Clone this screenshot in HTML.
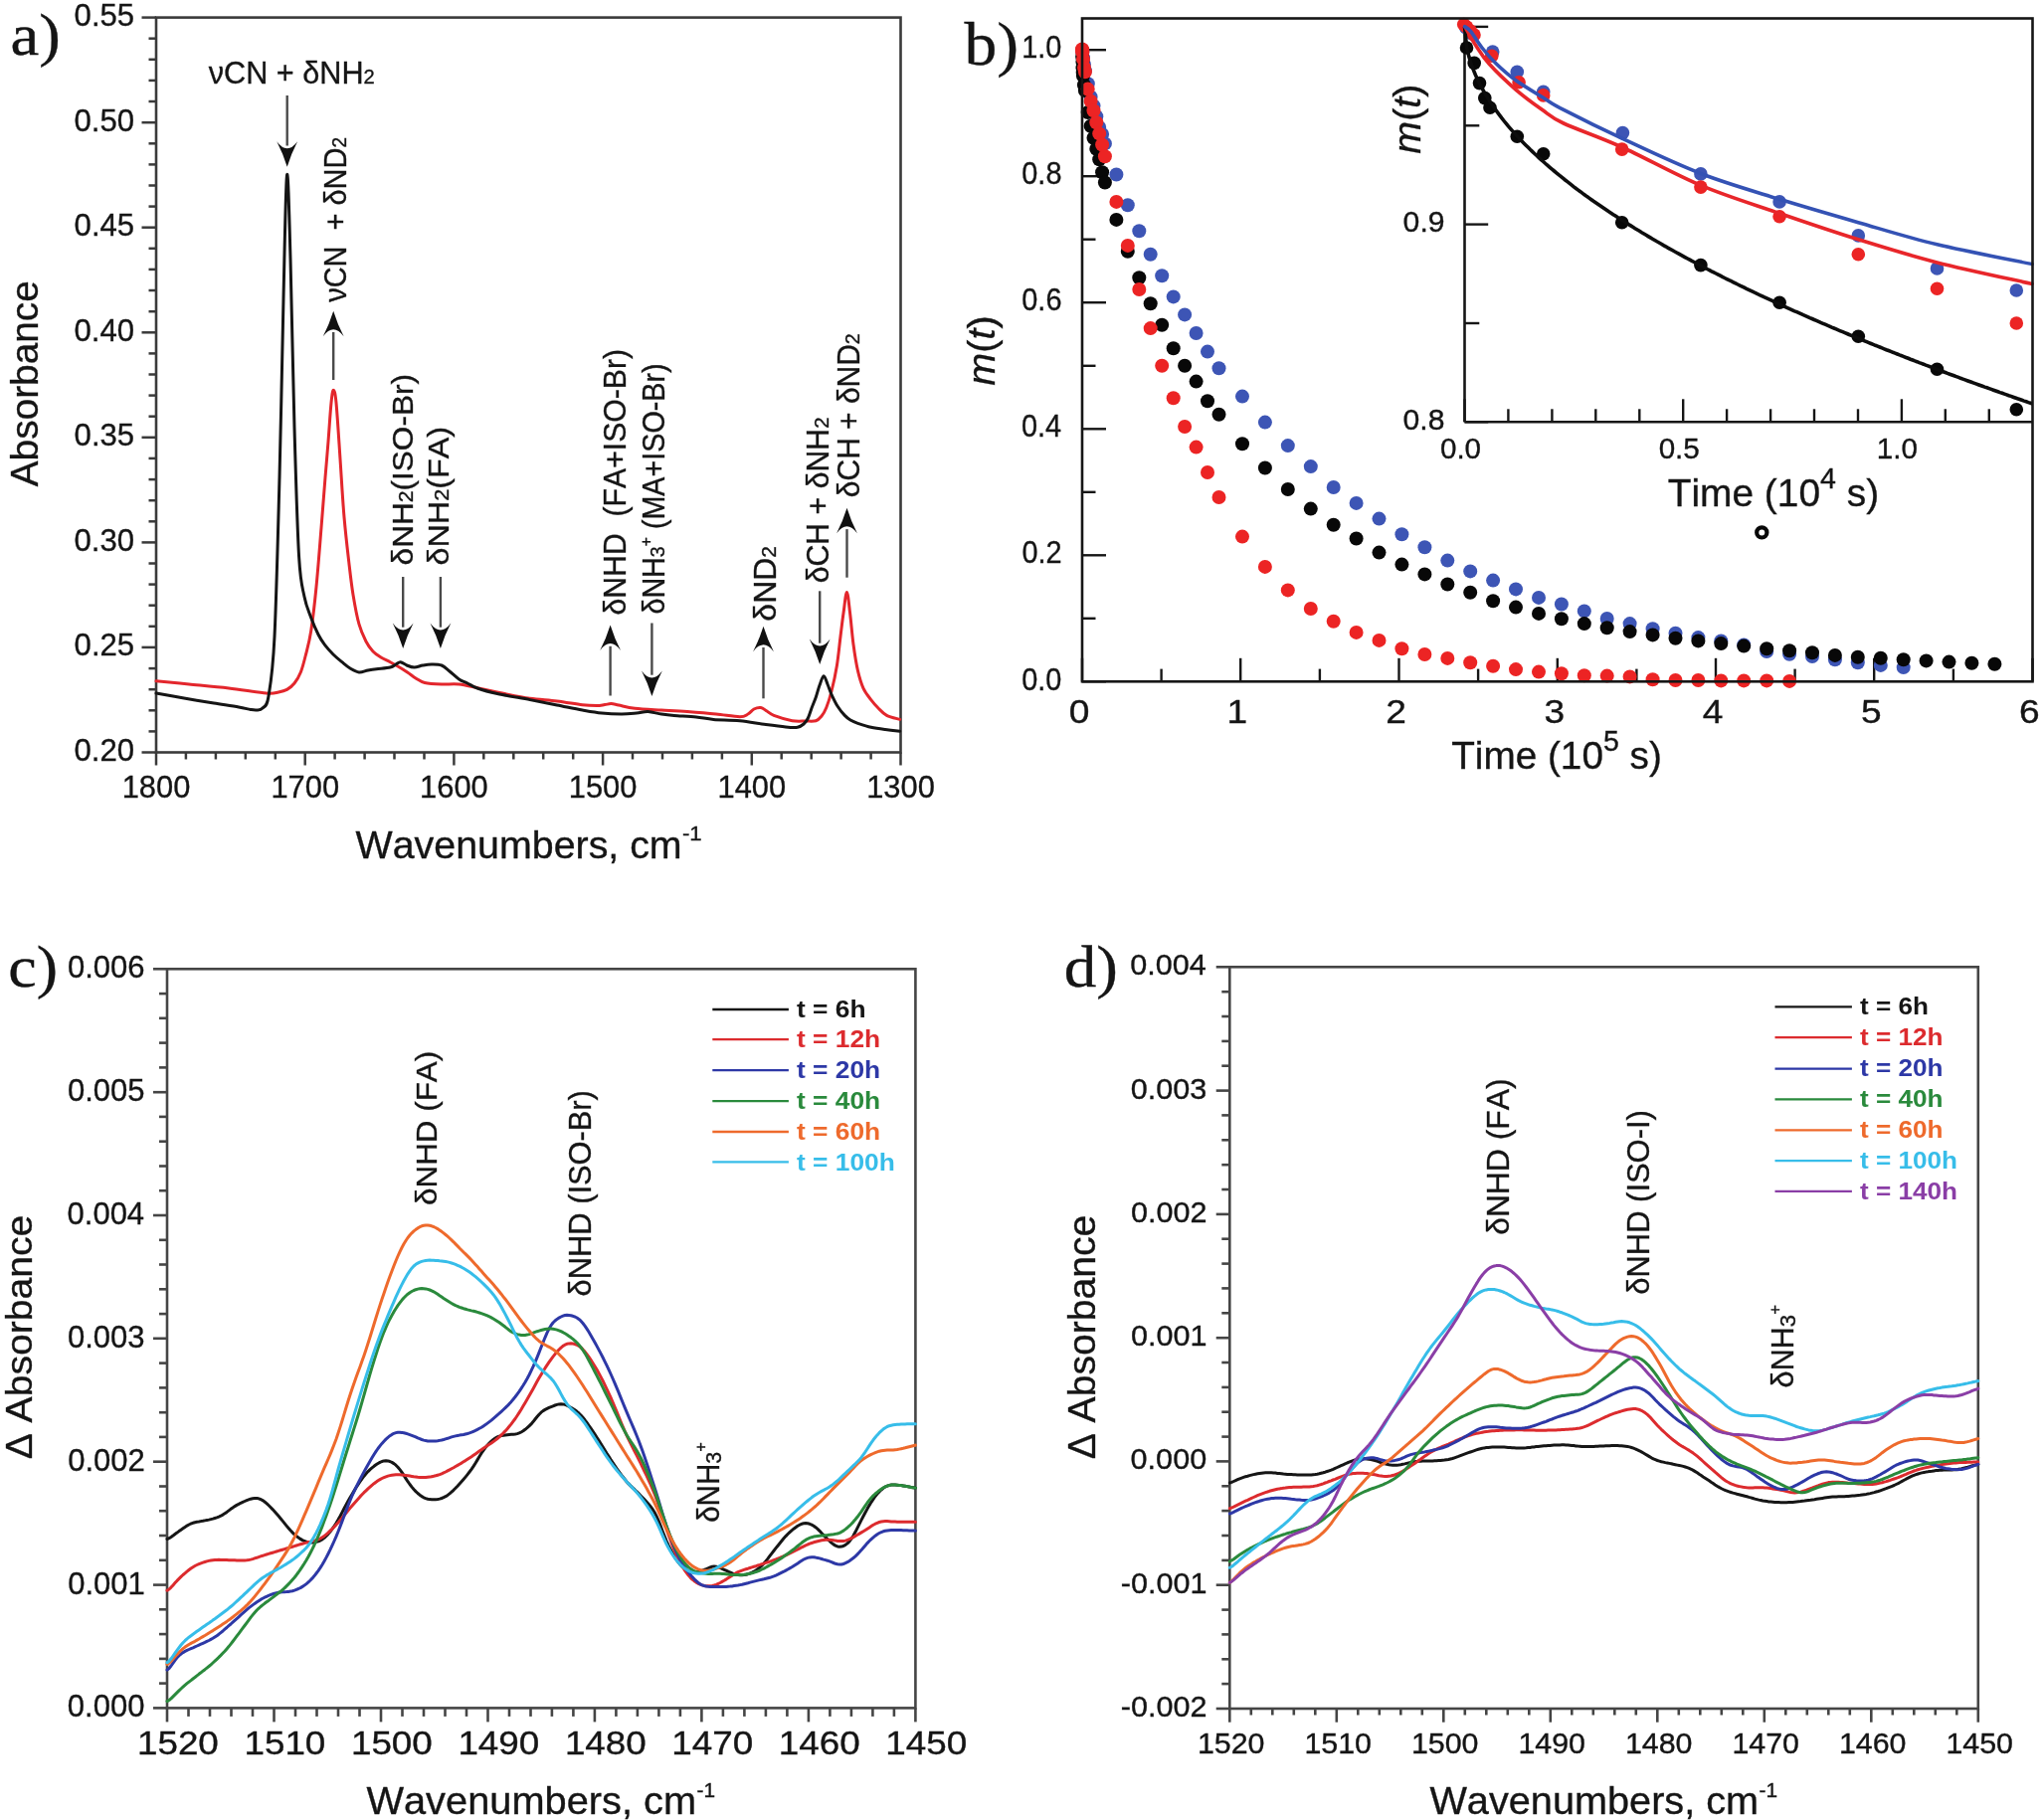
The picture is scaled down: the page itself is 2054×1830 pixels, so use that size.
<!DOCTYPE html>
<html><head><meta charset="utf-8"><title>Figure</title>
<style>
html,body{margin:0;padding:0;background:#fff;}
body{width:2054px;height:1830px;overflow:hidden;}
svg{display:block;filter:blur(0.45px);}
text{font-kerning:none;font-variant-ligatures:none;}
</style></head>
<body>
<svg xmlns="http://www.w3.org/2000/svg" width="2054" height="1830" viewBox="0 0 2054 1830">
<rect width="2054" height="1830" fill="#fff"/>
<g id="pa">
<line x1="142.5" y1="756.5" x2="157" y2="756.5" stroke="#3a3a3a" stroke-width="2.5"/>
<line x1="149.5" y1="735.4" x2="157" y2="735.4" stroke="#3a3a3a" stroke-width="2.5"/>
<line x1="149.5" y1="714.3" x2="157" y2="714.3" stroke="#3a3a3a" stroke-width="2.5"/>
<line x1="149.5" y1="693.2" x2="157" y2="693.2" stroke="#3a3a3a" stroke-width="2.5"/>
<line x1="149.5" y1="672.1" x2="157" y2="672.1" stroke="#3a3a3a" stroke-width="2.5"/>
<line x1="142.5" y1="650.9" x2="157" y2="650.9" stroke="#3a3a3a" stroke-width="2.5"/>
<line x1="149.5" y1="629.8" x2="157" y2="629.8" stroke="#3a3a3a" stroke-width="2.5"/>
<line x1="149.5" y1="608.7" x2="157" y2="608.7" stroke="#3a3a3a" stroke-width="2.5"/>
<line x1="149.5" y1="587.6" x2="157" y2="587.6" stroke="#3a3a3a" stroke-width="2.5"/>
<line x1="149.5" y1="566.5" x2="157" y2="566.5" stroke="#3a3a3a" stroke-width="2.5"/>
<line x1="142.5" y1="545.4" x2="157" y2="545.4" stroke="#3a3a3a" stroke-width="2.5"/>
<line x1="149.5" y1="524.3" x2="157" y2="524.3" stroke="#3a3a3a" stroke-width="2.5"/>
<line x1="149.5" y1="503.2" x2="157" y2="503.2" stroke="#3a3a3a" stroke-width="2.5"/>
<line x1="149.5" y1="482.1" x2="157" y2="482.1" stroke="#3a3a3a" stroke-width="2.5"/>
<line x1="149.5" y1="460.9" x2="157" y2="460.9" stroke="#3a3a3a" stroke-width="2.5"/>
<line x1="142.5" y1="439.8" x2="157" y2="439.8" stroke="#3a3a3a" stroke-width="2.5"/>
<line x1="149.5" y1="418.7" x2="157" y2="418.7" stroke="#3a3a3a" stroke-width="2.5"/>
<line x1="149.5" y1="397.6" x2="157" y2="397.6" stroke="#3a3a3a" stroke-width="2.5"/>
<line x1="149.5" y1="376.5" x2="157" y2="376.5" stroke="#3a3a3a" stroke-width="2.5"/>
<line x1="149.5" y1="355.4" x2="157" y2="355.4" stroke="#3a3a3a" stroke-width="2.5"/>
<line x1="142.5" y1="334.3" x2="157" y2="334.3" stroke="#3a3a3a" stroke-width="2.5"/>
<line x1="149.5" y1="313.2" x2="157" y2="313.2" stroke="#3a3a3a" stroke-width="2.5"/>
<line x1="149.5" y1="292" x2="157" y2="292" stroke="#3a3a3a" stroke-width="2.5"/>
<line x1="149.5" y1="270.9" x2="157" y2="270.9" stroke="#3a3a3a" stroke-width="2.5"/>
<line x1="149.5" y1="249.8" x2="157" y2="249.8" stroke="#3a3a3a" stroke-width="2.5"/>
<line x1="142.5" y1="228.7" x2="157" y2="228.7" stroke="#3a3a3a" stroke-width="2.5"/>
<line x1="149.5" y1="207.6" x2="157" y2="207.6" stroke="#3a3a3a" stroke-width="2.5"/>
<line x1="149.5" y1="186.5" x2="157" y2="186.5" stroke="#3a3a3a" stroke-width="2.5"/>
<line x1="149.5" y1="165.4" x2="157" y2="165.4" stroke="#3a3a3a" stroke-width="2.5"/>
<line x1="149.5" y1="144.3" x2="157" y2="144.3" stroke="#3a3a3a" stroke-width="2.5"/>
<line x1="142.5" y1="123.2" x2="157" y2="123.2" stroke="#3a3a3a" stroke-width="2.5"/>
<line x1="149.5" y1="102" x2="157" y2="102" stroke="#3a3a3a" stroke-width="2.5"/>
<line x1="149.5" y1="80.9" x2="157" y2="80.9" stroke="#3a3a3a" stroke-width="2.5"/>
<line x1="149.5" y1="59.8" x2="157" y2="59.8" stroke="#3a3a3a" stroke-width="2.5"/>
<line x1="149.5" y1="38.7" x2="157" y2="38.7" stroke="#3a3a3a" stroke-width="2.5"/>
<line x1="142.5" y1="17.6" x2="157" y2="17.6" stroke="#3a3a3a" stroke-width="2.5"/>
<line x1="157" y1="756.5" x2="157" y2="769.5" stroke="#3a3a3a" stroke-width="2.5"/>
<line x1="186.9" y1="756.5" x2="186.9" y2="763.5" stroke="#3a3a3a" stroke-width="2.5"/>
<line x1="216.9" y1="756.5" x2="216.9" y2="763.5" stroke="#3a3a3a" stroke-width="2.5"/>
<line x1="246.8" y1="756.5" x2="246.8" y2="763.5" stroke="#3a3a3a" stroke-width="2.5"/>
<line x1="276.8" y1="756.5" x2="276.8" y2="763.5" stroke="#3a3a3a" stroke-width="2.5"/>
<line x1="306.7" y1="756.5" x2="306.7" y2="769.5" stroke="#3a3a3a" stroke-width="2.5"/>
<line x1="336.6" y1="756.5" x2="336.6" y2="763.5" stroke="#3a3a3a" stroke-width="2.5"/>
<line x1="366.6" y1="756.5" x2="366.6" y2="763.5" stroke="#3a3a3a" stroke-width="2.5"/>
<line x1="396.5" y1="756.5" x2="396.5" y2="763.5" stroke="#3a3a3a" stroke-width="2.5"/>
<line x1="426.5" y1="756.5" x2="426.5" y2="763.5" stroke="#3a3a3a" stroke-width="2.5"/>
<line x1="456.4" y1="756.5" x2="456.4" y2="769.5" stroke="#3a3a3a" stroke-width="2.5"/>
<line x1="486.3" y1="756.5" x2="486.3" y2="763.5" stroke="#3a3a3a" stroke-width="2.5"/>
<line x1="516.3" y1="756.5" x2="516.3" y2="763.5" stroke="#3a3a3a" stroke-width="2.5"/>
<line x1="546.2" y1="756.5" x2="546.2" y2="763.5" stroke="#3a3a3a" stroke-width="2.5"/>
<line x1="576.2" y1="756.5" x2="576.2" y2="763.5" stroke="#3a3a3a" stroke-width="2.5"/>
<line x1="606.1" y1="756.5" x2="606.1" y2="769.5" stroke="#3a3a3a" stroke-width="2.5"/>
<line x1="636" y1="756.5" x2="636" y2="763.5" stroke="#3a3a3a" stroke-width="2.5"/>
<line x1="666" y1="756.5" x2="666" y2="763.5" stroke="#3a3a3a" stroke-width="2.5"/>
<line x1="695.9" y1="756.5" x2="695.9" y2="763.5" stroke="#3a3a3a" stroke-width="2.5"/>
<line x1="725.9" y1="756.5" x2="725.9" y2="763.5" stroke="#3a3a3a" stroke-width="2.5"/>
<line x1="755.8" y1="756.5" x2="755.8" y2="769.5" stroke="#3a3a3a" stroke-width="2.5"/>
<line x1="785.7" y1="756.5" x2="785.7" y2="763.5" stroke="#3a3a3a" stroke-width="2.5"/>
<line x1="815.7" y1="756.5" x2="815.7" y2="763.5" stroke="#3a3a3a" stroke-width="2.5"/>
<line x1="845.6" y1="756.5" x2="845.6" y2="763.5" stroke="#3a3a3a" stroke-width="2.5"/>
<line x1="875.6" y1="756.5" x2="875.6" y2="763.5" stroke="#3a3a3a" stroke-width="2.5"/>
<line x1="905.5" y1="756.5" x2="905.5" y2="769.5" stroke="#3a3a3a" stroke-width="2.5"/>
<rect x="157" y="17.6" width="748.5" height="738.9" fill="none" stroke="#3a3a3a" stroke-width="2.6"/>
<text transform="translate(74.48,764.90) scale(1.0050,1)" font-family="'Liberation Sans', Arial, Helvetica, sans-serif" fill="#151515" stroke="#151515" stroke-width="0.35"><tspan x="0.00" y="0.00" font-size="31">0.20</tspan></text>
<text transform="translate(74.57,659.34) scale(1.0050,1)" font-family="'Liberation Sans', Arial, Helvetica, sans-serif" fill="#151515" stroke="#151515" stroke-width="0.35"><tspan x="0.00" y="0.00" font-size="31">0.25</tspan></text>
<text transform="translate(74.48,553.79) scale(1.0050,1)" font-family="'Liberation Sans', Arial, Helvetica, sans-serif" fill="#151515" stroke="#151515" stroke-width="0.35"><tspan x="0.00" y="0.00" font-size="31">0.30</tspan></text>
<text transform="translate(74.57,448.23) scale(1.0050,1)" font-family="'Liberation Sans', Arial, Helvetica, sans-serif" fill="#151515" stroke="#151515" stroke-width="0.35"><tspan x="0.00" y="0.00" font-size="31">0.35</tspan></text>
<text transform="translate(74.48,342.67) scale(1.0050,1)" font-family="'Liberation Sans', Arial, Helvetica, sans-serif" fill="#151515" stroke="#151515" stroke-width="0.35"><tspan x="0.00" y="0.00" font-size="31">0.40</tspan></text>
<text transform="translate(74.57,237.11) scale(1.0050,1)" font-family="'Liberation Sans', Arial, Helvetica, sans-serif" fill="#151515" stroke="#151515" stroke-width="0.35"><tspan x="0.00" y="0.00" font-size="31">0.45</tspan></text>
<text transform="translate(74.48,131.56) scale(1.0050,1)" font-family="'Liberation Sans', Arial, Helvetica, sans-serif" fill="#151515" stroke="#151515" stroke-width="0.35"><tspan x="0.00" y="0.00" font-size="31">0.50</tspan></text>
<text transform="translate(74.57,26.00) scale(1.0050,1)" font-family="'Liberation Sans', Arial, Helvetica, sans-serif" fill="#151515" stroke="#151515" stroke-width="0.35"><tspan x="0.00" y="0.00" font-size="31">0.55</tspan></text>
<text transform="translate(122.70,802.00) scale(0.9798,1)" font-family="'Liberation Sans', Arial, Helvetica, sans-serif" fill="#151515" stroke="#151515" stroke-width="0.35"><tspan x="0.00" y="0.00" font-size="31.5">1800</tspan></text>
<text transform="translate(272.40,802.00) scale(0.9798,1)" font-family="'Liberation Sans', Arial, Helvetica, sans-serif" fill="#151515" stroke="#151515" stroke-width="0.35"><tspan x="0.00" y="0.00" font-size="31.5">1700</tspan></text>
<text transform="translate(422.10,802.00) scale(0.9798,1)" font-family="'Liberation Sans', Arial, Helvetica, sans-serif" fill="#151515" stroke="#151515" stroke-width="0.35"><tspan x="0.00" y="0.00" font-size="31.5">1600</tspan></text>
<text transform="translate(571.80,802.00) scale(0.9798,1)" font-family="'Liberation Sans', Arial, Helvetica, sans-serif" fill="#151515" stroke="#151515" stroke-width="0.35"><tspan x="0.00" y="0.00" font-size="31.5">1500</tspan></text>
<text transform="translate(721.50,802.00) scale(0.9798,1)" font-family="'Liberation Sans', Arial, Helvetica, sans-serif" fill="#151515" stroke="#151515" stroke-width="0.35"><tspan x="0.00" y="0.00" font-size="31.5">1400</tspan></text>
<text transform="translate(871.20,802.00) scale(0.9798,1)" font-family="'Liberation Sans', Arial, Helvetica, sans-serif" fill="#151515" stroke="#151515" stroke-width="0.35"><tspan x="0.00" y="0.00" font-size="31.5">1300</tspan></text>
<text transform="translate(357.53,863.20) scale(1.0283,1)" font-family="'Liberation Sans', Arial, Helvetica, sans-serif" fill="#151515" stroke="#151515" stroke-width="0.35"><tspan x="0.00" y="0.00" font-size="38.3">Wavenumbers, cm</tspan></text>
<text transform="translate(685.91,845.10) scale(1.0590,1)" font-family="'Liberation Sans', Arial, Helvetica, sans-serif" fill="#151515" stroke="#151515" stroke-width="0.35"><tspan x="0.00" y="0.00" font-size="21">-1</tspan></text>
<text transform="translate(37.90,489.28) rotate(-90) scale(1.0212,1)" font-family="'Liberation Sans', Arial, Helvetica, sans-serif" fill="#151515" stroke="#151515" stroke-width="0.35"><tspan x="0.00" y="0.00" font-size="38">Absorbance</tspan></text>
<text transform="translate(10.42,55.30) scale(1.0797,1)" font-family="'Liberation Serif', 'Times New Roman', serif" fill="#151515" stroke="#151515" stroke-width="0.35"><tspan x="0.00" y="0.00" font-size="60">a)</tspan></text>
<path d="M157,684.8C162.5,685.3 177.8,686.8 190,688C202.2,689.2 217.1,690.5 230,692C242.9,693.5 259.4,696.3 267.7,697C276,697.7 276.5,696.6 280,696C283.5,695.4 285.8,694.9 288.5,693.4C291.2,691.9 293.7,689.9 296,687C298.3,684.1 300.5,680.5 302.3,676C304.1,671.5 305.3,666.9 307,660C308.7,653.1 310.9,646.3 312.7,634.6C314.5,622.9 316.3,607.3 318,590C319.7,572.7 321.5,549 323,530.7C324.5,512.4 325.8,494.4 327,480C328.2,465.6 329,456.5 330,444C331,431.5 332.1,413.6 333,405C333.9,396.4 334.4,392.3 335.2,392.3C336,392.3 336.9,393.5 338,405C339.1,416.5 340.7,442.3 342,461.5C343.3,480.7 344.5,502.7 346,520C347.5,537.3 349.3,552.4 350.8,565.4C352.3,578.4 353.3,587.6 355,598C356.7,608.4 358.8,619.9 361,627.7C363.2,635.5 365.7,640.5 368,645C370.3,649.5 372.5,652.3 375,655C377.5,657.7 380.1,659.2 383,661C385.9,662.8 389.5,664.2 392.3,665.7C395.1,667.2 397.1,668.3 400,670C402.9,671.7 406.6,674 409.6,676C412.6,678 415.1,680.2 418,682C420.9,683.8 422.7,685.5 427,686.5C431.3,687.5 438.2,687.8 444,688C449.8,688.2 455.5,687.4 461.5,688C467.5,688.6 472.8,690.2 480,691.7C487.2,693.2 496.2,695.2 505,697C513.8,698.8 523.6,701 532.8,702.3C542,703.6 551.2,703.9 560,705C568.8,706.1 578.8,708 585.5,708.8C592.2,709.6 596.2,709.6 600,709.6C603.8,709.6 605.6,708.9 608,708.6C610.4,708.3 612.2,707.5 614.5,707.6C616.8,707.7 618,708.2 622,709C626,709.8 631.1,711.5 638.3,712.3C645.5,713.1 656.2,713.5 665,714C673.8,714.5 681.8,714.8 691,715.5C700.2,716.2 711.2,717.1 720,718C728.8,718.9 738.5,720.7 743.8,720.7C749.1,720.7 749.6,719.3 752,718C754.4,716.7 755.9,714.1 758,713C760.1,711.9 762.7,711.2 764.9,711.5C767.1,711.8 768.8,713.7 771,715C773.2,716.3 773.8,717.8 778,719.4C782.2,721 791.2,723.8 796.5,724.7C801.8,725.6 806,725 810,725C814,725 817.6,725.5 820.3,724.7C823,723.9 824.2,722.2 826,720C827.8,717.8 829.1,715.7 830.8,711.5C832.5,707.3 834.2,702 836,695C837.8,688 839.9,678.5 841.4,669.3C842.9,660.1 843.9,648.8 845,640C846.1,631.2 846.9,623.9 848,616.5C849.1,609.1 850.3,595.4 851.4,595.4C852.5,595.4 853.5,607.7 854.6,616.5C855.7,625.3 856.7,638.3 858,648C859.3,657.7 860.8,667.3 862.5,674.6C864.2,681.9 865.8,687.2 868,692C870.2,696.8 873.2,700.3 875.7,703.6C878.2,706.9 880.4,709.4 883,712C885.6,714.6 887.9,717.5 891.5,719.4C895.1,721.3 902.5,722.7 904.7,723.4" fill="none" stroke="#e3262c" stroke-width="3.0" stroke-linejoin="round" stroke-linecap="round"/>
<path d="M157,697C161.7,697.8 175.3,700.3 185,702C194.7,703.7 205.8,705.5 215,707C224.2,708.5 233.8,709.9 240,711C246.2,712.1 249,713 252,713.5C255,714 256,714.2 258,714C260,713.8 262,714.3 264,712C266,709.7 268,712 270,700C272,688 274.2,676.7 276,640C277.8,603.3 279.5,536.7 281,480C282.5,423.3 283.8,350.7 285,300C286.2,249.3 287.3,182.7 288.5,176C289.7,169.3 290.8,217.7 292,260C293.2,302.3 294.6,380 296,430C297.4,480 298.9,531.7 300.6,560C302.3,588.3 304,589.8 306,600C308,610.2 310.4,614.7 312.7,621C315,627.3 317.7,633.4 320,638C322.3,642.6 324,645.1 326.5,648.4C329,651.7 332.1,655.1 335,658C337.9,660.9 341,663.4 343.8,665.7C346.6,668 349.1,670.3 352,672C354.9,673.7 358,675.7 361,676C364,676.3 367.1,674.5 370,674C372.9,673.5 374.7,673.2 378.4,672.7C382.1,672.2 389,671.8 392.3,671C395.6,670.2 396.3,668.9 398,668C399.7,667.1 400.9,665.5 402.7,665.7C404.5,665.9 406.7,668.1 409,669C411.3,669.9 413.8,671 416.5,671C419.2,671 422.1,669.5 425,669C427.9,668.5 430.6,668 433.8,668C437,668 441,667.8 444,669C447,670.2 449.1,672.7 452,675C454.9,677.3 458.5,681 461.5,683C464.5,685 466.9,685.5 470,687C473.1,688.5 475,690.2 480,692C485,693.8 491.2,695.6 500,697.5C508.8,699.4 522.8,701.7 532.8,703.6C542.8,705.5 551.2,707.3 560,709C568.8,710.7 578,712.7 585.5,714C593,715.3 598.4,716.3 605,717C611.6,717.7 619.2,718 625,718C630.8,718 635.6,717.4 640,717C644.4,716.6 647.3,715.3 651.5,715.5C655.7,715.7 660.6,717.4 665,718C669.4,718.6 672,718.9 677.8,719.4C683.6,719.9 693.4,720.3 700,721C706.6,721.7 710.1,722.8 717.4,723.4C724.7,724 735,723.8 743.8,724.7C752.6,725.6 762.3,727.6 770,728.6C777.7,729.6 784.7,730.5 790,731C795.3,731.5 798.8,731.8 801.8,731.3C804.8,730.8 806.2,729.5 808,728C809.8,726.5 811.1,724.7 812.4,722C813.7,719.3 814.7,715.5 816,712C817.3,708.5 819,704.8 820.3,701C821.6,697.2 822.7,692.5 824,689C825.3,685.5 826.9,680 828.2,679.8C829.5,679.6 830.7,684.9 832,688C833.3,691.1 834.3,694.6 836,698.3C837.7,702 839.8,706.5 842,710C844.2,713.5 847.1,717.1 849.3,719.4C851.5,721.7 852.8,722.7 855,724C857.2,725.3 859,726.1 862.5,727.3C866,728.5 871.1,730.3 875.7,731.3C880.3,732.3 885.2,732.9 890,733.5C894.8,734.1 902.2,734.9 904.7,735.2" fill="none" stroke="#151515" stroke-width="3.0" stroke-linejoin="round" stroke-linecap="round"/>
<text transform="translate(209.80,83.50) scale(0.9576,1)" font-family="'Liberation Sans', Arial, Helvetica, sans-serif" fill="#151515" stroke="#151515" stroke-width="0.35"><tspan x="0.00" y="0.00" font-size="32">νCN + δNH</tspan><tspan x="162.72" y="0.00" font-size="21">2</tspan></text>
<text transform="translate(348.00,303.80) rotate(-90) scale(0.9049,1)" font-family="'Liberation Sans', Arial, Helvetica, sans-serif" fill="#151515" stroke="#151515" stroke-width="0.35"><tspan x="0.00" y="0.00" font-size="32">νCN  + δND</tspan><tspan x="171.61" y="0.00" font-size="21">2</tspan></text>
<text transform="translate(414.60,568.43) rotate(-90) scale(1.0887,1)" font-family="'Liberation Sans', Arial, Helvetica, sans-serif" fill="#151515" stroke="#151515" stroke-width="0.35"><tspan x="0.00" y="0.00" font-size="29">δNH</tspan><tspan x="58.03" y="0.00" font-size="19.5">2</tspan><tspan x="68.87" y="0.00" font-size="29">(ISO-Br)</tspan></text>
<text transform="translate(451.00,568.46) rotate(-90) scale(1.1143,1)" font-family="'Liberation Sans', Arial, Helvetica, sans-serif" fill="#151515" stroke="#151515" stroke-width="0.35"><tspan x="0.00" y="0.00" font-size="29">δNH</tspan><tspan x="58.03" y="0.00" font-size="19.5">2</tspan><tspan x="68.87" y="0.00" font-size="29">(FA)</tspan></text>
<text transform="translate(629.20,618.47) rotate(-90) scale(0.9742,1)" font-family="'Liberation Sans', Arial, Helvetica, sans-serif" fill="#151515" stroke="#151515" stroke-width="0.35"><tspan x="0.00" y="0.00" font-size="31">δNHD  (FA+ISO-Br)</tspan></text>
<text transform="translate(667.50,617.61) rotate(-90) scale(0.9268,1)" font-family="'Liberation Sans', Arial, Helvetica, sans-serif" fill="#151515" stroke="#151515" stroke-width="0.35"><tspan x="0.00" y="0.00" font-size="31">δNH</tspan><tspan x="62.03" y="0.00" font-size="21">3</tspan><tspan x="73.71" y="-13.00" font-size="17">+</tspan><tspan x="83.64" y="0.00" font-size="31"> (MA+ISO-Br)</tspan></text>
<text transform="translate(779.90,624.64) rotate(-90) scale(0.9999,1)" font-family="'Liberation Sans', Arial, Helvetica, sans-serif" fill="#151515" stroke="#151515" stroke-width="0.35"><tspan x="0.00" y="0.00" font-size="32">δND</tspan><tspan x="64.03" y="0.00" font-size="21">2</tspan></text>
<text transform="translate(832.70,586.27) rotate(-90) scale(0.9750,1)" font-family="'Liberation Sans', Arial, Helvetica, sans-serif" fill="#151515" stroke="#151515" stroke-width="0.35"><tspan x="0.00" y="0.00" font-size="31">δCH + δNH</tspan><tspan x="159.39" y="0.00" font-size="21">2</tspan></text>
<text transform="translate(864.30,500.16) rotate(-90) scale(0.9361,1)" font-family="'Liberation Sans', Arial, Helvetica, sans-serif" fill="#151515" stroke="#151515" stroke-width="0.35"><tspan x="0.00" y="0.00" font-size="32">δCH + δND</tspan><tspan x="164.53" y="0.00" font-size="21">2</tspan></text>
<line x1="288.7" y1="96" x2="288.7" y2="146.5" stroke="#4a4a4a" stroke-width="2.4"/>
<path d="M288.7,167.8 Q284.5,154.3 278.3,142.3 Q288.7,156.3 299.1,142.3 Q292.9,154.3 288.7,167.8 Z" fill="#111"/>
<line x1="335.2" y1="382" x2="335.2" y2="334" stroke="#4a4a4a" stroke-width="2.4"/>
<path d="M335.2,312.7 Q331,326.2 324.8,338.2 Q335.2,324.2 345.6,338.2 Q339.4,326.2 335.2,312.7 Z" fill="#111"/>
<line x1="405.2" y1="580" x2="405.2" y2="630.7" stroke="#4a4a4a" stroke-width="2.4"/>
<path d="M405.2,652 Q401,638.5 394.8,626.5 Q405.2,640.5 415.6,626.5 Q409.4,638.5 405.2,652 Z" fill="#111"/>
<line x1="442.9" y1="580" x2="442.9" y2="630.7" stroke="#4a4a4a" stroke-width="2.4"/>
<path d="M442.9,652 Q438.7,638.5 432.5,626.5 Q442.9,640.5 453.3,626.5 Q447.1,638.5 442.9,652 Z" fill="#111"/>
<line x1="613.6" y1="699.5" x2="613.6" y2="649.8" stroke="#4a4a4a" stroke-width="2.4"/>
<path d="M613.6,628.5 Q609.4,642 603.2,654 Q613.6,640 624,654 Q617.8,642 613.6,628.5 Z" fill="#111"/>
<line x1="655.4" y1="626.5" x2="655.4" y2="678.7" stroke="#4a4a4a" stroke-width="2.4"/>
<path d="M655.4,700 Q651.2,686.5 645,674.5 Q655.4,688.5 665.8,674.5 Q659.6,686.5 655.4,700 Z" fill="#111"/>
<line x1="767.5" y1="702.3" x2="767.5" y2="651" stroke="#4a4a4a" stroke-width="2.4"/>
<path d="M767.5,629.7 Q763.3,643.2 757.1,655.2 Q767.5,641.2 777.9,655.2 Q771.7,643.2 767.5,629.7 Z" fill="#111"/>
<line x1="824.2" y1="594.3" x2="824.2" y2="646.7" stroke="#4a4a4a" stroke-width="2.4"/>
<path d="M824.2,668 Q820,654.5 813.8,642.5 Q824.2,656.5 834.6,642.5 Q828.4,654.5 824.2,668 Z" fill="#111"/>
<line x1="851.5" y1="580.7" x2="851.5" y2="532.1" stroke="#4a4a4a" stroke-width="2.4"/>
<path d="M851.5,510.8 Q847.3,524.3 841.1,536.3 Q851.5,522.3 861.9,536.3 Q855.7,524.3 851.5,510.8 Z" fill="#111"/>
</g>
<g id="pb">
<line x1="1088" y1="685.3" x2="1112" y2="685.3" stroke="#161616" stroke-width="2.4"/>
<line x1="1088" y1="621.8" x2="1101.5" y2="621.8" stroke="#161616" stroke-width="2.4"/>
<line x1="1088" y1="558.3" x2="1112" y2="558.3" stroke="#161616" stroke-width="2.4"/>
<line x1="1088" y1="494.8" x2="1101.5" y2="494.8" stroke="#161616" stroke-width="2.4"/>
<line x1="1088" y1="431.3" x2="1112" y2="431.3" stroke="#161616" stroke-width="2.4"/>
<line x1="1088" y1="367.8" x2="1101.5" y2="367.8" stroke="#161616" stroke-width="2.4"/>
<line x1="1088" y1="304.2" x2="1112" y2="304.2" stroke="#161616" stroke-width="2.4"/>
<line x1="1088" y1="240.7" x2="1101.5" y2="240.7" stroke="#161616" stroke-width="2.4"/>
<line x1="1088" y1="177.2" x2="1112" y2="177.2" stroke="#161616" stroke-width="2.4"/>
<line x1="1088" y1="113.7" x2="1101.5" y2="113.7" stroke="#161616" stroke-width="2.4"/>
<line x1="1088" y1="50.2" x2="1112" y2="50.2" stroke="#161616" stroke-width="2.4"/>
<line x1="1088" y1="685.3" x2="1088" y2="661.8" stroke="#161616" stroke-width="2.4"/>
<line x1="1167.6" y1="685.3" x2="1167.6" y2="672.6" stroke="#161616" stroke-width="2.4"/>
<line x1="1247.2" y1="685.3" x2="1247.2" y2="661.8" stroke="#161616" stroke-width="2.4"/>
<line x1="1326.9" y1="685.3" x2="1326.9" y2="672.6" stroke="#161616" stroke-width="2.4"/>
<line x1="1406.5" y1="685.3" x2="1406.5" y2="661.8" stroke="#161616" stroke-width="2.4"/>
<line x1="1486.1" y1="685.3" x2="1486.1" y2="672.6" stroke="#161616" stroke-width="2.4"/>
<line x1="1565.8" y1="685.3" x2="1565.8" y2="661.8" stroke="#161616" stroke-width="2.4"/>
<line x1="1645.4" y1="685.3" x2="1645.4" y2="672.6" stroke="#161616" stroke-width="2.4"/>
<line x1="1725" y1="685.3" x2="1725" y2="661.8" stroke="#161616" stroke-width="2.4"/>
<line x1="1804.6" y1="685.3" x2="1804.6" y2="672.6" stroke="#161616" stroke-width="2.4"/>
<line x1="1884.2" y1="685.3" x2="1884.2" y2="661.8" stroke="#161616" stroke-width="2.4"/>
<line x1="1963.9" y1="685.3" x2="1963.9" y2="672.6" stroke="#161616" stroke-width="2.4"/>
<line x1="2043.5" y1="685.3" x2="2043.5" y2="661.8" stroke="#161616" stroke-width="2.4"/>
<text transform="translate(1027.17,693.50) scale(0.9471,1)" font-family="'Liberation Sans', Arial, Helvetica, sans-serif" fill="#151515" stroke="#151515" stroke-width="0.35"><tspan x="0.00" y="0.00" font-size="30.5">0.0</tspan></text>
<text transform="translate(1027.50,566.48) scale(0.9471,1)" font-family="'Liberation Sans', Arial, Helvetica, sans-serif" fill="#151515" stroke="#151515" stroke-width="0.35"><tspan x="0.00" y="0.00" font-size="30.5">0.2</tspan></text>
<text transform="translate(1026.89,439.46) scale(0.9471,1)" font-family="'Liberation Sans', Arial, Helvetica, sans-serif" fill="#151515" stroke="#151515" stroke-width="0.35"><tspan x="0.00" y="0.00" font-size="30.5">0.4</tspan></text>
<text transform="translate(1027.31,312.44) scale(0.9471,1)" font-family="'Liberation Sans', Arial, Helvetica, sans-serif" fill="#151515" stroke="#151515" stroke-width="0.35"><tspan x="0.00" y="0.00" font-size="30.5">0.6</tspan></text>
<text transform="translate(1027.30,185.42) scale(0.9471,1)" font-family="'Liberation Sans', Arial, Helvetica, sans-serif" fill="#151515" stroke="#151515" stroke-width="0.35"><tspan x="0.00" y="0.00" font-size="30.5">0.8</tspan></text>
<text transform="translate(1027.17,58.40) scale(0.9471,1)" font-family="'Liberation Sans', Arial, Helvetica, sans-serif" fill="#151515" stroke="#151515" stroke-width="0.35"><tspan x="0.00" y="0.00" font-size="30.5">1.0</tspan></text>
<text transform="translate(1074.68,727.30) scale(1.0918,1)" font-family="'Liberation Sans', Arial, Helvetica, sans-serif" fill="#151515" stroke="#151515" stroke-width="0.35"><tspan x="0.00" y="0.00" font-size="34">0</tspan></text>
<text transform="translate(1233.42,727.30) scale(1.0918,1)" font-family="'Liberation Sans', Arial, Helvetica, sans-serif" fill="#151515" stroke="#151515" stroke-width="0.35"><tspan x="0.00" y="0.00" font-size="34">1</tspan></text>
<text transform="translate(1393.18,727.30) scale(1.0918,1)" font-family="'Liberation Sans', Arial, Helvetica, sans-serif" fill="#151515" stroke="#151515" stroke-width="0.35"><tspan x="0.00" y="0.00" font-size="34">2</tspan></text>
<text transform="translate(1552.54,727.30) scale(1.0918,1)" font-family="'Liberation Sans', Arial, Helvetica, sans-serif" fill="#151515" stroke="#151515" stroke-width="0.35"><tspan x="0.00" y="0.00" font-size="34">3</tspan></text>
<text transform="translate(1711.80,727.30) scale(1.0918,1)" font-family="'Liberation Sans', Arial, Helvetica, sans-serif" fill="#151515" stroke="#151515" stroke-width="0.35"><tspan x="0.00" y="0.00" font-size="34">4</tspan></text>
<text transform="translate(1870.96,727.30) scale(1.0918,1)" font-family="'Liberation Sans', Arial, Helvetica, sans-serif" fill="#151515" stroke="#151515" stroke-width="0.35"><tspan x="0.00" y="0.00" font-size="34">5</tspan></text>
<text transform="translate(2030.05,727.30) scale(1.0918,1)" font-family="'Liberation Sans', Arial, Helvetica, sans-serif" fill="#151515" stroke="#151515" stroke-width="0.35"><tspan x="0.00" y="0.00" font-size="34">6</tspan></text>
<text transform="translate(1459.13,773.40) scale(0.9834,1)" font-family="'Liberation Sans', Arial, Helvetica, sans-serif" fill="#151515" stroke="#151515" stroke-width="0.35"><tspan x="0.00" y="0.00" font-size="39.4">Time (10</tspan><tspan x="155.45" y="-18.20" font-size="29">5</tspan><tspan x="171.57" y="0.00" font-size="39.4"> s)</tspan></text>
<text transform="translate(1000.20,387.66) rotate(-90) scale(1.0263,1)" font-family="'Liberation Sans', Arial, Helvetica, sans-serif" fill="#151515" stroke="#151515" stroke-width="0.35"><tspan x="0.00" y="0.00" font-size="38.5" font-style="italic">m</tspan><tspan x="32.07" y="0.00" font-size="38.5">(</tspan><tspan x="44.89" y="0.00" font-size="38.5" font-style="italic">t</tspan><tspan x="55.59" y="0.00" font-size="38.5">)</tspan></text>
<text transform="translate(969.40,65.30) scale(1.0741,1)" font-family="'Liberation Serif', 'Times New Roman', serif" fill="#151515" stroke="#151515" stroke-width="0.35"><tspan x="0.00" y="0.00" font-size="61">b)</tspan></text>
<circle cx="1088.1" cy="50.6" r="7.0" fill="#3d55b5"/>
<circle cx="1088.3" cy="52.5" r="7.0" fill="#3d55b5"/>
<circle cx="1089" cy="58.2" r="7.0" fill="#3d55b5"/>
<circle cx="1089.9" cy="64.7" r="7.0" fill="#3d55b5"/>
<circle cx="1090.9" cy="71.1" r="7.0" fill="#3d55b5"/>
<circle cx="1093.8" cy="84.3" r="7.0" fill="#3d55b5"/>
<circle cx="1096.6" cy="97.5" r="7.0" fill="#3d55b5"/>
<circle cx="1099.5" cy="106.5" r="7.0" fill="#3d55b5"/>
<circle cx="1102.3" cy="117.3" r="7.0" fill="#3d55b5"/>
<circle cx="1105.2" cy="127.9" r="7.0" fill="#3d55b5"/>
<circle cx="1108.1" cy="134.9" r="7.0" fill="#3d55b5"/>
<circle cx="1110.9" cy="144.4" r="7.0" fill="#3d55b5"/>
<circle cx="1122.4" cy="175.5" r="7.0" fill="#3d55b5"/>
<circle cx="1133.8" cy="206.2" r="7.0" fill="#3d55b5"/>
<circle cx="1145.3" cy="232.2" r="7.0" fill="#3d55b5"/>
<circle cx="1156.7" cy="255.7" r="7.0" fill="#3d55b5"/>
<circle cx="1168.2" cy="277.3" r="7.0" fill="#3d55b5"/>
<circle cx="1179.7" cy="298.4" r="7.0" fill="#3d55b5"/>
<circle cx="1191.1" cy="316.4" r="7.0" fill="#3d55b5"/>
<circle cx="1202.6" cy="335" r="7.0" fill="#3d55b5"/>
<circle cx="1214" cy="353.6" r="7.0" fill="#3d55b5"/>
<circle cx="1225.5" cy="370.3" r="7.0" fill="#3d55b5"/>
<circle cx="1249" cy="398.6" r="7.0" fill="#3d55b5"/>
<circle cx="1271.9" cy="424.6" r="7.0" fill="#3d55b5"/>
<circle cx="1294.8" cy="448.1" r="7.0" fill="#3d55b5"/>
<circle cx="1317.8" cy="469.1" r="7.0" fill="#3d55b5"/>
<circle cx="1340.7" cy="490" r="7.0" fill="#3d55b5"/>
<circle cx="1363.6" cy="505.9" r="7.0" fill="#3d55b5"/>
<circle cx="1386.5" cy="521.6" r="7.0" fill="#3d55b5"/>
<circle cx="1409.4" cy="537.2" r="7.0" fill="#3d55b5"/>
<circle cx="1432.4" cy="550.3" r="7.0" fill="#3d55b5"/>
<circle cx="1455.3" cy="563.6" r="7.0" fill="#3d55b5"/>
<circle cx="1478.2" cy="574.4" r="7.0" fill="#3d55b5"/>
<circle cx="1501.1" cy="583.6" r="7.0" fill="#3d55b5"/>
<circle cx="1524" cy="592.4" r="7.0" fill="#3d55b5"/>
<circle cx="1547" cy="600.9" r="7.0" fill="#3d55b5"/>
<circle cx="1569.9" cy="607.5" r="7.0" fill="#3d55b5"/>
<circle cx="1592.8" cy="614.4" r="7.0" fill="#3d55b5"/>
<circle cx="1615.7" cy="622" r="7.0" fill="#3d55b5"/>
<circle cx="1638.6" cy="627.1" r="7.0" fill="#3d55b5"/>
<circle cx="1661.6" cy="632.2" r="7.0" fill="#3d55b5"/>
<circle cx="1684.5" cy="636.7" r="7.0" fill="#3d55b5"/>
<circle cx="1707.4" cy="641.1" r="7.0" fill="#3d55b5"/>
<circle cx="1730.3" cy="644.4" r="7.0" fill="#3d55b5"/>
<circle cx="1753.2" cy="648.5" r="7.0" fill="#3d55b5"/>
<circle cx="1776.2" cy="655.1" r="7.0" fill="#3d55b5"/>
<circle cx="1799.1" cy="657.8" r="7.0" fill="#3d55b5"/>
<circle cx="1822" cy="660" r="7.0" fill="#3d55b5"/>
<circle cx="1844.9" cy="663.3" r="7.0" fill="#3d55b5"/>
<circle cx="1867.8" cy="666.2" r="7.0" fill="#3d55b5"/>
<circle cx="1890.8" cy="668.9" r="7.0" fill="#3d55b5"/>
<circle cx="1913.7" cy="671.1" r="7.0" fill="#3d55b5"/>
<circle cx="1088.1" cy="56.9" r="7.0" fill="#080808"/>
<circle cx="1088.4" cy="61.9" r="7.0" fill="#080808"/>
<circle cx="1088.5" cy="68.3" r="7.0" fill="#080808"/>
<circle cx="1088.7" cy="73.1" r="7.0" fill="#080808"/>
<circle cx="1088.9" cy="76.2" r="7.0" fill="#080808"/>
<circle cx="1089.9" cy="85.5" r="7.0" fill="#080808"/>
<circle cx="1090.9" cy="91.1" r="7.0" fill="#080808"/>
<circle cx="1093.7" cy="113.1" r="7.0" fill="#080808"/>
<circle cx="1096.6" cy="126.8" r="7.0" fill="#080808"/>
<circle cx="1099.5" cy="138.8" r="7.0" fill="#080808"/>
<circle cx="1102.3" cy="149.7" r="7.0" fill="#080808"/>
<circle cx="1105.2" cy="160.2" r="7.0" fill="#080808"/>
<circle cx="1108.1" cy="173.2" r="7.0" fill="#080808"/>
<circle cx="1110.9" cy="183.5" r="7.0" fill="#080808"/>
<circle cx="1122.4" cy="220.9" r="7.0" fill="#080808"/>
<circle cx="1133.8" cy="252.8" r="7.0" fill="#080808"/>
<circle cx="1145.3" cy="279.2" r="7.0" fill="#080808"/>
<circle cx="1156.7" cy="305.3" r="7.0" fill="#080808"/>
<circle cx="1168.2" cy="326.8" r="7.0" fill="#080808"/>
<circle cx="1179.7" cy="350.3" r="7.0" fill="#080808"/>
<circle cx="1191.1" cy="367.7" r="7.0" fill="#080808"/>
<circle cx="1202.6" cy="383.6" r="7.0" fill="#080808"/>
<circle cx="1214" cy="403.2" r="7.0" fill="#080808"/>
<circle cx="1225.5" cy="416.7" r="7.0" fill="#080808"/>
<circle cx="1249" cy="446.2" r="7.0" fill="#080808"/>
<circle cx="1271.9" cy="470.5" r="7.0" fill="#080808"/>
<circle cx="1294.8" cy="492" r="7.0" fill="#080808"/>
<circle cx="1317.8" cy="511.6" r="7.0" fill="#080808"/>
<circle cx="1340.7" cy="527.8" r="7.0" fill="#080808"/>
<circle cx="1363.6" cy="541.5" r="7.0" fill="#080808"/>
<circle cx="1386.5" cy="555.6" r="7.0" fill="#080808"/>
<circle cx="1409.4" cy="567.6" r="7.0" fill="#080808"/>
<circle cx="1432.4" cy="577.4" r="7.0" fill="#080808"/>
<circle cx="1455.3" cy="587.5" r="7.0" fill="#080808"/>
<circle cx="1478.2" cy="595.8" r="7.0" fill="#080808"/>
<circle cx="1501.1" cy="604.2" r="7.0" fill="#080808"/>
<circle cx="1524" cy="610.6" r="7.0" fill="#080808"/>
<circle cx="1547" cy="616.9" r="7.0" fill="#080808"/>
<circle cx="1569.9" cy="622.2" r="7.0" fill="#080808"/>
<circle cx="1592.8" cy="627.1" r="7.0" fill="#080808"/>
<circle cx="1615.7" cy="631.3" r="7.0" fill="#080808"/>
<circle cx="1638.6" cy="635.1" r="7.0" fill="#080808"/>
<circle cx="1661.6" cy="638.4" r="7.0" fill="#080808"/>
<circle cx="1684.5" cy="641.8" r="7.0" fill="#080808"/>
<circle cx="1707.4" cy="644.4" r="7.0" fill="#080808"/>
<circle cx="1730.3" cy="647.1" r="7.0" fill="#080808"/>
<circle cx="1753.2" cy="649.6" r="7.0" fill="#080808"/>
<circle cx="1776.2" cy="652.2" r="7.0" fill="#080808"/>
<circle cx="1799.1" cy="654.2" r="7.0" fill="#080808"/>
<circle cx="1822" cy="656.2" r="7.0" fill="#080808"/>
<circle cx="1844.9" cy="658.9" r="7.0" fill="#080808"/>
<circle cx="1867.8" cy="660.7" r="7.0" fill="#080808"/>
<circle cx="1890.8" cy="661.8" r="7.0" fill="#080808"/>
<circle cx="1913.7" cy="663.3" r="7.0" fill="#080808"/>
<circle cx="1936.6" cy="664.4" r="7.0" fill="#080808"/>
<circle cx="1959.5" cy="665.6" r="7.0" fill="#080808"/>
<circle cx="1982.4" cy="666.7" r="7.0" fill="#080808"/>
<circle cx="2005.4" cy="667.8" r="7.0" fill="#080808"/>
<circle cx="1088" cy="49.4" r="7.0" fill="#ec2424"/>
<circle cx="1088.1" cy="50.2" r="7.0" fill="#ec2424"/>
<circle cx="1088.2" cy="51.5" r="7.0" fill="#ec2424"/>
<circle cx="1088.3" cy="52.8" r="7.0" fill="#ec2424"/>
<circle cx="1089" cy="59.6" r="7.0" fill="#ec2424"/>
<circle cx="1090" cy="68" r="7.0" fill="#ec2424"/>
<circle cx="1090.9" cy="72.3" r="7.0" fill="#ec2424"/>
<circle cx="1093.7" cy="89.6" r="7.0" fill="#ec2424"/>
<circle cx="1096.6" cy="101.7" r="7.0" fill="#ec2424"/>
<circle cx="1099.5" cy="111.2" r="7.0" fill="#ec2424"/>
<circle cx="1102.3" cy="123.3" r="7.0" fill="#ec2424"/>
<circle cx="1105.2" cy="134.4" r="7.0" fill="#ec2424"/>
<circle cx="1108.1" cy="145.5" r="7.0" fill="#ec2424"/>
<circle cx="1110.9" cy="157.3" r="7.0" fill="#ec2424"/>
<circle cx="1122.4" cy="202.9" r="7.0" fill="#ec2424"/>
<circle cx="1133.8" cy="246.9" r="7.0" fill="#ec2424"/>
<circle cx="1145.3" cy="291" r="7.0" fill="#ec2424"/>
<circle cx="1156.7" cy="330.1" r="7.0" fill="#ec2424"/>
<circle cx="1168.2" cy="367.7" r="7.0" fill="#ec2424"/>
<circle cx="1179.7" cy="400.2" r="7.0" fill="#ec2424"/>
<circle cx="1191.1" cy="429" r="7.0" fill="#ec2424"/>
<circle cx="1202.6" cy="449.6" r="7.0" fill="#ec2424"/>
<circle cx="1214" cy="475" r="7.0" fill="#ec2424"/>
<circle cx="1225.5" cy="500" r="7.0" fill="#ec2424"/>
<circle cx="1249" cy="539.6" r="7.0" fill="#ec2424"/>
<circle cx="1271.9" cy="569.9" r="7.0" fill="#ec2424"/>
<circle cx="1294.8" cy="593.4" r="7.0" fill="#ec2424"/>
<circle cx="1317.8" cy="612" r="7.0" fill="#ec2424"/>
<circle cx="1340.7" cy="624.7" r="7.0" fill="#ec2424"/>
<circle cx="1363.6" cy="635.9" r="7.0" fill="#ec2424"/>
<circle cx="1386.5" cy="643.9" r="7.0" fill="#ec2424"/>
<circle cx="1409.4" cy="652.2" r="7.0" fill="#ec2424"/>
<circle cx="1432.4" cy="658" r="7.0" fill="#ec2424"/>
<circle cx="1455.3" cy="661.9" r="7.0" fill="#ec2424"/>
<circle cx="1478.2" cy="666.2" r="7.0" fill="#ec2424"/>
<circle cx="1501.1" cy="669.8" r="7.0" fill="#ec2424"/>
<circle cx="1524" cy="673.1" r="7.0" fill="#ec2424"/>
<circle cx="1547" cy="675.6" r="7.0" fill="#ec2424"/>
<circle cx="1569.9" cy="677.2" r="7.0" fill="#ec2424"/>
<circle cx="1592.8" cy="679.2" r="7.0" fill="#ec2424"/>
<circle cx="1615.7" cy="679.6" r="7.0" fill="#ec2424"/>
<circle cx="1638.6" cy="680.4" r="7.0" fill="#ec2424"/>
<circle cx="1661.6" cy="683.3" r="7.0" fill="#ec2424"/>
<circle cx="1684.5" cy="684" r="7.0" fill="#ec2424"/>
<circle cx="1707.4" cy="684" r="7.0" fill="#ec2424"/>
<circle cx="1730.3" cy="684.4" r="7.0" fill="#ec2424"/>
<circle cx="1753.2" cy="684.4" r="7.0" fill="#ec2424"/>
<circle cx="1776.2" cy="684.4" r="7.0" fill="#ec2424"/>
<circle cx="1799.1" cy="684.9" r="7.0" fill="#ec2424"/>
<circle cx="1771.3" cy="535.4" r="5.1" fill="none" stroke="#080808" stroke-width="4.2"/>
<rect x="1472.5" y="18.5" width="571" height="405.8" fill="#fff" stroke="none"/>
<line x1="1472.5" y1="424.3" x2="1496.2" y2="424.3" stroke="#161616" stroke-width="2.4"/>
<line x1="1472.5" y1="325" x2="1487.3" y2="325" stroke="#161616" stroke-width="2.4"/>
<line x1="1472.5" y1="225.6" x2="1496.2" y2="225.6" stroke="#161616" stroke-width="2.4"/>
<line x1="1472.5" y1="126.3" x2="1487.3" y2="126.3" stroke="#161616" stroke-width="2.4"/>
<line x1="1472.5" y1="26.9" x2="1496.2" y2="26.9" stroke="#161616" stroke-width="2.4"/>
<line x1="1472.5" y1="424.3" x2="1472.5" y2="401.3" stroke="#161616" stroke-width="2.4"/>
<line x1="1516.4" y1="424.3" x2="1516.4" y2="411.3" stroke="#161616" stroke-width="2.4"/>
<line x1="1560.4" y1="424.3" x2="1560.4" y2="411.3" stroke="#161616" stroke-width="2.4"/>
<line x1="1604.3" y1="424.3" x2="1604.3" y2="411.3" stroke="#161616" stroke-width="2.4"/>
<line x1="1648.3" y1="424.3" x2="1648.3" y2="411.3" stroke="#161616" stroke-width="2.4"/>
<line x1="1692.2" y1="424.3" x2="1692.2" y2="401.3" stroke="#161616" stroke-width="2.4"/>
<line x1="1736.1" y1="424.3" x2="1736.1" y2="411.3" stroke="#161616" stroke-width="2.4"/>
<line x1="1780.1" y1="424.3" x2="1780.1" y2="411.3" stroke="#161616" stroke-width="2.4"/>
<line x1="1824" y1="424.3" x2="1824" y2="411.3" stroke="#161616" stroke-width="2.4"/>
<line x1="1868" y1="424.3" x2="1868" y2="411.3" stroke="#161616" stroke-width="2.4"/>
<line x1="1911.9" y1="424.3" x2="1911.9" y2="401.3" stroke="#161616" stroke-width="2.4"/>
<line x1="1955.8" y1="424.3" x2="1955.8" y2="411.3" stroke="#161616" stroke-width="2.4"/>
<line x1="1999.8" y1="424.3" x2="1999.8" y2="411.3" stroke="#161616" stroke-width="2.4"/>
<line x1="1472.5" y1="18.5" x2="1472.5" y2="424.3" stroke="#161616" stroke-width="2.6"/>
<line x1="1472.5" y1="424.3" x2="2043.5" y2="424.3" stroke="#161616" stroke-width="2.6"/>
<text transform="translate(1410.62,233.10) scale(1.0048,1)" font-family="'Liberation Sans', Arial, Helvetica, sans-serif" fill="#151515" stroke="#151515" stroke-width="0.35"><tspan x="0.00" y="0.00" font-size="30">0.9</tspan></text>
<text transform="translate(1410.50,431.80) scale(1.0048,1)" font-family="'Liberation Sans', Arial, Helvetica, sans-serif" fill="#151515" stroke="#151515" stroke-width="0.35"><tspan x="0.00" y="0.00" font-size="30">0.8</tspan></text>
<text transform="translate(1447.90,461.00) scale(0.9880,1)" font-family="'Liberation Sans', Arial, Helvetica, sans-serif" fill="#151515" stroke="#151515" stroke-width="0.35"><tspan x="0.00" y="0.00" font-size="30">0.0</tspan></text>
<text transform="translate(1667.64,461.00) scale(0.9880,1)" font-family="'Liberation Sans', Arial, Helvetica, sans-serif" fill="#151515" stroke="#151515" stroke-width="0.35"><tspan x="0.00" y="0.00" font-size="30">0.5</tspan></text>
<text transform="translate(1886.75,461.00) scale(0.9880,1)" font-family="'Liberation Sans', Arial, Helvetica, sans-serif" fill="#151515" stroke="#151515" stroke-width="0.35"><tspan x="0.00" y="0.00" font-size="30">1.0</tspan></text>
<text transform="translate(1676.73,509.30) scale(0.9863,1)" font-family="'Liberation Sans', Arial, Helvetica, sans-serif" fill="#151515" stroke="#151515" stroke-width="0.35"><tspan x="0.00" y="0.00" font-size="39.4">Time (10</tspan><tspan x="155.45" y="-18.20" font-size="29">4</tspan><tspan x="171.57" y="0.00" font-size="39.4"> s)</tspan></text>
<text transform="translate(1428.20,154.65) rotate(-90) scale(1.0232,1)" font-family="'Liberation Sans', Arial, Helvetica, sans-serif" fill="#151515" stroke="#151515" stroke-width="0.35"><tspan x="0.00" y="0.00" font-size="38.5" font-style="italic">m</tspan><tspan x="32.07" y="0.00" font-size="38.5">(</tspan><tspan x="44.89" y="0.00" font-size="38.5" font-style="italic">t</tspan><tspan x="55.59" y="0.00" font-size="38.5">)</tspan></text>
<circle cx="1474.5" cy="48" r="6.8" fill="#080808"/>
<circle cx="1482.2" cy="63.4" r="6.8" fill="#080808"/>
<circle cx="1487.5" cy="83.6" r="6.8" fill="#080808"/>
<circle cx="1492.8" cy="98.6" r="6.8" fill="#080808"/>
<circle cx="1498" cy="108.2" r="6.8" fill="#080808"/>
<circle cx="1525.3" cy="137.3" r="6.8" fill="#080808"/>
<circle cx="1551.7" cy="154.8" r="6.8" fill="#080808"/>
<circle cx="1630.7" cy="223.7" r="6.8" fill="#080808"/>
<circle cx="1709.9" cy="266.6" r="6.8" fill="#080808"/>
<circle cx="1789.1" cy="304.2" r="6.8" fill="#080808"/>
<circle cx="1868.3" cy="338.2" r="6.8" fill="#080808"/>
<circle cx="1947.5" cy="371.2" r="6.8" fill="#080808"/>
<circle cx="2027.3" cy="411.7" r="6.8" fill="#080808"/>
<circle cx="1474" cy="28" r="6.8" fill="#3d55b5"/>
<circle cx="1480" cy="34" r="6.8" fill="#3d55b5"/>
<circle cx="1500.7" cy="52" r="6.8" fill="#3d55b5"/>
<circle cx="1525.3" cy="72.2" r="6.8" fill="#3d55b5"/>
<circle cx="1551.7" cy="92.4" r="6.8" fill="#3d55b5"/>
<circle cx="1631.4" cy="133.6" r="6.8" fill="#3d55b5"/>
<circle cx="1709.9" cy="174.9" r="6.8" fill="#3d55b5"/>
<circle cx="1789.1" cy="202.9" r="6.8" fill="#3d55b5"/>
<circle cx="1868.3" cy="236.9" r="6.8" fill="#3d55b5"/>
<circle cx="1947.5" cy="269.9" r="6.8" fill="#3d55b5"/>
<circle cx="2027.3" cy="292" r="6.8" fill="#3d55b5"/>
<circle cx="1471.7" cy="24.5" r="6.8" fill="#ec2424"/>
<circle cx="1474.5" cy="27" r="6.8" fill="#ec2424"/>
<circle cx="1478.3" cy="31" r="6.8" fill="#ec2424"/>
<circle cx="1482" cy="35" r="6.8" fill="#ec2424"/>
<circle cx="1499.8" cy="56.3" r="6.8" fill="#ec2424"/>
<circle cx="1527.1" cy="82.7" r="6.8" fill="#ec2424"/>
<circle cx="1551.7" cy="95.9" r="6.8" fill="#ec2424"/>
<circle cx="1630.7" cy="150.1" r="6.8" fill="#ec2424"/>
<circle cx="1709.9" cy="188.1" r="6.8" fill="#ec2424"/>
<circle cx="1789.1" cy="217.7" r="6.8" fill="#ec2424"/>
<circle cx="1868.3" cy="255.7" r="6.8" fill="#ec2424"/>
<circle cx="1947.5" cy="290.3" r="6.8" fill="#ec2424"/>
<circle cx="2027.3" cy="325" r="6.8" fill="#ec2424"/>
<path d="M1472.5,26.9 L1474.7,47.9 L1476.9,57.1 L1479.1,64.2 L1481.3,70.2 L1483.5,75.5 L1485.7,80.3 L1487.9,84.8 L1490.1,88.9 L1492.3,92.9 L1494.5,96.6 L1496.7,100.1 L1498.9,103.5 L1501.1,106.8 L1503.3,109.9 L1505.5,112.9 L1507.7,115.9 L1509.8,118.7 L1512,121.5 L1514.2,124.2 L1516.4,126.8 L1518.6,129.4 L1520.8,131.9 L1523,134.3 L1525.2,136.7 L1527.4,139.1 L1529.6,141.4 L1531.8,143.7 L1534,145.9 L1536.2,148.1 L1538.4,150.3 L1540.6,152.4 L1542.8,154.5 L1545,156.5 L1547.2,158.6 L1549.4,160.6 L1551.6,162.5 L1553.8,164.5 L1556,166.4 L1558.2,168.3 L1560.4,170.2 L1562.6,172 L1564.8,173.8 L1567,175.7 L1569.2,177.4 L1571.4,179.2 L1573.6,181 L1575.8,182.7 L1578,184.4 L1580.2,186.1 L1582.3,187.8 L1584.5,189.5 L1586.7,191.1 L1588.9,192.7 L1591.1,194.4 L1593.3,196 L1595.5,197.6 L1597.7,199.1 L1599.9,200.7 L1602.1,202.3 L1604.3,203.8 L1606.5,205.3 L1608.7,206.8 L1610.9,208.3 L1613.1,209.8 L1615.3,211.3 L1617.5,212.8 L1619.7,214.2 L1621.9,215.7 L1624.1,217.1 L1626.3,218.6 L1628.5,220 L1630.7,221.4 L1632.9,222.8 L1635.1,224.2 L1637.3,225.6 L1639.5,226.9 L1641.7,228.3 L1643.9,229.7 L1646.1,231 L1648.3,232.3 L1650.5,233.7 L1652.7,235 L1654.9,236.3 L1657,237.6 L1659.2,238.9 L1661.4,240.2 L1663.6,241.5 L1665.8,242.8 L1668,244 L1670.2,245.3 L1672.4,246.6 L1674.6,247.8 L1676.8,249.1 L1679,250.3 L1681.2,251.5 L1683.4,252.8 L1685.6,254 L1687.8,255.2 L1690,256.4 L1692.2,257.6 L1694.4,258.8 L1696.6,260 L1698.8,261.2 L1701,262.4 L1703.2,263.5 L1705.4,264.7 L1707.6,265.9 L1709.8,267 L1712,268.2 L1714.2,269.3 L1716.4,270.5 L1718.6,271.6 L1720.8,272.8 L1723,273.9 L1725.2,275 L1727.4,276.1 L1729.5,277.2 L1731.7,278.4 L1733.9,279.5 L1736.1,280.6 L1738.3,281.7 L1740.5,282.7 L1742.7,283.8 L1744.9,284.9 L1747.1,286 L1749.3,287.1 L1751.5,288.1 L1753.7,289.2 L1755.9,290.3 L1758.1,291.3 L1760.3,292.4 L1762.5,293.4 L1764.7,294.5 L1766.9,295.5 L1769.1,296.6 L1771.3,297.6 L1773.5,298.7 L1775.7,299.7 L1777.9,300.7 L1780.1,301.7 L1782.3,302.7 L1784.5,303.8 L1786.7,304.8 L1788.9,305.8 L1791.1,306.8 L1793.3,307.8 L1795.5,308.8 L1797.7,309.8 L1799.9,310.8 L1802,311.8 L1804.2,312.8 L1806.4,313.7 L1808.6,314.7 L1810.8,315.7 L1813,316.7 L1815.2,317.6 L1817.4,318.6 L1819.6,319.6 L1821.8,320.5 L1824,321.5 L1826.2,322.4 L1828.4,323.4 L1830.6,324.4 L1832.8,325.3 L1835,326.2 L1837.2,327.2 L1839.4,328.1 L1841.6,329.1 L1843.8,330 L1846,330.9 L1848.2,331.9 L1850.4,332.8 L1852.6,333.7 L1854.8,334.6 L1857,335.5 L1859.2,336.5 L1861.4,337.4 L1863.6,338.3 L1865.8,339.2 L1868,340.1 L1870.2,341 L1872.4,341.9 L1874.6,342.8 L1876.7,343.7 L1878.9,344.6 L1881.1,345.5 L1883.3,346.4 L1885.5,347.3 L1887.7,348.1 L1889.9,349 L1892.1,349.9 L1894.3,350.8 L1896.5,351.7 L1898.7,352.5 L1900.9,353.4 L1903.1,354.3 L1905.3,355.1 L1907.5,356 L1909.7,356.9 L1911.9,357.7 L1914.1,358.6 L1916.3,359.5 L1918.5,360.3 L1920.7,361.2 L1922.9,362 L1925.1,362.9 L1927.3,363.7 L1929.5,364.6 L1931.7,365.4 L1933.9,366.2 L1936.1,367.1 L1938.3,367.9 L1940.5,368.7 L1942.7,369.6 L1944.9,370.4 L1947.1,371.2 L1949.2,372.1 L1951.4,372.9 L1953.6,373.7 L1955.8,374.5 L1958,375.4 L1960.2,376.2 L1962.4,377 L1964.6,377.8 L1966.8,378.6 L1969,379.4 L1971.2,380.3 L1973.4,381.1 L1975.6,381.9 L1977.8,382.7 L1980,383.5 L1982.2,384.3 L1984.4,385.1 L1986.6,385.9 L1988.8,386.7 L1991,387.5 L1993.2,388.3 L1995.4,389.1 L1997.6,389.8 L1999.8,390.6 L2002,391.4 L2004.2,392.2 L2006.4,393 L2008.6,393.8 L2010.8,394.6 L2013,395.3 L2015.2,396.1 L2017.4,396.9 L2019.6,397.7 L2021.8,398.4 L2023.9,399.2 L2026.1,400 L2028.3,400.8 L2030.5,401.5 L2032.7,402.3 L2034.9,403.1 L2037.1,403.8 L2039.3,404.6 L2041.5,405.3 L2043.5,406" fill="none" stroke="#0d0d0d" stroke-width="3.6"/>
<path d="M1472.6,26.4C1474.5,29.7 1479.9,39.7 1484,46C1488.1,52.3 1490.6,57 1497.2,64.3C1503.8,71.6 1514.8,82.2 1523.6,89.8C1532.4,97.4 1541.9,104.3 1550,110C1558.1,115.7 1558.5,117.7 1572,124C1585.5,130.3 1607.7,137.6 1630.7,148C1653.7,158.4 1683.5,175.3 1709.9,186.4C1736.3,197.5 1762.7,205.4 1789.1,214.5C1815.5,223.6 1841.9,232.6 1868.3,240.8C1894.7,249 1918.4,256.5 1947.5,263.9C1976.6,271.3 2027.1,281.8 2043,285.4" fill="none" stroke="#e8262a" stroke-width="3.6" stroke-linejoin="round" stroke-linecap="round"/>
<path d="M1472.6,26.6C1473.6,27.5 1475.8,28.1 1478.7,31.7C1481.6,35.3 1485.8,42.6 1490,48C1494.2,53.4 1498.6,58.6 1504.2,64C1509.8,69.4 1515.7,74.8 1523.6,80.5C1531.5,86.2 1543.5,93.3 1551.6,98.3C1559.7,103.3 1558.8,103.6 1572,110.4C1585.2,117.2 1607.7,128.5 1630.7,139.2C1653.7,149.9 1683.5,164.3 1709.9,174.5C1736.3,184.7 1762.7,192.1 1789.1,200.3C1815.5,208.5 1841.9,216.1 1868.3,223.7C1894.7,231.3 1918.4,238.8 1947.5,245.8C1976.6,252.8 2027.1,262.3 2043,265.6" fill="none" stroke="#3452b4" stroke-width="3.6" stroke-linejoin="round" stroke-linecap="round"/>
<rect x="1088" y="18.5" width="955.5" height="666.8" fill="none" stroke="#161616" stroke-width="2.6"/>
</g>
<g id="pc">
<line x1="154" y1="1717.4" x2="168" y2="1717.4" stroke="#454545" stroke-width="2.6"/>
<line x1="160" y1="1692.6" x2="168" y2="1692.6" stroke="#454545" stroke-width="2.6"/>
<line x1="160" y1="1667.9" x2="168" y2="1667.9" stroke="#454545" stroke-width="2.6"/>
<line x1="160" y1="1643.1" x2="168" y2="1643.1" stroke="#454545" stroke-width="2.6"/>
<line x1="160" y1="1618.3" x2="168" y2="1618.3" stroke="#454545" stroke-width="2.6"/>
<line x1="154" y1="1593.6" x2="168" y2="1593.6" stroke="#454545" stroke-width="2.6"/>
<line x1="160" y1="1568.8" x2="168" y2="1568.8" stroke="#454545" stroke-width="2.6"/>
<line x1="160" y1="1544" x2="168" y2="1544" stroke="#454545" stroke-width="2.6"/>
<line x1="160" y1="1519.2" x2="168" y2="1519.2" stroke="#454545" stroke-width="2.6"/>
<line x1="160" y1="1494.5" x2="168" y2="1494.5" stroke="#454545" stroke-width="2.6"/>
<line x1="154" y1="1469.7" x2="168" y2="1469.7" stroke="#454545" stroke-width="2.6"/>
<line x1="160" y1="1444.9" x2="168" y2="1444.9" stroke="#454545" stroke-width="2.6"/>
<line x1="160" y1="1420.2" x2="168" y2="1420.2" stroke="#454545" stroke-width="2.6"/>
<line x1="160" y1="1395.4" x2="168" y2="1395.4" stroke="#454545" stroke-width="2.6"/>
<line x1="160" y1="1370.6" x2="168" y2="1370.6" stroke="#454545" stroke-width="2.6"/>
<line x1="154" y1="1345.8" x2="168" y2="1345.8" stroke="#454545" stroke-width="2.6"/>
<line x1="160" y1="1321.1" x2="168" y2="1321.1" stroke="#454545" stroke-width="2.6"/>
<line x1="160" y1="1296.3" x2="168" y2="1296.3" stroke="#454545" stroke-width="2.6"/>
<line x1="160" y1="1271.5" x2="168" y2="1271.5" stroke="#454545" stroke-width="2.6"/>
<line x1="160" y1="1246.8" x2="168" y2="1246.8" stroke="#454545" stroke-width="2.6"/>
<line x1="154" y1="1222" x2="168" y2="1222" stroke="#454545" stroke-width="2.6"/>
<line x1="160" y1="1197.2" x2="168" y2="1197.2" stroke="#454545" stroke-width="2.6"/>
<line x1="160" y1="1172.5" x2="168" y2="1172.5" stroke="#454545" stroke-width="2.6"/>
<line x1="160" y1="1147.7" x2="168" y2="1147.7" stroke="#454545" stroke-width="2.6"/>
<line x1="160" y1="1122.9" x2="168" y2="1122.9" stroke="#454545" stroke-width="2.6"/>
<line x1="154" y1="1098.2" x2="168" y2="1098.2" stroke="#454545" stroke-width="2.6"/>
<line x1="160" y1="1073.4" x2="168" y2="1073.4" stroke="#454545" stroke-width="2.6"/>
<line x1="160" y1="1048.6" x2="168" y2="1048.6" stroke="#454545" stroke-width="2.6"/>
<line x1="160" y1="1023.8" x2="168" y2="1023.8" stroke="#454545" stroke-width="2.6"/>
<line x1="160" y1="999.1" x2="168" y2="999.1" stroke="#454545" stroke-width="2.6"/>
<line x1="154" y1="974.3" x2="168" y2="974.3" stroke="#454545" stroke-width="2.6"/>
<line x1="168" y1="1717.4" x2="168" y2="1731.4" stroke="#454545" stroke-width="2.6"/>
<line x1="189.5" y1="1717.4" x2="189.5" y2="1725.9" stroke="#454545" stroke-width="2.6"/>
<line x1="211" y1="1717.4" x2="211" y2="1725.9" stroke="#454545" stroke-width="2.6"/>
<line x1="232.5" y1="1717.4" x2="232.5" y2="1725.9" stroke="#454545" stroke-width="2.6"/>
<line x1="254" y1="1717.4" x2="254" y2="1725.9" stroke="#454545" stroke-width="2.6"/>
<line x1="275.5" y1="1717.4" x2="275.5" y2="1731.4" stroke="#454545" stroke-width="2.6"/>
<line x1="297" y1="1717.4" x2="297" y2="1725.9" stroke="#454545" stroke-width="2.6"/>
<line x1="318.5" y1="1717.4" x2="318.5" y2="1725.9" stroke="#454545" stroke-width="2.6"/>
<line x1="340" y1="1717.4" x2="340" y2="1725.9" stroke="#454545" stroke-width="2.6"/>
<line x1="361.5" y1="1717.4" x2="361.5" y2="1725.9" stroke="#454545" stroke-width="2.6"/>
<line x1="383" y1="1717.4" x2="383" y2="1731.4" stroke="#454545" stroke-width="2.6"/>
<line x1="404.5" y1="1717.4" x2="404.5" y2="1725.9" stroke="#454545" stroke-width="2.6"/>
<line x1="426" y1="1717.4" x2="426" y2="1725.9" stroke="#454545" stroke-width="2.6"/>
<line x1="447.5" y1="1717.4" x2="447.5" y2="1725.9" stroke="#454545" stroke-width="2.6"/>
<line x1="469" y1="1717.4" x2="469" y2="1725.9" stroke="#454545" stroke-width="2.6"/>
<line x1="490.5" y1="1717.4" x2="490.5" y2="1731.4" stroke="#454545" stroke-width="2.6"/>
<line x1="512" y1="1717.4" x2="512" y2="1725.9" stroke="#454545" stroke-width="2.6"/>
<line x1="533.5" y1="1717.4" x2="533.5" y2="1725.9" stroke="#454545" stroke-width="2.6"/>
<line x1="554.9" y1="1717.4" x2="554.9" y2="1725.9" stroke="#454545" stroke-width="2.6"/>
<line x1="576.4" y1="1717.4" x2="576.4" y2="1725.9" stroke="#454545" stroke-width="2.6"/>
<line x1="597.9" y1="1717.4" x2="597.9" y2="1731.4" stroke="#454545" stroke-width="2.6"/>
<line x1="619.4" y1="1717.4" x2="619.4" y2="1725.9" stroke="#454545" stroke-width="2.6"/>
<line x1="640.9" y1="1717.4" x2="640.9" y2="1725.9" stroke="#454545" stroke-width="2.6"/>
<line x1="662.4" y1="1717.4" x2="662.4" y2="1725.9" stroke="#454545" stroke-width="2.6"/>
<line x1="683.9" y1="1717.4" x2="683.9" y2="1725.9" stroke="#454545" stroke-width="2.6"/>
<line x1="705.4" y1="1717.4" x2="705.4" y2="1731.4" stroke="#454545" stroke-width="2.6"/>
<line x1="726.9" y1="1717.4" x2="726.9" y2="1725.9" stroke="#454545" stroke-width="2.6"/>
<line x1="748.4" y1="1717.4" x2="748.4" y2="1725.9" stroke="#454545" stroke-width="2.6"/>
<line x1="769.9" y1="1717.4" x2="769.9" y2="1725.9" stroke="#454545" stroke-width="2.6"/>
<line x1="791.4" y1="1717.4" x2="791.4" y2="1725.9" stroke="#454545" stroke-width="2.6"/>
<line x1="812.9" y1="1717.4" x2="812.9" y2="1731.4" stroke="#454545" stroke-width="2.6"/>
<line x1="834.4" y1="1717.4" x2="834.4" y2="1725.9" stroke="#454545" stroke-width="2.6"/>
<line x1="855.9" y1="1717.4" x2="855.9" y2="1725.9" stroke="#454545" stroke-width="2.6"/>
<line x1="877.4" y1="1717.4" x2="877.4" y2="1725.9" stroke="#454545" stroke-width="2.6"/>
<line x1="898.9" y1="1717.4" x2="898.9" y2="1725.9" stroke="#454545" stroke-width="2.6"/>
<line x1="920.4" y1="1717.4" x2="920.4" y2="1731.4" stroke="#454545" stroke-width="2.6"/>
<rect x="168" y="974.3" width="752.4" height="743.1" fill="none" stroke="#454545" stroke-width="2.6"/>
<text transform="translate(67.84,1726.40) scale(1.0000,1)" font-family="'Liberation Sans', Arial, Helvetica, sans-serif" fill="#151515" stroke="#151515" stroke-width="0.35"><tspan x="0.00" y="0.00" font-size="31">0.000</tspan></text>
<text transform="translate(68.14,1602.55) scale(1.0000,1)" font-family="'Liberation Sans', Arial, Helvetica, sans-serif" fill="#151515" stroke="#151515" stroke-width="0.35"><tspan x="0.00" y="0.00" font-size="31">0.001</tspan></text>
<text transform="translate(68.19,1478.70) scale(1.0000,1)" font-family="'Liberation Sans', Arial, Helvetica, sans-serif" fill="#151515" stroke="#151515" stroke-width="0.35"><tspan x="0.00" y="0.00" font-size="31">0.002</tspan></text>
<text transform="translate(67.99,1354.85) scale(1.0000,1)" font-family="'Liberation Sans', Arial, Helvetica, sans-serif" fill="#151515" stroke="#151515" stroke-width="0.35"><tspan x="0.00" y="0.00" font-size="31">0.003</tspan></text>
<text transform="translate(67.54,1231.00) scale(1.0000,1)" font-family="'Liberation Sans', Arial, Helvetica, sans-serif" fill="#151515" stroke="#151515" stroke-width="0.35"><tspan x="0.00" y="0.00" font-size="31">0.004</tspan></text>
<text transform="translate(67.93,1107.15) scale(1.0000,1)" font-family="'Liberation Sans', Arial, Helvetica, sans-serif" fill="#151515" stroke="#151515" stroke-width="0.35"><tspan x="0.00" y="0.00" font-size="31">0.005</tspan></text>
<text transform="translate(67.99,983.30) scale(1.0000,1)" font-family="'Liberation Sans', Arial, Helvetica, sans-serif" fill="#151515" stroke="#151515" stroke-width="0.35"><tspan x="0.00" y="0.00" font-size="31">0.006</tspan></text>
<text transform="translate(137.94,1763.50) scale(1.0996,1)" font-family="'Liberation Sans', Arial, Helvetica, sans-serif" fill="#151515" stroke="#151515" stroke-width="0.35"><tspan x="0.00" y="0.00" font-size="33.5">1520</tspan></text>
<text transform="translate(245.43,1763.50) scale(1.0996,1)" font-family="'Liberation Sans', Arial, Helvetica, sans-serif" fill="#151515" stroke="#151515" stroke-width="0.35"><tspan x="0.00" y="0.00" font-size="33.5">1510</tspan></text>
<text transform="translate(352.92,1763.50) scale(1.0996,1)" font-family="'Liberation Sans', Arial, Helvetica, sans-serif" fill="#151515" stroke="#151515" stroke-width="0.35"><tspan x="0.00" y="0.00" font-size="33.5">1500</tspan></text>
<text transform="translate(460.40,1763.50) scale(1.0996,1)" font-family="'Liberation Sans', Arial, Helvetica, sans-serif" fill="#151515" stroke="#151515" stroke-width="0.35"><tspan x="0.00" y="0.00" font-size="33.5">1490</tspan></text>
<text transform="translate(567.89,1763.50) scale(1.0996,1)" font-family="'Liberation Sans', Arial, Helvetica, sans-serif" fill="#151515" stroke="#151515" stroke-width="0.35"><tspan x="0.00" y="0.00" font-size="33.5">1480</tspan></text>
<text transform="translate(675.37,1763.50) scale(1.0996,1)" font-family="'Liberation Sans', Arial, Helvetica, sans-serif" fill="#151515" stroke="#151515" stroke-width="0.35"><tspan x="0.00" y="0.00" font-size="33.5">1470</tspan></text>
<text transform="translate(782.86,1763.50) scale(1.0996,1)" font-family="'Liberation Sans', Arial, Helvetica, sans-serif" fill="#151515" stroke="#151515" stroke-width="0.35"><tspan x="0.00" y="0.00" font-size="33.5">1460</tspan></text>
<text transform="translate(890.34,1763.50) scale(1.0996,1)" font-family="'Liberation Sans', Arial, Helvetica, sans-serif" fill="#151515" stroke="#151515" stroke-width="0.35"><tspan x="0.00" y="0.00" font-size="33.5">1450</tspan></text>
<text transform="translate(368.43,1824.00) scale(1.0390,1)" font-family="'Liberation Sans', Arial, Helvetica, sans-serif" fill="#151515" stroke="#151515" stroke-width="0.35"><tspan x="0.00" y="0.00" font-size="38.3">Wavenumbers, cm</tspan></text>
<text transform="translate(700.57,1807.00) scale(0.9932,1)" font-family="'Liberation Sans', Arial, Helvetica, sans-serif" fill="#151515" stroke="#151515" stroke-width="0.35"><tspan x="0.00" y="0.00" font-size="21">-1</tspan></text>
<text transform="translate(31.90,1467.36) rotate(-90) scale(1.0429,1)" font-family="'Liberation Sans', Arial, Helvetica, sans-serif" fill="#151515" stroke="#151515" stroke-width="0.35"><tspan x="0.00" y="0.00" font-size="37.5">Δ Absorbance</tspan></text>
<text transform="translate(8.36,992.30) scale(1.0698,1)" font-family="'Liberation Serif', 'Times New Roman', serif" fill="#151515" stroke="#151515" stroke-width="0.35"><tspan x="0.00" y="0.00" font-size="60">c)</tspan></text>
<path d="M168.0,1547.5 L170.0,1546.7 L172.0,1545.5 L174.0,1544.1 L176.0,1542.5 L178.0,1541.1 L180.0,1539.6 L182.0,1538.2 L184.0,1536.8 L186.0,1535.4 L188.0,1534.1 L190.0,1533.0 L192.0,1532.0 L194.0,1531.3 L196.0,1530.7 L198.0,1530.3 L200.0,1530.0 L202.0,1529.6 L204.0,1529.3 L206.0,1528.9 L208.0,1528.5 L210.0,1528.1 L212.0,1527.6 L214.0,1527.1 L216.0,1526.5 L218.0,1525.9 L220.0,1525.1 L222.0,1524.2 L224.0,1523.1 L226.0,1521.8 L228.0,1520.4 L230.0,1518.9 L232.0,1517.3 L234.0,1515.9 L236.0,1514.6 L238.0,1513.4 L240.0,1512.4 L242.0,1511.3 L244.0,1510.4 L246.0,1509.5 L248.0,1508.6 L250.0,1507.9 L252.0,1507.2 L254.0,1506.7 L256.0,1506.4 L258.0,1506.4 L260.0,1506.8 L262.0,1507.5 L264.0,1508.6 L266.0,1510.0 L268.0,1511.6 L270.0,1513.5 L272.0,1515.5 L274.0,1517.6 L276.0,1519.8 L278.0,1522.0 L280.0,1524.3 L282.0,1526.7 L284.0,1529.1 L286.0,1531.6 L288.0,1534.1 L290.0,1536.5 L292.0,1538.8 L294.0,1540.9 L296.0,1542.8 L298.0,1544.5 L300.0,1546.1 L302.0,1547.4 L304.0,1548.6 L306.0,1549.5 L308.0,1550.3 L310.0,1550.7 L312.0,1551.0 L314.0,1551.0 L316.0,1550.8 L318.0,1550.4 L320.0,1549.8 L322.0,1549.0 L324.0,1547.9 L326.0,1546.4 L328.0,1544.5 L330.0,1542.4 L332.0,1540.0 L334.0,1537.4 L336.0,1534.6 L338.0,1531.5 L340.0,1528.1 L342.0,1524.5 L344.0,1520.6 L346.0,1516.7 L348.0,1513.0 L350.0,1509.3 L352.0,1505.8 L354.0,1502.4 L356.0,1499.1 L358.0,1495.8 L360.0,1492.7 L362.0,1489.7 L364.0,1486.8 L366.0,1484.2 L368.0,1481.8 L370.0,1479.6 L372.0,1477.6 L374.0,1475.9 L376.0,1474.3 L378.0,1472.8 L380.0,1471.5 L382.0,1470.4 L384.0,1469.5 L386.0,1468.9 L388.0,1468.7 L390.0,1468.9 L392.0,1469.5 L394.0,1470.4 L396.0,1471.6 L398.0,1473.2 L400.0,1475.2 L402.0,1477.6 L404.0,1480.3 L406.0,1483.4 L408.0,1486.6 L410.0,1489.7 L412.0,1492.5 L414.0,1495.1 L416.0,1497.5 L418.0,1499.6 L420.0,1501.5 L422.0,1503.2 L424.0,1504.6 L426.0,1505.8 L428.0,1506.6 L430.0,1507.2 L432.0,1507.6 L434.0,1507.8 L436.0,1507.8 L438.0,1507.7 L440.0,1507.5 L442.0,1507.1 L444.0,1506.5 L446.0,1505.7 L448.0,1504.7 L450.0,1503.4 L452.0,1501.9 L454.0,1500.2 L456.0,1498.3 L458.0,1496.3 L460.0,1494.2 L462.0,1492.0 L464.0,1489.8 L466.0,1487.5 L468.0,1485.1 L470.0,1482.6 L472.0,1480.0 L474.0,1477.3 L476.0,1474.4 L478.0,1471.2 L480.0,1467.9 L482.0,1464.5 L484.0,1461.2 L486.0,1458.3 L488.0,1455.6 L490.0,1453.2 L492.0,1451.0 L494.0,1449.1 L496.0,1447.4 L498.0,1446.0 L500.0,1444.9 L502.0,1444.1 L504.0,1443.6 L506.0,1443.2 L508.0,1442.9 L510.0,1442.7 L512.0,1442.5 L514.0,1442.3 L516.0,1442.2 L518.0,1442.0 L520.0,1441.6 L522.0,1440.9 L524.0,1440.0 L526.0,1438.8 L528.0,1437.3 L530.0,1435.7 L532.0,1433.9 L534.0,1431.9 L536.0,1429.6 L538.0,1427.0 L540.0,1424.5 L542.0,1422.2 L544.0,1420.2 L546.0,1418.6 L548.0,1417.4 L550.0,1416.4 L552.0,1415.4 L554.0,1414.6 L556.0,1413.8 L558.0,1413.0 L560.0,1412.4 L562.0,1411.9 L564.0,1411.7 L566.0,1411.9 L568.0,1412.4 L570.0,1413.1 L572.0,1414.2 L574.0,1415.3 L576.0,1416.5 L578.0,1417.8 L580.0,1419.3 L582.0,1421.0 L584.0,1423.0 L586.0,1425.3 L588.0,1427.8 L590.0,1430.5 L592.0,1433.3 L594.0,1436.2 L596.0,1439.1 L598.0,1442.1 L600.0,1445.2 L602.0,1448.3 L604.0,1451.5 L606.0,1454.8 L608.0,1458.0 L610.0,1461.3 L612.0,1464.4 L614.0,1467.6 L616.0,1470.6 L618.0,1473.6 L620.0,1476.5 L622.0,1479.3 L624.0,1482.1 L626.0,1484.8 L628.0,1487.3 L630.0,1489.7 L632.0,1491.9 L634.0,1493.9 L636.0,1495.8 L638.0,1497.7 L640.0,1499.7 L642.0,1501.6 L644.0,1503.7 L646.0,1505.8 L648.0,1507.9 L650.0,1510.0 L652.0,1512.2 L654.0,1514.6 L656.0,1517.4 L658.0,1520.5 L660.0,1524.4 L662.0,1528.8 L664.0,1533.9 L666.0,1539.2 L668.0,1544.4 L670.0,1549.3 L672.0,1553.7 L674.0,1557.8 L676.0,1561.5 L678.0,1565.0 L680.0,1568.1 L682.0,1570.9 L684.0,1573.4 L686.0,1575.4 L688.0,1577.1 L690.0,1578.5 L692.0,1579.6 L694.0,1580.4 L696.0,1580.8 L698.0,1580.9 L700.0,1580.7 L702.0,1580.3 L704.0,1579.8 L706.0,1579.2 L708.0,1578.5 L710.0,1577.7 L712.0,1576.8 L714.0,1575.9 L716.0,1575.3 L718.0,1575.1 L720.0,1575.3 L722.0,1575.8 L724.0,1576.5 L726.0,1577.4 L728.0,1578.3 L730.0,1579.2 L732.0,1580.1 L734.0,1581.0 L736.0,1581.8 L738.0,1582.6 L740.0,1583.2 L742.0,1583.5 L744.0,1583.7 L746.0,1583.7 L748.0,1583.5 L750.0,1583.2 L752.0,1582.7 L754.0,1582.0 L756.0,1581.1 L758.0,1580.1 L760.0,1579.0 L762.0,1577.6 L764.0,1576.0 L766.0,1574.2 L768.0,1572.0 L770.0,1569.6 L772.0,1567.1 L774.0,1564.4 L776.0,1561.8 L778.0,1559.3 L780.0,1556.7 L782.0,1554.2 L784.0,1551.7 L786.0,1549.2 L788.0,1546.8 L790.0,1544.6 L792.0,1542.5 L794.0,1540.6 L796.0,1538.8 L798.0,1537.2 L800.0,1535.7 L802.0,1534.3 L804.0,1533.2 L806.0,1532.3 L808.0,1531.8 L810.0,1531.6 L812.0,1531.8 L814.0,1532.3 L816.0,1533.1 L818.0,1534.2 L820.0,1535.7 L822.0,1537.4 L824.0,1539.3 L826.0,1541.5 L828.0,1543.6 L830.0,1545.6 L832.0,1547.6 L834.0,1549.5 L836.0,1551.3 L838.0,1552.9 L840.0,1554.1 L842.0,1554.9 L844.0,1555.2 L846.0,1555.1 L848.0,1554.5 L850.0,1553.4 L852.0,1551.9 L854.0,1549.9 L856.0,1547.2 L858.0,1544.0 L860.0,1540.3 L862.0,1536.3 L864.0,1532.3 L866.0,1528.4 L868.0,1524.5 L870.0,1520.8 L872.0,1517.1 L874.0,1513.6 L876.0,1510.3 L878.0,1507.3 L880.0,1504.5 L882.0,1502.1 L884.0,1499.9 L886.0,1498.0 L888.0,1496.3 L890.0,1495.0 L892.0,1494.1 L894.0,1493.4 L896.0,1493.1 L898.0,1493.0 L900.0,1493.1 L902.0,1493.2 L904.0,1493.4 L906.0,1493.6 L908.0,1493.9 L910.0,1494.2 L912.0,1494.6 L914.0,1495.0 L916.0,1495.4 L918.0,1495.7 L920.0,1496.0 L920.4,1496.1" fill="none" stroke="#161616" stroke-width="3.0" stroke-linejoin="round" stroke-linecap="round"/>
<path d="M168.0,1599.2 L170.0,1598.0 L172.0,1596.1 L174.0,1593.9 L176.0,1591.6 L178.0,1589.4 L180.0,1587.4 L182.0,1585.4 L184.0,1583.5 L186.0,1581.8 L188.0,1580.1 L190.0,1578.5 L192.0,1577.0 L194.0,1575.7 L196.0,1574.5 L198.0,1573.5 L200.0,1572.6 L202.0,1571.8 L204.0,1571.1 L206.0,1570.5 L208.0,1569.9 L210.0,1569.4 L212.0,1569.0 L214.0,1568.7 L216.0,1568.5 L218.0,1568.4 L220.0,1568.3 L222.0,1568.4 L224.0,1568.4 L226.0,1568.5 L228.0,1568.6 L230.0,1568.7 L232.0,1568.7 L234.0,1568.8 L236.0,1568.8 L238.0,1568.9 L240.0,1569.0 L242.0,1569.0 L244.0,1569.0 L246.0,1568.9 L248.0,1568.8 L250.0,1568.5 L252.0,1568.1 L254.0,1567.6 L256.0,1566.9 L258.0,1566.3 L260.0,1565.6 L262.0,1564.9 L264.0,1564.3 L266.0,1563.6 L268.0,1563.0 L270.0,1562.4 L272.0,1561.8 L274.0,1561.2 L276.0,1560.6 L278.0,1560.0 L280.0,1559.4 L282.0,1558.8 L284.0,1558.2 L286.0,1557.6 L288.0,1557.0 L290.0,1556.4 L292.0,1555.8 L294.0,1555.2 L296.0,1554.6 L298.0,1554.0 L300.0,1553.4 L302.0,1552.8 L304.0,1552.2 L306.0,1551.6 L308.0,1551.1 L310.0,1550.5 L312.0,1550.1 L314.0,1549.6 L316.0,1549.1 L318.0,1548.6 L320.0,1547.9 L322.0,1547.0 L324.0,1545.8 L326.0,1544.4 L328.0,1542.9 L330.0,1541.1 L332.0,1539.2 L334.0,1537.3 L336.0,1535.2 L338.0,1533.1 L340.0,1530.9 L342.0,1528.6 L344.0,1526.2 L346.0,1523.7 L348.0,1521.2 L350.0,1518.8 L352.0,1516.4 L354.0,1514.0 L356.0,1511.7 L358.0,1509.4 L360.0,1507.2 L362.0,1504.9 L364.0,1502.8 L366.0,1500.7 L368.0,1498.8 L370.0,1496.9 L372.0,1495.1 L374.0,1493.3 L376.0,1491.7 L378.0,1490.2 L380.0,1488.8 L382.0,1487.6 L384.0,1486.5 L386.0,1485.6 L388.0,1484.8 L390.0,1484.1 L392.0,1483.6 L394.0,1483.2 L396.0,1482.9 L398.0,1482.7 L400.0,1482.7 L402.0,1482.8 L404.0,1483.0 L406.0,1483.2 L408.0,1483.5 L410.0,1483.8 L412.0,1484.1 L414.0,1484.4 L416.0,1484.7 L418.0,1484.9 L420.0,1485.2 L422.0,1485.4 L424.0,1485.5 L426.0,1485.6 L428.0,1485.5 L430.0,1485.3 L432.0,1485.1 L434.0,1484.7 L436.0,1484.3 L438.0,1483.8 L440.0,1483.2 L442.0,1482.6 L444.0,1481.8 L446.0,1480.9 L448.0,1480.0 L450.0,1478.9 L452.0,1477.9 L454.0,1476.8 L456.0,1475.7 L458.0,1474.5 L460.0,1473.4 L462.0,1472.2 L464.0,1471.1 L466.0,1469.8 L468.0,1468.6 L470.0,1467.3 L472.0,1466.0 L474.0,1464.7 L476.0,1463.3 L478.0,1461.9 L480.0,1460.5 L482.0,1459.1 L484.0,1457.7 L486.0,1456.3 L488.0,1454.9 L490.0,1453.6 L492.0,1452.3 L494.0,1451.0 L496.0,1449.6 L498.0,1448.1 L500.0,1446.5 L502.0,1444.8 L504.0,1442.9 L506.0,1441.0 L508.0,1438.9 L510.0,1436.7 L512.0,1434.3 L514.0,1431.9 L516.0,1429.2 L518.0,1426.5 L520.0,1423.5 L522.0,1420.4 L524.0,1417.2 L526.0,1413.8 L528.0,1410.5 L530.0,1407.1 L532.0,1403.6 L534.0,1400.0 L536.0,1396.4 L538.0,1392.7 L540.0,1389.1 L542.0,1385.6 L544.0,1382.2 L546.0,1378.9 L548.0,1375.7 L550.0,1372.7 L552.0,1369.7 L554.0,1366.8 L556.0,1364.1 L558.0,1361.6 L560.0,1359.2 L562.0,1357.0 L564.0,1355.1 L566.0,1353.4 L568.0,1352.2 L570.0,1351.3 L572.0,1350.9 L574.0,1350.8 L576.0,1351.0 L578.0,1351.5 L580.0,1352.3 L582.0,1353.4 L584.0,1354.9 L586.0,1356.9 L588.0,1359.1 L590.0,1361.7 L592.0,1364.4 L594.0,1367.4 L596.0,1370.5 L598.0,1373.7 L600.0,1377.1 L602.0,1380.7 L604.0,1384.4 L606.0,1388.3 L608.0,1392.4 L610.0,1396.6 L612.0,1400.8 L614.0,1405.2 L616.0,1409.8 L618.0,1414.5 L620.0,1419.4 L622.0,1424.3 L624.0,1429.2 L626.0,1434.0 L628.0,1438.7 L630.0,1443.1 L632.0,1447.3 L634.0,1451.4 L636.0,1455.3 L638.0,1459.2 L640.0,1463.1 L642.0,1467.1 L644.0,1471.2 L646.0,1475.3 L648.0,1479.5 L650.0,1483.7 L652.0,1488.0 L654.0,1492.4 L656.0,1497.1 L658.0,1502.0 L660.0,1507.2 L662.0,1512.9 L664.0,1519.0 L666.0,1525.2 L668.0,1531.3 L670.0,1537.2 L672.0,1542.9 L674.0,1548.3 L676.0,1553.6 L678.0,1558.6 L680.0,1563.3 L682.0,1567.6 L684.0,1571.5 L686.0,1575.1 L688.0,1578.3 L690.0,1581.2 L692.0,1583.8 L694.0,1586.1 L696.0,1588.1 L698.0,1589.7 L700.0,1591.1 L702.0,1592.3 L704.0,1593.2 L706.0,1593.9 L708.0,1594.4 L710.0,1594.7 L712.0,1594.8 L714.0,1594.7 L716.0,1594.4 L718.0,1594.0 L720.0,1593.3 L722.0,1592.5 L724.0,1591.5 L726.0,1590.4 L728.0,1589.3 L730.0,1588.1 L732.0,1586.8 L734.0,1585.5 L736.0,1584.2 L738.0,1582.9 L740.0,1581.7 L742.0,1580.7 L744.0,1579.9 L746.0,1579.1 L748.0,1578.4 L750.0,1577.8 L752.0,1577.2 L754.0,1576.5 L756.0,1575.9 L758.0,1575.3 L760.0,1574.7 L762.0,1574.0 L764.0,1573.4 L766.0,1572.7 L768.0,1572.1 L770.0,1571.4 L772.0,1570.8 L774.0,1570.1 L776.0,1569.4 L778.0,1568.6 L780.0,1567.9 L782.0,1567.1 L784.0,1566.3 L786.0,1565.5 L788.0,1564.6 L790.0,1563.8 L792.0,1562.9 L794.0,1562.0 L796.0,1561.0 L798.0,1560.0 L800.0,1559.0 L802.0,1558.0 L804.0,1556.9 L806.0,1555.8 L808.0,1554.8 L810.0,1553.9 L812.0,1553.0 L814.0,1552.2 L816.0,1551.5 L818.0,1550.8 L820.0,1550.2 L822.0,1549.7 L824.0,1549.2 L826.0,1548.8 L828.0,1548.5 L830.0,1548.2 L832.0,1548.2 L834.0,1548.2 L836.0,1548.4 L838.0,1548.7 L840.0,1549.1 L842.0,1549.4 L844.0,1549.6 L846.0,1549.6 L848.0,1549.5 L850.0,1549.1 L852.0,1548.4 L854.0,1547.6 L856.0,1546.6 L858.0,1545.6 L860.0,1544.4 L862.0,1543.3 L864.0,1542.1 L866.0,1540.9 L868.0,1539.7 L870.0,1538.5 L872.0,1537.2 L874.0,1535.9 L876.0,1534.6 L878.0,1533.3 L880.0,1532.2 L882.0,1531.3 L884.0,1530.5 L886.0,1530.0 L888.0,1529.7 L890.0,1529.6 L892.0,1529.6 L894.0,1529.7 L896.0,1529.9 L898.0,1530.0 L900.0,1530.1 L902.0,1530.2 L904.0,1530.2 L906.0,1530.3 L908.0,1530.3 L910.0,1530.3 L912.0,1530.3 L914.0,1530.3 L916.0,1530.3 L918.0,1530.3 L920.0,1530.3 L920.4,1530.3" fill="none" stroke="#dc2b2e" stroke-width="3.0" stroke-linejoin="round" stroke-linecap="round"/>
<path d="M168.0,1679.1 L170.0,1677.5 L172.0,1675.0 L174.0,1672.1 L176.0,1669.3 L178.0,1666.8 L180.0,1664.7 L182.0,1663.0 L184.0,1661.6 L186.0,1660.4 L188.0,1659.4 L190.0,1658.5 L192.0,1657.6 L194.0,1656.8 L196.0,1655.9 L198.0,1655.0 L200.0,1654.1 L202.0,1653.2 L204.0,1652.3 L206.0,1651.4 L208.0,1650.4 L210.0,1649.5 L212.0,1648.4 L214.0,1647.3 L216.0,1646.0 L218.0,1644.7 L220.0,1643.2 L222.0,1641.6 L224.0,1640.0 L226.0,1638.2 L228.0,1636.5 L230.0,1634.7 L232.0,1633.0 L234.0,1631.2 L236.0,1629.4 L238.0,1627.6 L240.0,1625.8 L242.0,1623.9 L244.0,1622.1 L246.0,1620.3 L248.0,1618.6 L250.0,1616.9 L252.0,1615.4 L254.0,1613.9 L256.0,1612.4 L258.0,1611.0 L260.0,1609.7 L262.0,1608.4 L264.0,1607.3 L266.0,1606.2 L268.0,1605.3 L270.0,1604.4 L272.0,1603.5 L274.0,1602.8 L276.0,1602.2 L278.0,1601.6 L280.0,1601.2 L282.0,1600.9 L284.0,1600.8 L286.0,1600.7 L288.0,1600.6 L290.0,1600.4 L292.0,1600.1 L294.0,1599.7 L296.0,1599.1 L298.0,1598.3 L300.0,1597.5 L302.0,1596.6 L304.0,1595.4 L306.0,1594.1 L308.0,1592.6 L310.0,1590.9 L312.0,1589.0 L314.0,1586.9 L316.0,1584.6 L318.0,1582.0 L320.0,1579.3 L322.0,1576.4 L324.0,1573.2 L326.0,1569.8 L328.0,1566.1 L330.0,1562.2 L332.0,1558.2 L334.0,1553.9 L336.0,1549.5 L338.0,1544.9 L340.0,1540.0 L342.0,1534.9 L344.0,1529.6 L346.0,1524.2 L348.0,1518.9 L350.0,1513.7 L352.0,1508.7 L354.0,1504.0 L356.0,1499.6 L358.0,1495.4 L360.0,1491.3 L362.0,1487.4 L364.0,1483.6 L366.0,1479.9 L368.0,1476.3 L370.0,1472.7 L372.0,1469.2 L374.0,1465.8 L376.0,1462.5 L378.0,1459.4 L380.0,1456.5 L382.0,1453.9 L384.0,1451.4 L386.0,1449.2 L388.0,1447.1 L390.0,1445.3 L392.0,1443.7 L394.0,1442.4 L396.0,1441.3 L398.0,1440.6 L400.0,1440.2 L402.0,1440.2 L404.0,1440.4 L406.0,1440.8 L408.0,1441.3 L410.0,1441.9 L412.0,1442.6 L414.0,1443.3 L416.0,1444.1 L418.0,1444.9 L420.0,1445.9 L422.0,1446.7 L424.0,1447.5 L426.0,1448.1 L428.0,1448.6 L430.0,1448.9 L432.0,1449.1 L434.0,1449.1 L436.0,1449.1 L438.0,1449.0 L440.0,1448.8 L442.0,1448.4 L444.0,1448.0 L446.0,1447.5 L448.0,1446.9 L450.0,1446.3 L452.0,1445.6 L454.0,1444.9 L456.0,1444.4 L458.0,1443.9 L460.0,1443.5 L462.0,1443.1 L464.0,1442.8 L466.0,1442.5 L468.0,1442.0 L470.0,1441.5 L472.0,1440.9 L474.0,1440.2 L476.0,1439.3 L478.0,1438.4 L480.0,1437.4 L482.0,1436.3 L484.0,1435.2 L486.0,1433.9 L488.0,1432.6 L490.0,1431.1 L492.0,1429.6 L494.0,1428.1 L496.0,1426.4 L498.0,1424.7 L500.0,1422.9 L502.0,1421.2 L504.0,1419.4 L506.0,1417.5 L508.0,1415.6 L510.0,1413.7 L512.0,1411.6 L514.0,1409.4 L516.0,1407.0 L518.0,1404.5 L520.0,1401.8 L522.0,1399.1 L524.0,1396.1 L526.0,1393.0 L528.0,1389.7 L530.0,1386.2 L532.0,1382.5 L534.0,1378.4 L536.0,1374.2 L538.0,1369.7 L540.0,1364.9 L542.0,1359.9 L544.0,1354.8 L546.0,1349.7 L548.0,1344.8 L550.0,1340.2 L552.0,1336.1 L554.0,1332.7 L556.0,1330.0 L558.0,1328.0 L560.0,1326.4 L562.0,1325.1 L564.0,1324.0 L566.0,1323.1 L568.0,1322.5 L570.0,1322.3 L572.0,1322.5 L574.0,1322.8 L576.0,1323.3 L578.0,1324.0 L580.0,1325.0 L582.0,1326.4 L584.0,1328.2 L586.0,1330.5 L588.0,1333.1 L590.0,1336.1 L592.0,1339.3 L594.0,1342.7 L596.0,1346.2 L598.0,1349.7 L600.0,1353.4 L602.0,1357.1 L604.0,1360.9 L606.0,1364.8 L608.0,1368.8 L610.0,1372.9 L612.0,1377.1 L614.0,1381.5 L616.0,1386.0 L618.0,1390.6 L620.0,1395.4 L622.0,1400.2 L624.0,1405.1 L626.0,1410.0 L628.0,1414.9 L630.0,1419.7 L632.0,1424.4 L634.0,1429.0 L636.0,1433.7 L638.0,1438.4 L640.0,1443.3 L642.0,1448.3 L644.0,1453.6 L646.0,1459.1 L648.0,1464.8 L650.0,1470.7 L652.0,1476.8 L654.0,1482.9 L656.0,1489.1 L658.0,1495.4 L660.0,1501.8 L662.0,1508.3 L664.0,1514.9 L666.0,1521.6 L668.0,1528.0 L670.0,1534.2 L672.0,1540.0 L674.0,1545.5 L676.0,1550.8 L678.0,1555.7 L680.0,1560.4 L682.0,1564.6 L684.0,1568.5 L686.0,1572.0 L688.0,1575.2 L690.0,1578.1 L692.0,1580.7 L694.0,1583.2 L696.0,1585.6 L698.0,1587.8 L700.0,1589.7 L702.0,1591.4 L704.0,1592.8 L706.0,1593.8 L708.0,1594.5 L710.0,1595.0 L712.0,1595.3 L714.0,1595.5 L716.0,1595.5 L718.0,1595.6 L720.0,1595.6 L722.0,1595.6 L724.0,1595.5 L726.0,1595.5 L728.0,1595.5 L730.0,1595.4 L732.0,1595.2 L734.0,1595.1 L736.0,1594.9 L738.0,1594.6 L740.0,1594.3 L742.0,1594.0 L744.0,1593.6 L746.0,1593.2 L748.0,1592.7 L750.0,1592.2 L752.0,1591.7 L754.0,1591.1 L756.0,1590.6 L758.0,1590.1 L760.0,1589.6 L762.0,1589.1 L764.0,1588.6 L766.0,1588.2 L768.0,1587.8 L770.0,1587.3 L772.0,1586.8 L774.0,1586.3 L776.0,1585.6 L778.0,1584.9 L780.0,1584.1 L782.0,1583.2 L784.0,1582.2 L786.0,1581.2 L788.0,1580.2 L790.0,1579.1 L792.0,1578.0 L794.0,1576.9 L796.0,1575.8 L798.0,1574.5 L800.0,1573.2 L802.0,1571.9 L804.0,1570.5 L806.0,1569.2 L808.0,1568.0 L810.0,1567.1 L812.0,1566.4 L814.0,1565.9 L816.0,1565.8 L818.0,1565.8 L820.0,1566.1 L822.0,1566.5 L824.0,1566.9 L826.0,1567.5 L828.0,1568.1 L830.0,1568.6 L832.0,1569.2 L834.0,1569.9 L836.0,1570.7 L838.0,1571.5 L840.0,1572.3 L842.0,1572.8 L844.0,1573.1 L846.0,1573.0 L848.0,1572.5 L850.0,1571.7 L852.0,1570.7 L854.0,1569.4 L856.0,1568.0 L858.0,1566.5 L860.0,1564.8 L862.0,1562.9 L864.0,1560.8 L866.0,1558.6 L868.0,1556.2 L870.0,1553.9 L872.0,1551.6 L874.0,1549.5 L876.0,1547.6 L878.0,1545.8 L880.0,1544.2 L882.0,1542.7 L884.0,1541.5 L886.0,1540.6 L888.0,1539.8 L890.0,1539.3 L892.0,1539.0 L894.0,1538.8 L896.0,1538.6 L898.0,1538.6 L900.0,1538.5 L902.0,1538.5 L904.0,1538.6 L906.0,1538.6 L908.0,1538.7 L910.0,1538.8 L912.0,1538.8 L914.0,1538.9 L916.0,1539.0 L918.0,1539.1 L920.0,1539.1 L920.4,1539.2" fill="none" stroke="#2d38a6" stroke-width="3.0" stroke-linejoin="round" stroke-linecap="round"/>
<path d="M168.0,1710.6 L170.0,1709.5 L172.0,1707.9 L174.0,1705.9 L176.0,1703.9 L178.0,1701.9 L180.0,1699.9 L182.0,1698.0 L184.0,1696.2 L186.0,1694.4 L188.0,1692.7 L190.0,1691.1 L192.0,1689.6 L194.0,1688.0 L196.0,1686.5 L198.0,1684.9 L200.0,1683.3 L202.0,1681.8 L204.0,1680.2 L206.0,1678.7 L208.0,1677.1 L210.0,1675.5 L212.0,1673.8 L214.0,1672.0 L216.0,1670.2 L218.0,1668.3 L220.0,1666.4 L222.0,1664.4 L224.0,1662.3 L226.0,1660.2 L228.0,1657.9 L230.0,1655.6 L232.0,1653.1 L234.0,1650.5 L236.0,1647.9 L238.0,1645.2 L240.0,1642.6 L242.0,1639.9 L244.0,1637.2 L246.0,1634.5 L248.0,1631.8 L250.0,1629.1 L252.0,1626.4 L254.0,1623.9 L256.0,1621.5 L258.0,1619.3 L260.0,1617.3 L262.0,1615.5 L264.0,1613.9 L266.0,1612.3 L268.0,1610.8 L270.0,1609.4 L272.0,1607.9 L274.0,1606.4 L276.0,1604.8 L278.0,1603.3 L280.0,1601.8 L282.0,1600.3 L284.0,1598.6 L286.0,1596.9 L288.0,1594.9 L290.0,1592.9 L292.0,1590.8 L294.0,1588.5 L296.0,1586.2 L298.0,1583.7 L300.0,1581.0 L302.0,1578.1 L304.0,1575.1 L306.0,1572.0 L308.0,1568.7 L310.0,1565.2 L312.0,1561.5 L314.0,1557.6 L316.0,1553.5 L318.0,1549.1 L320.0,1544.5 L322.0,1539.7 L324.0,1534.6 L326.0,1529.3 L328.0,1523.9 L330.0,1518.3 L332.0,1512.5 L334.0,1506.5 L336.0,1500.4 L338.0,1494.0 L340.0,1487.6 L342.0,1481.0 L344.0,1474.5 L346.0,1468.0 L348.0,1461.5 L350.0,1455.2 L352.0,1448.8 L354.0,1442.5 L356.0,1436.1 L358.0,1429.7 L360.0,1423.2 L362.0,1416.5 L364.0,1409.7 L366.0,1402.6 L368.0,1395.5 L370.0,1388.5 L372.0,1381.5 L374.0,1374.8 L376.0,1368.3 L378.0,1362.0 L380.0,1355.8 L382.0,1350.0 L384.0,1344.5 L386.0,1339.3 L388.0,1334.6 L390.0,1330.2 L392.0,1326.2 L394.0,1322.5 L396.0,1318.9 L398.0,1315.7 L400.0,1312.6 L402.0,1309.9 L404.0,1307.3 L406.0,1305.0 L408.0,1303.0 L410.0,1301.2 L412.0,1299.7 L414.0,1298.5 L416.0,1297.5 L418.0,1296.7 L420.0,1296.1 L422.0,1295.7 L424.0,1295.6 L426.0,1295.7 L428.0,1295.9 L430.0,1296.4 L432.0,1297.0 L434.0,1297.8 L436.0,1298.8 L438.0,1300.0 L440.0,1301.3 L442.0,1302.7 L444.0,1304.0 L446.0,1305.4 L448.0,1306.7 L450.0,1308.0 L452.0,1309.3 L454.0,1310.5 L456.0,1311.6 L458.0,1312.6 L460.0,1313.5 L462.0,1314.3 L464.0,1315.0 L466.0,1315.7 L468.0,1316.3 L470.0,1316.9 L472.0,1317.4 L474.0,1317.9 L476.0,1318.3 L478.0,1318.8 L480.0,1319.4 L482.0,1320.0 L484.0,1320.6 L486.0,1321.3 L488.0,1322.1 L490.0,1322.9 L492.0,1323.8 L494.0,1324.9 L496.0,1326.0 L498.0,1327.2 L500.0,1328.5 L502.0,1329.8 L504.0,1331.3 L506.0,1332.8 L508.0,1334.3 L510.0,1335.9 L512.0,1337.5 L514.0,1338.9 L516.0,1340.0 L518.0,1340.9 L520.0,1341.6 L522.0,1342.1 L524.0,1342.4 L526.0,1342.5 L528.0,1342.4 L530.0,1342.1 L532.0,1341.6 L534.0,1340.9 L536.0,1340.2 L538.0,1339.4 L540.0,1338.7 L542.0,1338.1 L544.0,1337.5 L546.0,1337.0 L548.0,1336.5 L550.0,1336.2 L552.0,1336.0 L554.0,1336.0 L556.0,1336.2 L558.0,1336.6 L560.0,1337.1 L562.0,1337.8 L564.0,1338.7 L566.0,1339.7 L568.0,1340.8 L570.0,1342.0 L572.0,1343.4 L574.0,1344.8 L576.0,1346.4 L578.0,1348.1 L580.0,1350.0 L582.0,1352.2 L584.0,1354.7 L586.0,1357.5 L588.0,1360.6 L590.0,1364.0 L592.0,1367.7 L594.0,1371.5 L596.0,1375.3 L598.0,1379.2 L600.0,1383.1 L602.0,1387.0 L604.0,1390.9 L606.0,1394.9 L608.0,1399.0 L610.0,1403.0 L612.0,1407.1 L614.0,1411.1 L616.0,1415.2 L618.0,1419.3 L620.0,1423.4 L622.0,1427.5 L624.0,1431.5 L626.0,1435.4 L628.0,1439.1 L630.0,1442.7 L632.0,1446.0 L634.0,1449.1 L636.0,1452.0 L638.0,1455.1 L640.0,1458.2 L642.0,1461.7 L644.0,1465.4 L646.0,1469.5 L648.0,1473.9 L650.0,1478.6 L652.0,1483.4 L654.0,1488.3 L656.0,1493.5 L658.0,1498.8 L660.0,1504.3 L662.0,1510.2 L664.0,1516.3 L666.0,1522.5 L668.0,1528.5 L670.0,1534.3 L672.0,1539.6 L674.0,1544.7 L676.0,1549.4 L678.0,1553.9 L680.0,1558.0 L682.0,1561.8 L684.0,1565.3 L686.0,1568.4 L688.0,1571.2 L690.0,1573.6 L692.0,1575.6 L694.0,1577.2 L696.0,1578.6 L698.0,1579.6 L700.0,1580.3 L702.0,1580.9 L704.0,1581.3 L706.0,1581.7 L708.0,1582.0 L710.0,1582.2 L712.0,1582.4 L714.0,1582.4 L716.0,1582.4 L718.0,1582.3 L720.0,1582.2 L722.0,1582.2 L724.0,1582.3 L726.0,1582.4 L728.0,1582.6 L730.0,1582.8 L732.0,1583.0 L734.0,1583.2 L736.0,1583.4 L738.0,1583.6 L740.0,1583.6 L742.0,1583.6 L744.0,1583.5 L746.0,1583.4 L748.0,1583.2 L750.0,1582.9 L752.0,1582.6 L754.0,1582.2 L756.0,1581.7 L758.0,1581.2 L760.0,1580.5 L762.0,1579.8 L764.0,1579.0 L766.0,1578.0 L768.0,1577.1 L770.0,1576.0 L772.0,1574.9 L774.0,1573.8 L776.0,1572.6 L778.0,1571.5 L780.0,1570.2 L782.0,1569.0 L784.0,1567.7 L786.0,1566.4 L788.0,1565.0 L790.0,1563.6 L792.0,1562.2 L794.0,1560.8 L796.0,1559.3 L798.0,1557.8 L800.0,1556.2 L802.0,1554.5 L804.0,1552.9 L806.0,1551.3 L808.0,1549.8 L810.0,1548.4 L812.0,1547.3 L814.0,1546.4 L816.0,1545.7 L818.0,1545.1 L820.0,1544.8 L822.0,1544.5 L824.0,1544.3 L826.0,1544.1 L828.0,1543.9 L830.0,1543.7 L832.0,1543.5 L834.0,1543.2 L836.0,1543.0 L838.0,1542.8 L840.0,1542.4 L842.0,1542.0 L844.0,1541.3 L846.0,1540.3 L848.0,1539.1 L850.0,1537.6 L852.0,1536.0 L854.0,1534.2 L856.0,1532.2 L858.0,1530.1 L860.0,1527.8 L862.0,1525.3 L864.0,1522.6 L866.0,1519.8 L868.0,1516.8 L870.0,1513.8 L872.0,1511.0 L874.0,1508.4 L876.0,1506.0 L878.0,1503.9 L880.0,1502.0 L882.0,1500.3 L884.0,1498.7 L886.0,1497.3 L888.0,1496.0 L890.0,1494.9 L892.0,1494.1 L894.0,1493.5 L896.0,1493.1 L898.0,1493.0 L900.0,1493.1 L902.0,1493.2 L904.0,1493.4 L906.0,1493.6 L908.0,1493.9 L910.0,1494.2 L912.0,1494.6 L914.0,1495.0 L916.0,1495.4 L918.0,1495.7 L920.0,1496.0 L920.4,1496.1" fill="none" stroke="#2a8a3c" stroke-width="3.0" stroke-linejoin="round" stroke-linecap="round"/>
<path d="M168.0,1673.4 L170.0,1672.2 L172.0,1670.3 L174.0,1668.1 L176.0,1665.8 L178.0,1663.6 L180.0,1661.5 L182.0,1659.5 L184.0,1657.7 L186.0,1656.1 L188.0,1654.8 L190.0,1653.5 L192.0,1652.4 L194.0,1651.3 L196.0,1650.3 L198.0,1649.1 L200.0,1648.0 L202.0,1646.8 L204.0,1645.6 L206.0,1644.5 L208.0,1643.3 L210.0,1642.0 L212.0,1640.8 L214.0,1639.6 L216.0,1638.3 L218.0,1637.0 L220.0,1635.7 L222.0,1634.4 L224.0,1633.1 L226.0,1631.8 L228.0,1630.4 L230.0,1628.9 L232.0,1627.5 L234.0,1626.0 L236.0,1624.4 L238.0,1622.8 L240.0,1621.2 L242.0,1619.6 L244.0,1617.9 L246.0,1616.1 L248.0,1614.2 L250.0,1612.1 L252.0,1610.0 L254.0,1607.8 L256.0,1605.4 L258.0,1602.9 L260.0,1600.4 L262.0,1597.8 L264.0,1595.2 L266.0,1592.6 L268.0,1589.9 L270.0,1587.2 L272.0,1584.4 L274.0,1581.5 L276.0,1578.6 L278.0,1575.7 L280.0,1572.7 L282.0,1569.7 L284.0,1566.7 L286.0,1563.6 L288.0,1560.4 L290.0,1557.1 L292.0,1553.6 L294.0,1549.8 L296.0,1545.9 L298.0,1541.7 L300.0,1537.4 L302.0,1532.9 L304.0,1528.3 L306.0,1523.7 L308.0,1519.1 L310.0,1514.4 L312.0,1509.7 L314.0,1504.9 L316.0,1500.1 L318.0,1495.3 L320.0,1490.4 L322.0,1485.6 L324.0,1480.9 L326.0,1476.2 L328.0,1471.6 L330.0,1467.0 L332.0,1462.3 L334.0,1457.4 L336.0,1452.3 L338.0,1446.9 L340.0,1441.1 L342.0,1434.9 L344.0,1428.5 L346.0,1421.9 L348.0,1415.3 L350.0,1408.8 L352.0,1402.5 L354.0,1396.5 L356.0,1390.7 L358.0,1385.1 L360.0,1379.6 L362.0,1374.2 L364.0,1368.6 L366.0,1362.9 L368.0,1357.0 L370.0,1350.8 L372.0,1344.5 L374.0,1338.0 L376.0,1331.5 L378.0,1325.0 L380.0,1318.6 L382.0,1312.4 L384.0,1306.3 L386.0,1300.4 L388.0,1294.6 L390.0,1288.8 L392.0,1283.3 L394.0,1277.9 L396.0,1272.7 L398.0,1267.7 L400.0,1263.0 L402.0,1258.6 L404.0,1254.5 L406.0,1250.8 L408.0,1247.5 L410.0,1244.5 L412.0,1242.0 L414.0,1239.8 L416.0,1237.9 L418.0,1236.3 L420.0,1234.9 L422.0,1233.7 L424.0,1232.8 L426.0,1232.3 L428.0,1232.0 L430.0,1232.1 L432.0,1232.3 L434.0,1232.8 L436.0,1233.5 L438.0,1234.5 L440.0,1235.6 L442.0,1236.9 L444.0,1238.3 L446.0,1239.9 L448.0,1241.5 L450.0,1243.2 L452.0,1245.0 L454.0,1246.9 L456.0,1248.8 L458.0,1250.9 L460.0,1252.9 L462.0,1255.0 L464.0,1257.0 L466.0,1259.0 L468.0,1260.9 L470.0,1262.9 L472.0,1264.9 L474.0,1267.0 L476.0,1269.2 L478.0,1271.4 L480.0,1273.6 L482.0,1275.9 L484.0,1278.1 L486.0,1280.4 L488.0,1282.7 L490.0,1284.9 L492.0,1287.1 L494.0,1289.3 L496.0,1291.6 L498.0,1294.0 L500.0,1296.3 L502.0,1298.8 L504.0,1301.2 L506.0,1303.8 L508.0,1306.3 L510.0,1308.9 L512.0,1311.6 L514.0,1314.3 L516.0,1317.1 L518.0,1319.9 L520.0,1322.6 L522.0,1325.3 L524.0,1328.0 L526.0,1330.6 L528.0,1333.1 L530.0,1335.6 L532.0,1338.0 L534.0,1340.3 L536.0,1342.6 L538.0,1344.7 L540.0,1346.7 L542.0,1348.4 L544.0,1349.8 L546.0,1351.1 L548.0,1352.2 L550.0,1353.3 L552.0,1354.3 L554.0,1355.5 L556.0,1356.8 L558.0,1358.2 L560.0,1359.9 L562.0,1361.7 L564.0,1363.7 L566.0,1365.8 L568.0,1368.1 L570.0,1370.5 L572.0,1372.9 L574.0,1375.6 L576.0,1378.3 L578.0,1381.1 L580.0,1384.0 L582.0,1387.0 L584.0,1390.0 L586.0,1393.0 L588.0,1396.2 L590.0,1399.3 L592.0,1402.5 L594.0,1405.8 L596.0,1409.0 L598.0,1412.3 L600.0,1415.5 L602.0,1418.7 L604.0,1421.9 L606.0,1425.1 L608.0,1428.3 L610.0,1431.5 L612.0,1434.7 L614.0,1437.9 L616.0,1441.1 L618.0,1444.3 L620.0,1447.5 L622.0,1450.7 L624.0,1453.9 L626.0,1457.1 L628.0,1460.3 L630.0,1463.5 L632.0,1466.6 L634.0,1469.8 L636.0,1472.9 L638.0,1476.1 L640.0,1479.3 L642.0,1482.6 L644.0,1486.0 L646.0,1489.4 L648.0,1492.8 L650.0,1496.3 L652.0,1499.9 L654.0,1503.5 L656.0,1507.2 L658.0,1511.2 L660.0,1515.3 L662.0,1519.6 L664.0,1524.2 L666.0,1528.8 L668.0,1533.4 L670.0,1537.7 L672.0,1541.8 L674.0,1545.6 L676.0,1549.3 L678.0,1552.8 L680.0,1556.0 L682.0,1559.1 L684.0,1561.9 L686.0,1564.5 L688.0,1566.9 L690.0,1569.1 L692.0,1571.1 L694.0,1572.9 L696.0,1574.4 L698.0,1575.8 L700.0,1576.9 L702.0,1577.8 L704.0,1578.5 L706.0,1579.0 L708.0,1579.3 L710.0,1579.3 L712.0,1579.1 L714.0,1578.8 L716.0,1578.3 L718.0,1577.7 L720.0,1577.2 L722.0,1576.5 L724.0,1575.9 L726.0,1575.1 L728.0,1574.3 L730.0,1573.3 L732.0,1572.2 L734.0,1571.0 L736.0,1569.6 L738.0,1568.0 L740.0,1566.4 L742.0,1564.7 L744.0,1563.0 L746.0,1561.4 L748.0,1559.8 L750.0,1558.4 L752.0,1556.9 L754.0,1555.5 L756.0,1554.2 L758.0,1552.8 L760.0,1551.5 L762.0,1550.3 L764.0,1549.0 L766.0,1547.9 L768.0,1546.8 L770.0,1545.7 L772.0,1544.7 L774.0,1543.8 L776.0,1542.8 L778.0,1541.9 L780.0,1540.9 L782.0,1539.9 L784.0,1538.8 L786.0,1537.7 L788.0,1536.6 L790.0,1535.5 L792.0,1534.4 L794.0,1533.2 L796.0,1532.0 L798.0,1530.8 L800.0,1529.5 L802.0,1528.2 L804.0,1526.9 L806.0,1525.5 L808.0,1524.1 L810.0,1522.6 L812.0,1521.1 L814.0,1519.5 L816.0,1517.9 L818.0,1516.2 L820.0,1514.5 L822.0,1512.6 L824.0,1510.7 L826.0,1508.7 L828.0,1506.7 L830.0,1504.6 L832.0,1502.6 L834.0,1500.5 L836.0,1498.5 L838.0,1496.4 L840.0,1494.4 L842.0,1492.4 L844.0,1490.4 L846.0,1488.4 L848.0,1486.4 L850.0,1484.4 L852.0,1482.4 L854.0,1480.4 L856.0,1478.3 L858.0,1476.2 L860.0,1474.0 L862.0,1471.9 L864.0,1470.1 L866.0,1468.4 L868.0,1467.0 L870.0,1465.7 L872.0,1464.5 L874.0,1463.4 L876.0,1462.4 L878.0,1461.5 L880.0,1460.6 L882.0,1459.9 L884.0,1459.2 L886.0,1458.7 L888.0,1458.4 L890.0,1458.2 L892.0,1458.1 L894.0,1458.0 L896.0,1457.9 L898.0,1457.9 L900.0,1457.7 L902.0,1457.5 L904.0,1457.1 L906.0,1456.7 L908.0,1456.3 L910.0,1455.8 L912.0,1455.2 L914.0,1454.7 L916.0,1454.2 L918.0,1453.7 L920.0,1453.3 L920.4,1453.1" fill="none" stroke="#ee6a2c" stroke-width="3.0" stroke-linejoin="round" stroke-linecap="round"/>
<path d="M168.0,1671.7 L170.0,1670.2 L172.0,1667.8 L174.0,1665.0 L176.0,1662.1 L178.0,1659.3 L180.0,1656.6 L182.0,1654.0 L184.0,1651.7 L186.0,1649.7 L188.0,1647.8 L190.0,1646.2 L192.0,1644.7 L194.0,1643.2 L196.0,1641.8 L198.0,1640.3 L200.0,1638.9 L202.0,1637.5 L204.0,1636.1 L206.0,1634.7 L208.0,1633.3 L210.0,1632.0 L212.0,1630.6 L214.0,1629.1 L216.0,1627.7 L218.0,1626.2 L220.0,1624.8 L222.0,1623.3 L224.0,1621.8 L226.0,1620.3 L228.0,1618.8 L230.0,1617.2 L232.0,1615.5 L234.0,1613.8 L236.0,1612.0 L238.0,1610.2 L240.0,1608.3 L242.0,1606.4 L244.0,1604.6 L246.0,1602.7 L248.0,1600.8 L250.0,1598.9 L252.0,1597.0 L254.0,1595.1 L256.0,1593.2 L258.0,1591.4 L260.0,1589.6 L262.0,1588.0 L264.0,1586.5 L266.0,1585.2 L268.0,1583.9 L270.0,1582.8 L272.0,1581.6 L274.0,1580.5 L276.0,1579.5 L278.0,1578.4 L280.0,1577.3 L282.0,1576.2 L284.0,1575.0 L286.0,1573.8 L288.0,1572.6 L290.0,1571.3 L292.0,1570.0 L294.0,1568.6 L296.0,1567.1 L298.0,1565.5 L300.0,1563.8 L302.0,1562.0 L304.0,1560.2 L306.0,1558.3 L308.0,1556.2 L310.0,1553.8 L312.0,1551.2 L314.0,1548.2 L316.0,1544.8 L318.0,1541.1 L320.0,1537.1 L322.0,1532.8 L324.0,1528.2 L326.0,1523.3 L328.0,1518.1 L330.0,1512.4 L332.0,1506.1 L334.0,1499.3 L336.0,1492.1 L338.0,1484.8 L340.0,1477.5 L342.0,1470.4 L344.0,1463.5 L346.0,1456.7 L348.0,1449.8 L350.0,1443.0 L352.0,1436.3 L354.0,1429.5 L356.0,1422.8 L358.0,1416.2 L360.0,1409.6 L362.0,1403.1 L364.0,1396.6 L366.0,1390.2 L368.0,1383.9 L370.0,1377.7 L372.0,1371.5 L374.0,1365.4 L376.0,1359.5 L378.0,1353.7 L380.0,1348.2 L382.0,1342.8 L384.0,1337.6 L386.0,1332.6 L388.0,1327.8 L390.0,1322.9 L392.0,1318.2 L394.0,1313.4 L396.0,1308.8 L398.0,1304.2 L400.0,1299.8 L402.0,1295.6 L404.0,1291.6 L406.0,1287.8 L408.0,1284.2 L410.0,1280.8 L412.0,1277.8 L414.0,1275.2 L416.0,1273.0 L418.0,1271.3 L420.0,1270.1 L422.0,1269.1 L424.0,1268.4 L426.0,1267.9 L428.0,1267.5 L430.0,1267.2 L432.0,1267.1 L434.0,1267.2 L436.0,1267.3 L438.0,1267.5 L440.0,1267.6 L442.0,1267.8 L444.0,1267.9 L446.0,1268.2 L448.0,1268.5 L450.0,1268.9 L452.0,1269.4 L454.0,1270.0 L456.0,1270.7 L458.0,1271.4 L460.0,1272.3 L462.0,1273.2 L464.0,1274.2 L466.0,1275.3 L468.0,1276.5 L470.0,1277.8 L472.0,1279.1 L474.0,1280.5 L476.0,1282.1 L478.0,1283.7 L480.0,1285.4 L482.0,1287.1 L484.0,1289.0 L486.0,1290.9 L488.0,1292.9 L490.0,1294.9 L492.0,1297.0 L494.0,1299.3 L496.0,1301.7 L498.0,1304.4 L500.0,1307.4 L502.0,1310.6 L504.0,1314.1 L506.0,1317.7 L508.0,1321.4 L510.0,1325.2 L512.0,1329.2 L514.0,1333.2 L516.0,1337.3 L518.0,1341.4 L520.0,1345.3 L522.0,1348.8 L524.0,1352.1 L526.0,1355.1 L528.0,1357.8 L530.0,1360.5 L532.0,1363.0 L534.0,1365.6 L536.0,1368.2 L538.0,1370.6 L540.0,1372.9 L542.0,1375.0 L544.0,1376.9 L546.0,1378.7 L548.0,1380.5 L550.0,1382.2 L552.0,1384.0 L554.0,1385.9 L556.0,1388.2 L558.0,1391.0 L560.0,1394.2 L562.0,1397.8 L564.0,1401.6 L566.0,1405.3 L568.0,1408.6 L570.0,1411.6 L572.0,1414.1 L574.0,1416.3 L576.0,1418.2 L578.0,1420.0 L580.0,1421.8 L582.0,1423.8 L584.0,1426.0 L586.0,1428.5 L588.0,1431.2 L590.0,1434.1 L592.0,1437.2 L594.0,1440.3 L596.0,1443.4 L598.0,1446.5 L600.0,1449.6 L602.0,1452.7 L604.0,1455.7 L606.0,1458.8 L608.0,1461.9 L610.0,1464.8 L612.0,1467.7 L614.0,1470.5 L616.0,1473.2 L618.0,1475.7 L620.0,1478.2 L622.0,1480.6 L624.0,1482.9 L626.0,1485.2 L628.0,1487.5 L630.0,1489.7 L632.0,1491.9 L634.0,1494.0 L636.0,1496.1 L638.0,1498.2 L640.0,1500.5 L642.0,1502.8 L644.0,1505.3 L646.0,1507.9 L648.0,1510.6 L650.0,1513.4 L652.0,1516.4 L654.0,1519.4 L656.0,1522.7 L658.0,1526.2 L660.0,1530.1 L662.0,1534.4 L664.0,1538.9 L666.0,1543.6 L668.0,1548.2 L670.0,1552.5 L672.0,1556.3 L674.0,1559.8 L676.0,1563.0 L678.0,1566.0 L680.0,1568.7 L682.0,1571.1 L684.0,1573.3 L686.0,1575.2 L688.0,1576.8 L690.0,1578.2 L692.0,1579.4 L694.0,1580.4 L696.0,1581.2 L698.0,1581.8 L700.0,1582.1 L702.0,1582.3 L704.0,1582.3 L706.0,1582.1 L708.0,1581.7 L710.0,1581.2 L712.0,1580.5 L714.0,1579.7 L716.0,1578.8 L718.0,1577.8 L720.0,1576.7 L722.0,1575.6 L724.0,1574.4 L726.0,1573.2 L728.0,1572.0 L730.0,1570.7 L732.0,1569.4 L734.0,1568.1 L736.0,1566.8 L738.0,1565.4 L740.0,1563.9 L742.0,1562.5 L744.0,1561.1 L746.0,1559.7 L748.0,1558.3 L750.0,1557.0 L752.0,1555.6 L754.0,1554.3 L756.0,1552.9 L758.0,1551.6 L760.0,1550.3 L762.0,1549.0 L764.0,1547.6 L766.0,1546.3 L768.0,1545.0 L770.0,1543.7 L772.0,1542.5 L774.0,1541.2 L776.0,1539.9 L778.0,1538.6 L780.0,1537.2 L782.0,1535.7 L784.0,1534.1 L786.0,1532.5 L788.0,1530.7 L790.0,1528.9 L792.0,1527.0 L794.0,1525.1 L796.0,1523.2 L798.0,1521.3 L800.0,1519.5 L802.0,1517.7 L804.0,1515.9 L806.0,1514.2 L808.0,1512.4 L810.0,1510.7 L812.0,1509.0 L814.0,1507.4 L816.0,1505.8 L818.0,1504.3 L820.0,1503.0 L822.0,1501.7 L824.0,1500.5 L826.0,1499.4 L828.0,1498.4 L830.0,1497.3 L832.0,1496.2 L834.0,1495.0 L836.0,1493.6 L838.0,1492.1 L840.0,1490.5 L842.0,1488.8 L844.0,1487.0 L846.0,1485.1 L848.0,1483.2 L850.0,1481.3 L852.0,1479.4 L854.0,1477.5 L856.0,1475.6 L858.0,1473.7 L860.0,1471.8 L862.0,1469.8 L864.0,1467.7 L866.0,1465.4 L868.0,1462.7 L870.0,1459.8 L872.0,1456.7 L874.0,1453.6 L876.0,1450.6 L878.0,1447.8 L880.0,1445.3 L882.0,1442.9 L884.0,1440.7 L886.0,1438.8 L888.0,1437.1 L890.0,1435.7 L892.0,1434.5 L894.0,1433.7 L896.0,1433.2 L898.0,1432.8 L900.0,1432.5 L902.0,1432.3 L904.0,1432.2 L906.0,1432.0 L908.0,1431.9 L910.0,1431.9 L912.0,1431.8 L914.0,1431.8 L916.0,1431.8 L918.0,1431.7 L920.0,1431.7 L920.4,1431.7" fill="none" stroke="#37bde9" stroke-width="3.0" stroke-linejoin="round" stroke-linecap="round"/>
<line x1="716.3" y1="1015" x2="792.9" y2="1015" stroke="#161616" stroke-width="2.3"/>
<text transform="translate(800.98,1023.20) scale(1.1213,1)" font-family="'Liberation Sans', Arial, Helvetica, sans-serif" fill="#161616" stroke="#161616" stroke-width="0"><tspan x="0.00" y="0.00" font-size="23.5" font-weight="bold">t = 6h</tspan></text>
<line x1="716.3" y1="1045.2" x2="792.9" y2="1045.2" stroke="#dc2b2e" stroke-width="2.3"/>
<text transform="translate(800.98,1053.40) scale(1.1213,1)" font-family="'Liberation Sans', Arial, Helvetica, sans-serif" fill="#dc2b2e" stroke="#dc2b2e" stroke-width="0"><tspan x="0.00" y="0.00" font-size="23.5" font-weight="bold">t = 12h</tspan></text>
<line x1="716.3" y1="1076.1" x2="792.9" y2="1076.1" stroke="#2d38a6" stroke-width="2.3"/>
<text transform="translate(800.98,1084.30) scale(1.1213,1)" font-family="'Liberation Sans', Arial, Helvetica, sans-serif" fill="#2d38a6" stroke="#2d38a6" stroke-width="0"><tspan x="0.00" y="0.00" font-size="23.5" font-weight="bold">t = 20h</tspan></text>
<line x1="716.3" y1="1107.1" x2="792.9" y2="1107.1" stroke="#2a8a3c" stroke-width="2.3"/>
<text transform="translate(800.98,1115.30) scale(1.1213,1)" font-family="'Liberation Sans', Arial, Helvetica, sans-serif" fill="#2a8a3c" stroke="#2a8a3c" stroke-width="0"><tspan x="0.00" y="0.00" font-size="23.5" font-weight="bold">t = 40h</tspan></text>
<line x1="716.3" y1="1138" x2="792.9" y2="1138" stroke="#ee6a2c" stroke-width="2.3"/>
<text transform="translate(800.98,1146.20) scale(1.1213,1)" font-family="'Liberation Sans', Arial, Helvetica, sans-serif" fill="#ee6a2c" stroke="#ee6a2c" stroke-width="0"><tspan x="0.00" y="0.00" font-size="23.5" font-weight="bold">t = 60h</tspan></text>
<line x1="716.3" y1="1168.4" x2="792.9" y2="1168.4" stroke="#37bde9" stroke-width="2.3"/>
<text transform="translate(800.98,1176.60) scale(1.1213,1)" font-family="'Liberation Sans', Arial, Helvetica, sans-serif" fill="#37bde9" stroke="#37bde9" stroke-width="0"><tspan x="0.00" y="0.00" font-size="23.5" font-weight="bold">t = 100h</tspan></text>
<text transform="translate(439.30,1212.02) rotate(-90) scale(1.0473,1)" font-family="'Liberation Sans', Arial, Helvetica, sans-serif" fill="#151515" stroke="#151515" stroke-width="0.35"><tspan x="0.00" y="0.00" font-size="30">δNHD (FA)</tspan></text>
<text transform="translate(594.30,1303.40) rotate(-90) scale(0.9952,1)" font-family="'Liberation Sans', Arial, Helvetica, sans-serif" fill="#151515" stroke="#151515" stroke-width="0.35"><tspan x="0.00" y="0.00" font-size="31">δNHD (ISO-Br)</tspan></text>
<text transform="translate(722.60,1530.84) rotate(-90) scale(0.9695,1)" font-family="'Liberation Sans', Arial, Helvetica, sans-serif" fill="#151515" stroke="#151515" stroke-width="0.35"><tspan x="0.00" y="0.00" font-size="30.5">δNH</tspan><tspan x="61.03" y="2.00" font-size="22">3</tspan><tspan x="73.27" y="-13.00" font-size="17">+</tspan></text>
</g>
<g id="pd">
<line x1="1222.7" y1="1718" x2="1236.3" y2="1718" stroke="#454545" stroke-width="2.6"/>
<line x1="1228.3" y1="1693.1" x2="1236.3" y2="1693.1" stroke="#454545" stroke-width="2.6"/>
<line x1="1228.3" y1="1668.3" x2="1236.3" y2="1668.3" stroke="#454545" stroke-width="2.6"/>
<line x1="1228.3" y1="1643.4" x2="1236.3" y2="1643.4" stroke="#454545" stroke-width="2.6"/>
<line x1="1228.3" y1="1618.6" x2="1236.3" y2="1618.6" stroke="#454545" stroke-width="2.6"/>
<line x1="1222.7" y1="1593.7" x2="1236.3" y2="1593.7" stroke="#454545" stroke-width="2.6"/>
<line x1="1228.3" y1="1568.9" x2="1236.3" y2="1568.9" stroke="#454545" stroke-width="2.6"/>
<line x1="1228.3" y1="1544" x2="1236.3" y2="1544" stroke="#454545" stroke-width="2.6"/>
<line x1="1228.3" y1="1519.1" x2="1236.3" y2="1519.1" stroke="#454545" stroke-width="2.6"/>
<line x1="1228.3" y1="1494.3" x2="1236.3" y2="1494.3" stroke="#454545" stroke-width="2.6"/>
<line x1="1222.7" y1="1469.4" x2="1236.3" y2="1469.4" stroke="#454545" stroke-width="2.6"/>
<line x1="1228.3" y1="1444.6" x2="1236.3" y2="1444.6" stroke="#454545" stroke-width="2.6"/>
<line x1="1228.3" y1="1419.7" x2="1236.3" y2="1419.7" stroke="#454545" stroke-width="2.6"/>
<line x1="1228.3" y1="1394.9" x2="1236.3" y2="1394.9" stroke="#454545" stroke-width="2.6"/>
<line x1="1228.3" y1="1370" x2="1236.3" y2="1370" stroke="#454545" stroke-width="2.6"/>
<line x1="1222.7" y1="1345.2" x2="1236.3" y2="1345.2" stroke="#454545" stroke-width="2.6"/>
<line x1="1228.3" y1="1320.3" x2="1236.3" y2="1320.3" stroke="#454545" stroke-width="2.6"/>
<line x1="1228.3" y1="1295.4" x2="1236.3" y2="1295.4" stroke="#454545" stroke-width="2.6"/>
<line x1="1228.3" y1="1270.6" x2="1236.3" y2="1270.6" stroke="#454545" stroke-width="2.6"/>
<line x1="1228.3" y1="1245.7" x2="1236.3" y2="1245.7" stroke="#454545" stroke-width="2.6"/>
<line x1="1222.7" y1="1220.9" x2="1236.3" y2="1220.9" stroke="#454545" stroke-width="2.6"/>
<line x1="1228.3" y1="1196" x2="1236.3" y2="1196" stroke="#454545" stroke-width="2.6"/>
<line x1="1228.3" y1="1171.2" x2="1236.3" y2="1171.2" stroke="#454545" stroke-width="2.6"/>
<line x1="1228.3" y1="1146.3" x2="1236.3" y2="1146.3" stroke="#454545" stroke-width="2.6"/>
<line x1="1228.3" y1="1121.4" x2="1236.3" y2="1121.4" stroke="#454545" stroke-width="2.6"/>
<line x1="1222.7" y1="1096.6" x2="1236.3" y2="1096.6" stroke="#454545" stroke-width="2.6"/>
<line x1="1228.3" y1="1071.7" x2="1236.3" y2="1071.7" stroke="#454545" stroke-width="2.6"/>
<line x1="1228.3" y1="1046.9" x2="1236.3" y2="1046.9" stroke="#454545" stroke-width="2.6"/>
<line x1="1228.3" y1="1022" x2="1236.3" y2="1022" stroke="#454545" stroke-width="2.6"/>
<line x1="1228.3" y1="997.2" x2="1236.3" y2="997.2" stroke="#454545" stroke-width="2.6"/>
<line x1="1222.7" y1="972.3" x2="1236.3" y2="972.3" stroke="#454545" stroke-width="2.6"/>
<line x1="1236.3" y1="1718" x2="1236.3" y2="1731.7" stroke="#454545" stroke-width="2.6"/>
<line x1="1257.8" y1="1718" x2="1257.8" y2="1724.5" stroke="#454545" stroke-width="2.6"/>
<line x1="1279.3" y1="1718" x2="1279.3" y2="1724.5" stroke="#454545" stroke-width="2.6"/>
<line x1="1300.8" y1="1718" x2="1300.8" y2="1724.5" stroke="#454545" stroke-width="2.6"/>
<line x1="1322.3" y1="1718" x2="1322.3" y2="1724.5" stroke="#454545" stroke-width="2.6"/>
<line x1="1343.8" y1="1718" x2="1343.8" y2="1731.7" stroke="#454545" stroke-width="2.6"/>
<line x1="1365.3" y1="1718" x2="1365.3" y2="1724.5" stroke="#454545" stroke-width="2.6"/>
<line x1="1386.8" y1="1718" x2="1386.8" y2="1724.5" stroke="#454545" stroke-width="2.6"/>
<line x1="1408.3" y1="1718" x2="1408.3" y2="1724.5" stroke="#454545" stroke-width="2.6"/>
<line x1="1429.8" y1="1718" x2="1429.8" y2="1724.5" stroke="#454545" stroke-width="2.6"/>
<line x1="1451.3" y1="1718" x2="1451.3" y2="1731.7" stroke="#454545" stroke-width="2.6"/>
<line x1="1472.8" y1="1718" x2="1472.8" y2="1724.5" stroke="#454545" stroke-width="2.6"/>
<line x1="1494.3" y1="1718" x2="1494.3" y2="1724.5" stroke="#454545" stroke-width="2.6"/>
<line x1="1515.8" y1="1718" x2="1515.8" y2="1724.5" stroke="#454545" stroke-width="2.6"/>
<line x1="1537.3" y1="1718" x2="1537.3" y2="1724.5" stroke="#454545" stroke-width="2.6"/>
<line x1="1558.8" y1="1718" x2="1558.8" y2="1731.7" stroke="#454545" stroke-width="2.6"/>
<line x1="1580.3" y1="1718" x2="1580.3" y2="1724.5" stroke="#454545" stroke-width="2.6"/>
<line x1="1601.8" y1="1718" x2="1601.8" y2="1724.5" stroke="#454545" stroke-width="2.6"/>
<line x1="1623.3" y1="1718" x2="1623.3" y2="1724.5" stroke="#454545" stroke-width="2.6"/>
<line x1="1644.8" y1="1718" x2="1644.8" y2="1724.5" stroke="#454545" stroke-width="2.6"/>
<line x1="1666.3" y1="1718" x2="1666.3" y2="1731.7" stroke="#454545" stroke-width="2.6"/>
<line x1="1687.8" y1="1718" x2="1687.8" y2="1724.5" stroke="#454545" stroke-width="2.6"/>
<line x1="1709.3" y1="1718" x2="1709.3" y2="1724.5" stroke="#454545" stroke-width="2.6"/>
<line x1="1730.8" y1="1718" x2="1730.8" y2="1724.5" stroke="#454545" stroke-width="2.6"/>
<line x1="1752.3" y1="1718" x2="1752.3" y2="1724.5" stroke="#454545" stroke-width="2.6"/>
<line x1="1773.8" y1="1718" x2="1773.8" y2="1731.7" stroke="#454545" stroke-width="2.6"/>
<line x1="1795.3" y1="1718" x2="1795.3" y2="1724.5" stroke="#454545" stroke-width="2.6"/>
<line x1="1816.8" y1="1718" x2="1816.8" y2="1724.5" stroke="#454545" stroke-width="2.6"/>
<line x1="1838.3" y1="1718" x2="1838.3" y2="1724.5" stroke="#454545" stroke-width="2.6"/>
<line x1="1859.8" y1="1718" x2="1859.8" y2="1724.5" stroke="#454545" stroke-width="2.6"/>
<line x1="1881.3" y1="1718" x2="1881.3" y2="1731.7" stroke="#454545" stroke-width="2.6"/>
<line x1="1902.8" y1="1718" x2="1902.8" y2="1724.5" stroke="#454545" stroke-width="2.6"/>
<line x1="1924.3" y1="1718" x2="1924.3" y2="1724.5" stroke="#454545" stroke-width="2.6"/>
<line x1="1945.8" y1="1718" x2="1945.8" y2="1724.5" stroke="#454545" stroke-width="2.6"/>
<line x1="1967.3" y1="1718" x2="1967.3" y2="1724.5" stroke="#454545" stroke-width="2.6"/>
<line x1="1988.8" y1="1718" x2="1988.8" y2="1731.7" stroke="#454545" stroke-width="2.6"/>
<rect x="1236.3" y="972.3" width="752.5" height="745.7" fill="none" stroke="#454545" stroke-width="2.6"/>
<text transform="translate(1126.75,1726.00) scale(1.0202,1)" font-family="'Liberation Sans', Arial, Helvetica, sans-serif" fill="#151515" stroke="#151515" stroke-width="0.35"><tspan x="0.00" y="0.00" font-size="30">-0.002</tspan></text>
<text transform="translate(1126.71,1601.72) scale(1.0202,1)" font-family="'Liberation Sans', Arial, Helvetica, sans-serif" fill="#151515" stroke="#151515" stroke-width="0.35"><tspan x="0.00" y="0.00" font-size="30">-0.001</tspan></text>
<text transform="translate(1136.60,1477.43) scale(1.0202,1)" font-family="'Liberation Sans', Arial, Helvetica, sans-serif" fill="#151515" stroke="#151515" stroke-width="0.35"><tspan x="0.00" y="0.00" font-size="30">0.000</tspan></text>
<text transform="translate(1136.90,1353.15) scale(1.0202,1)" font-family="'Liberation Sans', Arial, Helvetica, sans-serif" fill="#151515" stroke="#151515" stroke-width="0.35"><tspan x="0.00" y="0.00" font-size="30">0.001</tspan></text>
<text transform="translate(1136.95,1228.87) scale(1.0202,1)" font-family="'Liberation Sans', Arial, Helvetica, sans-serif" fill="#151515" stroke="#151515" stroke-width="0.35"><tspan x="0.00" y="0.00" font-size="30">0.002</tspan></text>
<text transform="translate(1136.75,1104.58) scale(1.0202,1)" font-family="'Liberation Sans', Arial, Helvetica, sans-serif" fill="#151515" stroke="#151515" stroke-width="0.35"><tspan x="0.00" y="0.00" font-size="30">0.003</tspan></text>
<text transform="translate(1136.30,980.30) scale(1.0202,1)" font-family="'Liberation Sans', Arial, Helvetica, sans-serif" fill="#151515" stroke="#151515" stroke-width="0.35"><tspan x="0.00" y="0.00" font-size="30">0.004</tspan></text>
<text transform="translate(1203.94,1763.30) scale(1.0301,1)" font-family="'Liberation Sans', Arial, Helvetica, sans-serif" fill="#151515" stroke="#151515" stroke-width="0.35"><tspan x="0.00" y="0.00" font-size="29.5">1520</tspan></text>
<text transform="translate(1311.44,1763.30) scale(1.0301,1)" font-family="'Liberation Sans', Arial, Helvetica, sans-serif" fill="#151515" stroke="#151515" stroke-width="0.35"><tspan x="0.00" y="0.00" font-size="29.5">1510</tspan></text>
<text transform="translate(1418.94,1763.30) scale(1.0301,1)" font-family="'Liberation Sans', Arial, Helvetica, sans-serif" fill="#151515" stroke="#151515" stroke-width="0.35"><tspan x="0.00" y="0.00" font-size="29.5">1500</tspan></text>
<text transform="translate(1526.44,1763.30) scale(1.0301,1)" font-family="'Liberation Sans', Arial, Helvetica, sans-serif" fill="#151515" stroke="#151515" stroke-width="0.35"><tspan x="0.00" y="0.00" font-size="29.5">1490</tspan></text>
<text transform="translate(1633.94,1763.30) scale(1.0301,1)" font-family="'Liberation Sans', Arial, Helvetica, sans-serif" fill="#151515" stroke="#151515" stroke-width="0.35"><tspan x="0.00" y="0.00" font-size="29.5">1480</tspan></text>
<text transform="translate(1741.44,1763.30) scale(1.0301,1)" font-family="'Liberation Sans', Arial, Helvetica, sans-serif" fill="#151515" stroke="#151515" stroke-width="0.35"><tspan x="0.00" y="0.00" font-size="29.5">1470</tspan></text>
<text transform="translate(1848.94,1763.30) scale(1.0301,1)" font-family="'Liberation Sans', Arial, Helvetica, sans-serif" fill="#151515" stroke="#151515" stroke-width="0.35"><tspan x="0.00" y="0.00" font-size="29.5">1460</tspan></text>
<text transform="translate(1956.44,1763.30) scale(1.0301,1)" font-family="'Liberation Sans', Arial, Helvetica, sans-serif" fill="#151515" stroke="#151515" stroke-width="0.35"><tspan x="0.00" y="0.00" font-size="29.5">1450</tspan></text>
<text transform="translate(1437.43,1824.00) scale(1.0362,1)" font-family="'Liberation Sans', Arial, Helvetica, sans-serif" fill="#151515" stroke="#151515" stroke-width="0.35"><tspan x="0.00" y="0.00" font-size="38.3">Wavenumbers, cm</tspan></text>
<text transform="translate(1768.57,1807.00) scale(0.9932,1)" font-family="'Liberation Sans', Arial, Helvetica, sans-serif" fill="#151515" stroke="#151515" stroke-width="0.35"><tspan x="0.00" y="0.00" font-size="21">-1</tspan></text>
<text transform="translate(1100.80,1467.36) rotate(-90) scale(1.0291,1)" font-family="'Liberation Sans', Arial, Helvetica, sans-serif" fill="#151515" stroke="#151515" stroke-width="0.35"><tspan x="0.00" y="0.00" font-size="38">Δ Absorbance</tspan></text>
<text transform="translate(1069.65,992.20) scale(1.0847,1)" font-family="'Liberation Serif', 'Times New Roman', serif" fill="#151515" stroke="#151515" stroke-width="0.35"><tspan x="0.00" y="0.00" font-size="60">d)</tspan></text>
<path d="M1236.3,1491.0 L1238.3,1490.4 L1240.3,1489.5 L1242.3,1488.6 L1244.3,1487.7 L1246.3,1486.8 L1248.3,1486.1 L1250.3,1485.4 L1252.3,1484.7 L1254.3,1484.2 L1256.3,1483.6 L1258.3,1483.1 L1260.3,1482.6 L1262.3,1482.2 L1264.3,1481.8 L1266.3,1481.5 L1268.3,1481.2 L1270.3,1480.9 L1272.3,1480.8 L1274.3,1480.7 L1276.3,1480.7 L1278.3,1480.8 L1280.3,1480.9 L1282.3,1481.1 L1284.3,1481.4 L1286.3,1481.6 L1288.3,1481.8 L1290.3,1482.1 L1292.3,1482.2 L1294.3,1482.4 L1296.3,1482.5 L1298.3,1482.6 L1300.3,1482.7 L1302.3,1482.8 L1304.3,1482.9 L1306.3,1482.9 L1308.3,1483.0 L1310.3,1483.0 L1312.3,1483.0 L1314.3,1483.0 L1316.3,1483.0 L1318.3,1482.9 L1320.3,1482.7 L1322.3,1482.5 L1324.3,1482.2 L1326.3,1481.8 L1328.3,1481.3 L1330.3,1480.8 L1332.3,1480.2 L1334.3,1479.5 L1336.3,1478.8 L1338.3,1478.1 L1340.3,1477.3 L1342.3,1476.4 L1344.3,1475.5 L1346.3,1474.6 L1348.3,1473.7 L1350.3,1472.8 L1352.3,1471.9 L1354.3,1471.0 L1356.3,1470.2 L1358.3,1469.4 L1360.3,1468.7 L1362.3,1468.0 L1364.3,1467.4 L1366.3,1467.0 L1368.3,1466.7 L1370.3,1466.7 L1372.3,1466.7 L1374.3,1466.9 L1376.3,1467.2 L1378.3,1467.5 L1380.3,1468.0 L1382.3,1468.5 L1384.3,1469.2 L1386.3,1469.9 L1388.3,1470.7 L1390.3,1471.3 L1392.3,1471.9 L1394.3,1472.3 L1396.3,1472.7 L1398.3,1473.0 L1400.3,1473.2 L1402.3,1473.2 L1404.3,1473.2 L1406.3,1473.0 L1408.3,1472.7 L1410.3,1472.3 L1412.3,1471.9 L1414.3,1471.4 L1416.3,1470.9 L1418.3,1470.4 L1420.3,1470.0 L1422.3,1469.7 L1424.3,1469.4 L1426.3,1469.3 L1428.3,1469.2 L1430.3,1469.1 L1432.3,1469.1 L1434.3,1469.0 L1436.3,1469.0 L1438.3,1468.9 L1440.3,1468.9 L1442.3,1468.8 L1444.3,1468.7 L1446.3,1468.6 L1448.3,1468.5 L1450.3,1468.3 L1452.3,1468.1 L1454.3,1467.8 L1456.3,1467.5 L1458.3,1467.0 L1460.3,1466.5 L1462.3,1465.8 L1464.3,1465.1 L1466.3,1464.4 L1468.3,1463.6 L1470.3,1462.8 L1472.3,1462.1 L1474.3,1461.4 L1476.3,1460.7 L1478.3,1460.0 L1480.3,1459.3 L1482.3,1458.6 L1484.3,1457.9 L1486.3,1457.3 L1488.3,1456.8 L1490.3,1456.3 L1492.3,1455.9 L1494.3,1455.6 L1496.3,1455.4 L1498.3,1455.2 L1500.3,1455.1 L1502.3,1455.0 L1504.3,1455.0 L1506.3,1455.0 L1508.3,1455.0 L1510.3,1455.0 L1512.3,1455.1 L1514.3,1455.2 L1516.3,1455.4 L1518.3,1455.5 L1520.3,1455.7 L1522.3,1455.8 L1524.3,1455.9 L1526.3,1456.0 L1528.3,1456.0 L1530.3,1456.0 L1532.3,1455.9 L1534.3,1455.8 L1536.3,1455.6 L1538.3,1455.4 L1540.3,1455.1 L1542.3,1454.9 L1544.3,1454.6 L1546.3,1454.4 L1548.3,1454.2 L1550.3,1454.0 L1552.3,1453.8 L1554.3,1453.7 L1556.3,1453.5 L1558.3,1453.4 L1560.3,1453.2 L1562.3,1453.1 L1564.3,1453.0 L1566.3,1452.9 L1568.3,1452.9 L1570.3,1452.8 L1572.3,1452.8 L1574.3,1452.9 L1576.3,1453.0 L1578.3,1453.2 L1580.3,1453.4 L1582.3,1453.6 L1584.3,1453.9 L1586.3,1454.1 L1588.3,1454.2 L1590.3,1454.4 L1592.3,1454.5 L1594.3,1454.5 L1596.3,1454.5 L1598.3,1454.5 L1600.3,1454.4 L1602.3,1454.4 L1604.3,1454.3 L1606.3,1454.2 L1608.3,1454.1 L1610.3,1454.0 L1612.3,1453.9 L1614.3,1453.8 L1616.3,1453.7 L1618.3,1453.7 L1620.3,1453.6 L1622.3,1453.6 L1624.3,1453.6 L1626.3,1453.6 L1628.3,1453.7 L1630.3,1453.8 L1632.3,1454.0 L1634.3,1454.2 L1636.3,1454.5 L1638.3,1454.9 L1640.3,1455.5 L1642.3,1456.1 L1644.3,1457.0 L1646.3,1457.8 L1648.3,1458.8 L1650.3,1459.9 L1652.3,1461.0 L1654.3,1462.2 L1656.3,1463.4 L1658.3,1464.6 L1660.3,1465.8 L1662.3,1466.8 L1664.3,1467.7 L1666.3,1468.5 L1668.3,1469.1 L1670.3,1469.7 L1672.3,1470.1 L1674.3,1470.6 L1676.3,1471.0 L1678.3,1471.4 L1680.3,1471.8 L1682.3,1472.3 L1684.3,1472.7 L1686.3,1473.1 L1688.3,1473.5 L1690.3,1473.9 L1692.3,1474.4 L1694.3,1475.0 L1696.3,1475.6 L1698.3,1476.4 L1700.3,1477.3 L1702.3,1478.4 L1704.3,1479.6 L1706.3,1480.8 L1708.3,1482.2 L1710.3,1483.5 L1712.3,1484.9 L1714.3,1486.2 L1716.3,1487.5 L1718.3,1488.8 L1720.3,1490.2 L1722.3,1491.5 L1724.3,1492.9 L1726.3,1494.2 L1728.3,1495.4 L1730.3,1496.5 L1732.3,1497.5 L1734.3,1498.4 L1736.3,1499.1 L1738.3,1499.8 L1740.3,1500.5 L1742.3,1501.1 L1744.3,1501.6 L1746.3,1502.2 L1748.3,1502.7 L1750.3,1503.2 L1752.3,1503.7 L1754.3,1504.3 L1756.3,1504.8 L1758.3,1505.4 L1760.3,1505.9 L1762.3,1506.5 L1764.3,1507.1 L1766.3,1507.6 L1768.3,1508.1 L1770.3,1508.5 L1772.3,1509.0 L1774.3,1509.3 L1776.3,1509.6 L1778.3,1509.9 L1780.3,1510.1 L1782.3,1510.3 L1784.3,1510.5 L1786.3,1510.6 L1788.3,1510.6 L1790.3,1510.7 L1792.3,1510.7 L1794.3,1510.7 L1796.3,1510.7 L1798.3,1510.6 L1800.3,1510.5 L1802.3,1510.4 L1804.3,1510.2 L1806.3,1510.0 L1808.3,1509.8 L1810.3,1509.6 L1812.3,1509.3 L1814.3,1509.1 L1816.3,1508.8 L1818.3,1508.5 L1820.3,1508.3 L1822.3,1508.0 L1824.3,1507.7 L1826.3,1507.3 L1828.3,1507.0 L1830.3,1506.7 L1832.3,1506.4 L1834.3,1506.1 L1836.3,1505.8 L1838.3,1505.5 L1840.3,1505.3 L1842.3,1505.1 L1844.3,1505.0 L1846.3,1504.9 L1848.3,1504.8 L1850.3,1504.8 L1852.3,1504.7 L1854.3,1504.7 L1856.3,1504.6 L1858.3,1504.5 L1860.3,1504.3 L1862.3,1504.1 L1864.3,1503.9 L1866.3,1503.7 L1868.3,1503.5 L1870.3,1503.3 L1872.3,1503.0 L1874.3,1502.7 L1876.3,1502.4 L1878.3,1502.0 L1880.3,1501.6 L1882.3,1501.1 L1884.3,1500.6 L1886.3,1500.0 L1888.3,1499.5 L1890.3,1498.8 L1892.3,1498.1 L1894.3,1497.4 L1896.3,1496.7 L1898.3,1495.9 L1900.3,1495.1 L1902.3,1494.3 L1904.3,1493.5 L1906.3,1492.5 L1908.3,1491.6 L1910.3,1490.5 L1912.3,1489.4 L1914.3,1488.3 L1916.3,1487.2 L1918.3,1486.2 L1920.3,1485.2 L1922.3,1484.2 L1924.3,1483.4 L1926.3,1482.7 L1928.3,1482.0 L1930.3,1481.4 L1932.3,1480.9 L1934.3,1480.5 L1936.3,1480.1 L1938.3,1479.8 L1940.3,1479.4 L1942.3,1479.2 L1944.3,1478.9 L1946.3,1478.6 L1948.3,1478.4 L1950.3,1478.3 L1952.3,1478.2 L1954.3,1478.1 L1956.3,1478.1 L1958.3,1478.0 L1960.3,1478.0 L1962.3,1478.0 L1964.3,1477.8 L1966.3,1477.7 L1968.3,1477.4 L1970.3,1477.1 L1972.3,1476.7 L1974.3,1476.2 L1976.3,1475.7 L1978.3,1475.2 L1980.3,1474.6 L1982.3,1474.0 L1984.3,1473.4 L1986.3,1472.9 L1988.3,1472.5 L1988.8,1472.2" fill="none" stroke="#161616" stroke-width="3.0" stroke-linejoin="round" stroke-linecap="round"/>
<path d="M1236.3,1516.7 L1238.3,1516.0 L1240.3,1515.1 L1242.3,1514.1 L1244.3,1513.1 L1246.3,1512.1 L1248.3,1511.1 L1250.3,1510.1 L1252.3,1509.2 L1254.3,1508.3 L1256.3,1507.3 L1258.3,1506.4 L1260.3,1505.5 L1262.3,1504.6 L1264.3,1503.7 L1266.3,1502.9 L1268.3,1502.1 L1270.3,1501.3 L1272.3,1500.6 L1274.3,1500.0 L1276.3,1499.3 L1278.3,1498.8 L1280.3,1498.3 L1282.3,1497.8 L1284.3,1497.3 L1286.3,1496.9 L1288.3,1496.6 L1290.3,1496.2 L1292.3,1496.0 L1294.3,1495.7 L1296.3,1495.5 L1298.3,1495.4 L1300.3,1495.3 L1302.3,1495.2 L1304.3,1495.2 L1306.3,1495.2 L1308.3,1495.2 L1310.3,1495.1 L1312.3,1495.1 L1314.3,1495.0 L1316.3,1494.9 L1318.3,1494.7 L1320.3,1494.5 L1322.3,1494.1 L1324.3,1493.7 L1326.3,1493.1 L1328.3,1492.5 L1330.3,1491.8 L1332.3,1491.0 L1334.3,1490.3 L1336.3,1489.5 L1338.3,1488.8 L1340.3,1488.0 L1342.3,1487.3 L1344.3,1486.5 L1346.3,1485.7 L1348.3,1484.9 L1350.3,1484.2 L1352.3,1483.5 L1354.3,1482.9 L1356.3,1482.4 L1358.3,1481.9 L1360.3,1481.6 L1362.3,1481.4 L1364.3,1481.2 L1366.3,1481.2 L1368.3,1481.2 L1370.3,1481.2 L1372.3,1481.4 L1374.3,1481.6 L1376.3,1481.9 L1378.3,1482.2 L1380.3,1482.5 L1382.3,1482.8 L1384.3,1483.2 L1386.3,1483.7 L1388.3,1484.0 L1390.3,1484.3 L1392.3,1484.4 L1394.3,1484.4 L1396.3,1484.2 L1398.3,1484.0 L1400.3,1483.5 L1402.3,1483.0 L1404.3,1482.2 L1406.3,1481.3 L1408.3,1480.3 L1410.3,1479.2 L1412.3,1478.0 L1414.3,1476.7 L1416.3,1475.4 L1418.3,1474.1 L1420.3,1472.7 L1422.3,1471.4 L1424.3,1470.0 L1426.3,1468.6 L1428.3,1467.2 L1430.3,1465.7 L1432.3,1464.3 L1434.3,1462.9 L1436.3,1461.6 L1438.3,1460.3 L1440.3,1459.1 L1442.3,1458.1 L1444.3,1457.1 L1446.3,1456.2 L1448.3,1455.3 L1450.3,1454.5 L1452.3,1453.7 L1454.3,1452.9 L1456.3,1452.1 L1458.3,1451.2 L1460.3,1450.3 L1462.3,1449.4 L1464.3,1448.4 L1466.3,1447.5 L1468.3,1446.6 L1470.3,1445.8 L1472.3,1445.0 L1474.3,1444.3 L1476.3,1443.6 L1478.3,1443.0 L1480.3,1442.4 L1482.3,1441.9 L1484.3,1441.4 L1486.3,1441.0 L1488.3,1440.6 L1490.3,1440.2 L1492.3,1439.8 L1494.3,1439.5 L1496.3,1439.3 L1498.3,1439.0 L1500.3,1438.8 L1502.3,1438.7 L1504.3,1438.5 L1506.3,1438.4 L1508.3,1438.3 L1510.3,1438.2 L1512.3,1438.1 L1514.3,1438.0 L1516.3,1438.0 L1518.3,1437.9 L1520.3,1437.9 L1522.3,1437.9 L1524.3,1437.8 L1526.3,1437.8 L1528.3,1437.8 L1530.3,1437.8 L1532.3,1437.9 L1534.3,1437.9 L1536.3,1437.9 L1538.3,1438.0 L1540.3,1438.0 L1542.3,1438.1 L1544.3,1438.2 L1546.3,1438.2 L1548.3,1438.2 L1550.3,1438.2 L1552.3,1438.2 L1554.3,1438.2 L1556.3,1438.1 L1558.3,1438.1 L1560.3,1438.0 L1562.3,1437.9 L1564.3,1437.9 L1566.3,1437.8 L1568.3,1437.7 L1570.3,1437.5 L1572.3,1437.4 L1574.3,1437.3 L1576.3,1437.2 L1578.3,1437.1 L1580.3,1437.0 L1582.3,1436.8 L1584.3,1436.6 L1586.3,1436.3 L1588.3,1436.0 L1590.3,1435.5 L1592.3,1434.9 L1594.3,1434.2 L1596.3,1433.3 L1598.3,1432.4 L1600.3,1431.4 L1602.3,1430.4 L1604.3,1429.4 L1606.3,1428.4 L1608.3,1427.5 L1610.3,1426.5 L1612.3,1425.6 L1614.3,1424.7 L1616.3,1423.8 L1618.3,1422.9 L1620.3,1422.1 L1622.3,1421.4 L1624.3,1420.7 L1626.3,1420.1 L1628.3,1419.5 L1630.3,1418.9 L1632.3,1418.3 L1634.3,1417.8 L1636.3,1417.3 L1638.3,1417.0 L1640.3,1416.7 L1642.3,1416.5 L1644.3,1416.6 L1646.3,1416.9 L1648.3,1417.5 L1650.3,1418.3 L1652.3,1419.5 L1654.3,1420.8 L1656.3,1422.4 L1658.3,1424.3 L1660.3,1426.4 L1662.3,1428.7 L1664.3,1431.0 L1666.3,1433.2 L1668.3,1435.3 L1670.3,1437.3 L1672.3,1439.2 L1674.3,1441.0 L1676.3,1442.8 L1678.3,1444.6 L1680.3,1446.3 L1682.3,1448.0 L1684.3,1449.5 L1686.3,1451.0 L1688.3,1452.4 L1690.3,1453.7 L1692.3,1454.9 L1694.3,1456.0 L1696.3,1457.2 L1698.3,1458.4 L1700.3,1459.7 L1702.3,1461.1 L1704.3,1462.6 L1706.3,1464.2 L1708.3,1465.9 L1710.3,1467.7 L1712.3,1469.5 L1714.3,1471.3 L1716.3,1473.1 L1718.3,1474.9 L1720.3,1476.7 L1722.3,1478.4 L1724.3,1480.2 L1726.3,1481.9 L1728.3,1483.7 L1730.3,1485.4 L1732.3,1487.0 L1734.3,1488.4 L1736.3,1489.7 L1738.3,1490.8 L1740.3,1491.8 L1742.3,1492.6 L1744.3,1493.4 L1746.3,1494.0 L1748.3,1494.5 L1750.3,1494.9 L1752.3,1495.3 L1754.3,1495.6 L1756.3,1495.8 L1758.3,1495.9 L1760.3,1495.9 L1762.3,1495.9 L1764.3,1495.8 L1766.3,1495.7 L1768.3,1495.7 L1770.3,1495.7 L1772.3,1495.8 L1774.3,1495.9 L1776.3,1496.1 L1778.3,1496.3 L1780.3,1496.6 L1782.3,1496.9 L1784.3,1497.2 L1786.3,1497.5 L1788.3,1497.8 L1790.3,1498.2 L1792.3,1498.6 L1794.3,1499.1 L1796.3,1499.6 L1798.3,1500.1 L1800.3,1500.5 L1802.3,1500.8 L1804.3,1500.9 L1806.3,1500.8 L1808.3,1500.5 L1810.3,1500.1 L1812.3,1499.5 L1814.3,1498.8 L1816.3,1498.1 L1818.3,1497.3 L1820.3,1496.6 L1822.3,1495.9 L1824.3,1495.1 L1826.3,1494.4 L1828.3,1493.7 L1830.3,1492.9 L1832.3,1492.2 L1834.3,1491.6 L1836.3,1491.1 L1838.3,1490.6 L1840.3,1490.4 L1842.3,1490.2 L1844.3,1490.2 L1846.3,1490.2 L1848.3,1490.3 L1850.3,1490.5 L1852.3,1490.6 L1854.3,1490.8 L1856.3,1491.0 L1858.3,1491.2 L1860.3,1491.3 L1862.3,1491.4 L1864.3,1491.6 L1866.3,1491.8 L1868.3,1492.0 L1870.3,1492.1 L1872.3,1492.3 L1874.3,1492.5 L1876.3,1492.6 L1878.3,1492.6 L1880.3,1492.6 L1882.3,1492.4 L1884.3,1492.2 L1886.3,1491.9 L1888.3,1491.6 L1890.3,1491.1 L1892.3,1490.7 L1894.3,1490.1 L1896.3,1489.6 L1898.3,1489.0 L1900.3,1488.4 L1902.3,1487.7 L1904.3,1487.0 L1906.3,1486.3 L1908.3,1485.6 L1910.3,1484.8 L1912.3,1484.0 L1914.3,1483.1 L1916.3,1482.3 L1918.3,1481.4 L1920.3,1480.6 L1922.3,1479.8 L1924.3,1479.0 L1926.3,1478.4 L1928.3,1477.7 L1930.3,1477.1 L1932.3,1476.6 L1934.3,1476.1 L1936.3,1475.6 L1938.3,1475.2 L1940.3,1474.7 L1942.3,1474.3 L1944.3,1474.0 L1946.3,1473.6 L1948.3,1473.2 L1950.3,1472.9 L1952.3,1472.6 L1954.3,1472.3 L1956.3,1472.0 L1958.3,1471.7 L1960.3,1471.5 L1962.3,1471.2 L1964.3,1471.0 L1966.3,1470.9 L1968.3,1470.7 L1970.3,1470.6 L1972.3,1470.5 L1974.3,1470.4 L1976.3,1470.4 L1978.3,1470.3 L1980.3,1470.2 L1982.3,1470.2 L1984.3,1470.1 L1986.3,1470.0 L1988.3,1470.0 L1988.8,1470.0" fill="none" stroke="#dc2b2e" stroke-width="3.0" stroke-linejoin="round" stroke-linecap="round"/>
<path d="M1236.3,1522.0 L1238.3,1521.3 L1240.3,1520.4 L1242.3,1519.3 L1244.3,1518.3 L1246.3,1517.3 L1248.3,1516.4 L1250.3,1515.5 L1252.3,1514.6 L1254.3,1513.8 L1256.3,1513.0 L1258.3,1512.2 L1260.3,1511.4 L1262.3,1510.7 L1264.3,1510.0 L1266.3,1509.3 L1268.3,1508.7 L1270.3,1508.1 L1272.3,1507.6 L1274.3,1507.2 L1276.3,1506.9 L1278.3,1506.6 L1280.3,1506.4 L1282.3,1506.3 L1284.3,1506.3 L1286.3,1506.3 L1288.3,1506.3 L1290.3,1506.4 L1292.3,1506.5 L1294.3,1506.7 L1296.3,1506.9 L1298.3,1507.2 L1300.3,1507.4 L1302.3,1507.7 L1304.3,1507.9 L1306.3,1508.1 L1308.3,1508.3 L1310.3,1508.4 L1312.3,1508.5 L1314.3,1508.4 L1316.3,1508.3 L1318.3,1508.0 L1320.3,1507.5 L1322.3,1507.0 L1324.3,1506.3 L1326.3,1505.6 L1328.3,1504.8 L1330.3,1504.0 L1332.3,1503.1 L1334.3,1502.1 L1336.3,1501.1 L1338.3,1499.8 L1340.3,1498.5 L1342.3,1496.8 L1344.3,1494.9 L1346.3,1492.7 L1348.3,1490.3 L1350.3,1487.8 L1352.3,1485.3 L1354.3,1482.8 L1356.3,1480.4 L1358.3,1478.0 L1360.3,1475.7 L1362.3,1473.4 L1364.3,1471.4 L1366.3,1469.7 L1368.3,1468.4 L1370.3,1467.4 L1372.3,1466.7 L1374.3,1466.2 L1376.3,1465.9 L1378.3,1465.8 L1380.3,1465.8 L1382.3,1466.1 L1384.3,1466.5 L1386.3,1467.1 L1388.3,1467.8 L1390.3,1468.3 L1392.3,1468.7 L1394.3,1468.9 L1396.3,1468.9 L1398.3,1468.9 L1400.3,1468.7 L1402.3,1468.4 L1404.3,1468.0 L1406.3,1467.5 L1408.3,1466.8 L1410.3,1466.0 L1412.3,1465.1 L1414.3,1464.1 L1416.3,1463.3 L1418.3,1462.6 L1420.3,1462.1 L1422.3,1461.6 L1424.3,1461.2 L1426.3,1460.9 L1428.3,1460.6 L1430.3,1460.2 L1432.3,1459.9 L1434.3,1459.5 L1436.3,1459.1 L1438.3,1458.7 L1440.3,1458.3 L1442.3,1457.8 L1444.3,1457.4 L1446.3,1456.9 L1448.3,1456.4 L1450.3,1455.8 L1452.3,1455.1 L1454.3,1454.3 L1456.3,1453.5 L1458.3,1452.5 L1460.3,1451.5 L1462.3,1450.5 L1464.3,1449.4 L1466.3,1448.4 L1468.3,1447.3 L1470.3,1446.2 L1472.3,1445.0 L1474.3,1443.9 L1476.3,1442.7 L1478.3,1441.5 L1480.3,1440.3 L1482.3,1439.2 L1484.3,1438.1 L1486.3,1437.2 L1488.3,1436.4 L1490.3,1435.8 L1492.3,1435.3 L1494.3,1435.0 L1496.3,1434.8 L1498.3,1434.7 L1500.3,1434.7 L1502.3,1434.7 L1504.3,1434.8 L1506.3,1435.0 L1508.3,1435.3 L1510.3,1435.5 L1512.3,1435.7 L1514.3,1435.9 L1516.3,1436.0 L1518.3,1436.1 L1520.3,1436.2 L1522.3,1436.3 L1524.3,1436.3 L1526.3,1436.3 L1528.3,1436.2 L1530.3,1436.1 L1532.3,1435.9 L1534.3,1435.6 L1536.3,1435.2 L1538.3,1434.7 L1540.3,1434.1 L1542.3,1433.5 L1544.3,1432.8 L1546.3,1432.1 L1548.3,1431.4 L1550.3,1430.7 L1552.3,1430.0 L1554.3,1429.3 L1556.3,1428.5 L1558.3,1427.7 L1560.3,1427.0 L1562.3,1426.2 L1564.3,1425.4 L1566.3,1424.7 L1568.3,1424.0 L1570.3,1423.3 L1572.3,1422.7 L1574.3,1422.1 L1576.3,1421.5 L1578.3,1420.9 L1580.3,1420.3 L1582.3,1419.7 L1584.3,1419.0 L1586.3,1418.3 L1588.3,1417.5 L1590.3,1416.6 L1592.3,1415.8 L1594.3,1414.9 L1596.3,1414.0 L1598.3,1413.0 L1600.3,1412.1 L1602.3,1411.2 L1604.3,1410.3 L1606.3,1409.3 L1608.3,1408.4 L1610.3,1407.4 L1612.3,1406.4 L1614.3,1405.4 L1616.3,1404.4 L1618.3,1403.4 L1620.3,1402.4 L1622.3,1401.5 L1624.3,1400.6 L1626.3,1399.7 L1628.3,1398.9 L1630.3,1398.1 L1632.3,1397.4 L1634.3,1396.8 L1636.3,1396.2 L1638.3,1395.8 L1640.3,1395.4 L1642.3,1395.1 L1644.3,1395.1 L1646.3,1395.2 L1648.3,1395.6 L1650.3,1396.3 L1652.3,1397.3 L1654.3,1398.5 L1656.3,1399.9 L1658.3,1401.5 L1660.3,1403.5 L1662.3,1405.5 L1664.3,1407.7 L1666.3,1409.8 L1668.3,1411.8 L1670.3,1413.7 L1672.3,1415.5 L1674.3,1417.4 L1676.3,1419.2 L1678.3,1420.9 L1680.3,1422.6 L1682.3,1424.3 L1684.3,1425.9 L1686.3,1427.5 L1688.3,1428.9 L1690.3,1430.3 L1692.3,1431.6 L1694.3,1432.8 L1696.3,1434.1 L1698.3,1435.5 L1700.3,1436.9 L1702.3,1438.6 L1704.3,1440.4 L1706.3,1442.3 L1708.3,1444.4 L1710.3,1446.6 L1712.3,1448.8 L1714.3,1451.0 L1716.3,1453.2 L1718.3,1455.3 L1720.3,1457.4 L1722.3,1459.4 L1724.3,1461.4 L1726.3,1463.3 L1728.3,1465.2 L1730.3,1467.0 L1732.3,1468.6 L1734.3,1470.1 L1736.3,1471.4 L1738.3,1472.5 L1740.3,1473.3 L1742.3,1473.9 L1744.3,1474.3 L1746.3,1474.7 L1748.3,1475.0 L1750.3,1475.4 L1752.3,1475.9 L1754.3,1476.6 L1756.3,1477.5 L1758.3,1478.7 L1760.3,1480.0 L1762.3,1481.4 L1764.3,1482.9 L1766.3,1484.4 L1768.3,1485.8 L1770.3,1487.2 L1772.3,1488.6 L1774.3,1490.0 L1776.3,1491.3 L1778.3,1492.5 L1780.3,1493.6 L1782.3,1494.6 L1784.3,1495.5 L1786.3,1496.3 L1788.3,1497.0 L1790.3,1497.4 L1792.3,1497.6 L1794.3,1497.5 L1796.3,1497.2 L1798.3,1496.7 L1800.3,1495.9 L1802.3,1495.1 L1804.3,1494.1 L1806.3,1493.2 L1808.3,1492.1 L1810.3,1491.0 L1812.3,1489.9 L1814.3,1488.7 L1816.3,1487.5 L1818.3,1486.3 L1820.3,1485.2 L1822.3,1484.2 L1824.3,1483.2 L1826.3,1482.3 L1828.3,1481.5 L1830.3,1480.8 L1832.3,1480.2 L1834.3,1479.9 L1836.3,1479.8 L1838.3,1479.9 L1840.3,1480.2 L1842.3,1480.7 L1844.3,1481.4 L1846.3,1482.0 L1848.3,1482.8 L1850.3,1483.6 L1852.3,1484.5 L1854.3,1485.5 L1856.3,1486.4 L1858.3,1487.2 L1860.3,1487.8 L1862.3,1488.2 L1864.3,1488.6 L1866.3,1488.8 L1868.3,1488.9 L1870.3,1489.0 L1872.3,1488.9 L1874.3,1488.8 L1876.3,1488.5 L1878.3,1488.1 L1880.3,1487.5 L1882.3,1486.8 L1884.3,1485.9 L1886.3,1484.9 L1888.3,1483.8 L1890.3,1482.7 L1892.3,1481.5 L1894.3,1480.4 L1896.3,1479.2 L1898.3,1478.0 L1900.3,1476.8 L1902.3,1475.5 L1904.3,1474.3 L1906.3,1473.2 L1908.3,1472.3 L1910.3,1471.5 L1912.3,1470.8 L1914.3,1470.1 L1916.3,1469.5 L1918.3,1469.0 L1920.3,1468.6 L1922.3,1468.2 L1924.3,1468.0 L1926.3,1468.0 L1928.3,1468.1 L1930.3,1468.4 L1932.3,1469.0 L1934.3,1469.6 L1936.3,1470.3 L1938.3,1471.0 L1940.3,1471.6 L1942.3,1472.3 L1944.3,1473.0 L1946.3,1473.6 L1948.3,1474.3 L1950.3,1475.0 L1952.3,1475.5 L1954.3,1476.0 L1956.3,1476.5 L1958.3,1476.8 L1960.3,1477.1 L1962.3,1477.4 L1964.3,1477.5 L1966.3,1477.6 L1968.3,1477.7 L1970.3,1477.6 L1972.3,1477.4 L1974.3,1477.1 L1976.3,1476.6 L1978.3,1476.1 L1980.3,1475.4 L1982.3,1474.7 L1984.3,1473.9 L1986.3,1473.2 L1988.3,1472.6 L1988.8,1472.3" fill="none" stroke="#2d38a6" stroke-width="3.0" stroke-linejoin="round" stroke-linecap="round"/>
<path d="M1236.3,1570.0 L1238.3,1569.0 L1240.3,1567.7 L1242.3,1566.2 L1244.3,1564.7 L1246.3,1563.3 L1248.3,1562.0 L1250.3,1560.7 L1252.3,1559.5 L1254.3,1558.3 L1256.3,1557.2 L1258.3,1556.2 L1260.3,1555.1 L1262.3,1554.1 L1264.3,1553.1 L1266.3,1552.2 L1268.3,1551.3 L1270.3,1550.4 L1272.3,1549.5 L1274.3,1548.7 L1276.3,1547.8 L1278.3,1547.1 L1280.3,1546.3 L1282.3,1545.6 L1284.3,1545.0 L1286.3,1544.3 L1288.3,1543.6 L1290.3,1543.0 L1292.3,1542.4 L1294.3,1541.7 L1296.3,1541.1 L1298.3,1540.6 L1300.3,1540.0 L1302.3,1539.5 L1304.3,1539.0 L1306.3,1538.5 L1308.3,1538.0 L1310.3,1537.5 L1312.3,1536.9 L1314.3,1536.3 L1316.3,1535.6 L1318.3,1534.9 L1320.3,1534.0 L1322.3,1533.0 L1324.3,1531.9 L1326.3,1530.6 L1328.3,1529.2 L1330.3,1527.7 L1332.3,1526.2 L1334.3,1524.6 L1336.3,1523.1 L1338.3,1521.6 L1340.3,1520.1 L1342.3,1518.5 L1344.3,1517.0 L1346.3,1515.4 L1348.3,1513.9 L1350.3,1512.4 L1352.3,1511.0 L1354.3,1509.6 L1356.3,1508.3 L1358.3,1507.1 L1360.3,1505.9 L1362.3,1504.7 L1364.3,1503.6 L1366.3,1502.5 L1368.3,1501.5 L1370.3,1500.5 L1372.3,1499.6 L1374.3,1498.8 L1376.3,1498.0 L1378.3,1497.2 L1380.3,1496.5 L1382.3,1495.8 L1384.3,1495.1 L1386.3,1494.4 L1388.3,1493.6 L1390.3,1492.8 L1392.3,1491.9 L1394.3,1491.0 L1396.3,1490.0 L1398.3,1488.9 L1400.3,1487.7 L1402.3,1486.4 L1404.3,1485.0 L1406.3,1483.5 L1408.3,1481.9 L1410.3,1480.2 L1412.3,1478.3 L1414.3,1476.1 L1416.3,1473.8 L1418.3,1471.1 L1420.3,1468.4 L1422.3,1465.6 L1424.3,1462.9 L1426.3,1460.3 L1428.3,1458.0 L1430.3,1455.8 L1432.3,1453.6 L1434.3,1451.6 L1436.3,1449.6 L1438.3,1447.6 L1440.3,1445.7 L1442.3,1443.9 L1444.3,1442.1 L1446.3,1440.4 L1448.3,1438.7 L1450.3,1437.1 L1452.3,1435.6 L1454.3,1434.1 L1456.3,1432.7 L1458.3,1431.3 L1460.3,1430.0 L1462.3,1428.7 L1464.3,1427.6 L1466.3,1426.5 L1468.3,1425.4 L1470.3,1424.4 L1472.3,1423.5 L1474.3,1422.6 L1476.3,1421.7 L1478.3,1420.8 L1480.3,1419.9 L1482.3,1419.0 L1484.3,1418.2 L1486.3,1417.4 L1488.3,1416.6 L1490.3,1415.9 L1492.3,1415.2 L1494.3,1414.6 L1496.3,1414.2 L1498.3,1413.8 L1500.3,1413.5 L1502.3,1413.3 L1504.3,1413.2 L1506.3,1413.1 L1508.3,1413.1 L1510.3,1413.1 L1512.3,1413.2 L1514.3,1413.4 L1516.3,1413.6 L1518.3,1413.9 L1520.3,1414.2 L1522.3,1414.5 L1524.3,1414.9 L1526.3,1415.2 L1528.3,1415.5 L1530.3,1415.8 L1532.3,1415.9 L1534.3,1415.8 L1536.3,1415.5 L1538.3,1415.0 L1540.3,1414.2 L1542.3,1413.3 L1544.3,1412.4 L1546.3,1411.4 L1548.3,1410.6 L1550.3,1409.7 L1552.3,1408.9 L1554.3,1408.1 L1556.3,1407.3 L1558.3,1406.6 L1560.3,1405.8 L1562.3,1405.2 L1564.3,1404.7 L1566.3,1404.2 L1568.3,1403.9 L1570.3,1403.6 L1572.3,1403.4 L1574.3,1403.2 L1576.3,1403.0 L1578.3,1402.8 L1580.3,1402.6 L1582.3,1402.4 L1584.3,1402.3 L1586.3,1402.2 L1588.3,1402.0 L1590.3,1401.6 L1592.3,1401.0 L1594.3,1400.1 L1596.3,1398.9 L1598.3,1397.6 L1600.3,1396.1 L1602.3,1394.5 L1604.3,1392.9 L1606.3,1391.3 L1608.3,1389.7 L1610.3,1388.1 L1612.3,1386.5 L1614.3,1384.9 L1616.3,1383.3 L1618.3,1381.7 L1620.3,1380.1 L1622.3,1378.5 L1624.3,1376.9 L1626.3,1375.2 L1628.3,1373.6 L1630.3,1371.9 L1632.3,1370.2 L1634.3,1368.7 L1636.3,1367.3 L1638.3,1366.2 L1640.3,1365.3 L1642.3,1364.8 L1644.3,1364.7 L1646.3,1365.0 L1648.3,1365.7 L1650.3,1366.8 L1652.3,1368.2 L1654.3,1369.9 L1656.3,1371.8 L1658.3,1373.9 L1660.3,1376.2 L1662.3,1378.7 L1664.3,1381.3 L1666.3,1384.1 L1668.3,1387.0 L1670.3,1390.0 L1672.3,1393.0 L1674.3,1396.1 L1676.3,1399.2 L1678.3,1402.3 L1680.3,1405.6 L1682.3,1408.8 L1684.3,1412.0 L1686.3,1415.1 L1688.3,1418.1 L1690.3,1421.0 L1692.3,1423.8 L1694.3,1426.5 L1696.3,1429.1 L1698.3,1431.6 L1700.3,1434.1 L1702.3,1436.5 L1704.3,1438.8 L1706.3,1441.1 L1708.3,1443.4 L1710.3,1445.6 L1712.3,1447.8 L1714.3,1449.9 L1716.3,1451.9 L1718.3,1453.9 L1720.3,1455.7 L1722.3,1457.5 L1724.3,1459.2 L1726.3,1460.8 L1728.3,1462.2 L1730.3,1463.6 L1732.3,1464.9 L1734.3,1466.1 L1736.3,1467.3 L1738.3,1468.3 L1740.3,1469.4 L1742.3,1470.3 L1744.3,1471.2 L1746.3,1472.1 L1748.3,1472.9 L1750.3,1473.7 L1752.3,1474.4 L1754.3,1475.1 L1756.3,1475.9 L1758.3,1476.7 L1760.3,1477.5 L1762.3,1478.3 L1764.3,1479.2 L1766.3,1480.2 L1768.3,1481.1 L1770.3,1482.1 L1772.3,1483.1 L1774.3,1484.1 L1776.3,1485.2 L1778.3,1486.2 L1780.3,1487.2 L1782.3,1488.2 L1784.3,1489.3 L1786.3,1490.3 L1788.3,1491.3 L1790.3,1492.4 L1792.3,1493.4 L1794.3,1494.4 L1796.3,1495.3 L1798.3,1496.2 L1800.3,1497.1 L1802.3,1498.1 L1804.3,1498.9 L1806.3,1499.7 L1808.3,1500.3 L1810.3,1500.7 L1812.3,1500.8 L1814.3,1500.6 L1816.3,1500.1 L1818.3,1499.4 L1820.3,1498.5 L1822.3,1497.6 L1824.3,1496.8 L1826.3,1496.0 L1828.3,1495.3 L1830.3,1494.7 L1832.3,1494.1 L1834.3,1493.5 L1836.3,1493.0 L1838.3,1492.5 L1840.3,1492.0 L1842.3,1491.7 L1844.3,1491.4 L1846.3,1491.3 L1848.3,1491.2 L1850.3,1491.2 L1852.3,1491.2 L1854.3,1491.2 L1856.3,1491.3 L1858.3,1491.4 L1860.3,1491.4 L1862.3,1491.4 L1864.3,1491.4 L1866.3,1491.3 L1868.3,1491.3 L1870.3,1491.2 L1872.3,1491.1 L1874.3,1491.0 L1876.3,1490.8 L1878.3,1490.6 L1880.3,1490.4 L1882.3,1490.1 L1884.3,1489.8 L1886.3,1489.4 L1888.3,1488.8 L1890.3,1488.2 L1892.3,1487.5 L1894.3,1486.7 L1896.3,1485.9 L1898.3,1485.1 L1900.3,1484.2 L1902.3,1483.3 L1904.3,1482.4 L1906.3,1481.6 L1908.3,1480.8 L1910.3,1480.0 L1912.3,1479.2 L1914.3,1478.5 L1916.3,1477.7 L1918.3,1476.9 L1920.3,1476.2 L1922.3,1475.5 L1924.3,1474.8 L1926.3,1474.2 L1928.3,1473.6 L1930.3,1473.1 L1932.3,1472.7 L1934.3,1472.3 L1936.3,1471.9 L1938.3,1471.6 L1940.3,1471.3 L1942.3,1471.0 L1944.3,1470.8 L1946.3,1470.6 L1948.3,1470.3 L1950.3,1470.1 L1952.3,1469.9 L1954.3,1469.6 L1956.3,1469.4 L1958.3,1469.2 L1960.3,1469.0 L1962.3,1468.8 L1964.3,1468.6 L1966.3,1468.5 L1968.3,1468.3 L1970.3,1468.1 L1972.3,1467.9 L1974.3,1467.6 L1976.3,1467.4 L1978.3,1467.1 L1980.3,1466.9 L1982.3,1466.6 L1984.3,1466.3 L1986.3,1466.1 L1988.3,1465.9 L1988.8,1465.7" fill="none" stroke="#2a8a3c" stroke-width="3.0" stroke-linejoin="round" stroke-linecap="round"/>
<path d="M1236.3,1591.2 L1238.3,1589.8 L1240.3,1587.9 L1242.3,1585.7 L1244.3,1583.7 L1246.3,1581.7 L1248.3,1579.8 L1250.3,1578.1 L1252.3,1576.5 L1254.3,1575.1 L1256.3,1573.7 L1258.3,1572.4 L1260.3,1571.1 L1262.3,1570.0 L1264.3,1568.8 L1266.3,1567.7 L1268.3,1566.6 L1270.3,1565.5 L1272.3,1564.5 L1274.3,1563.5 L1276.3,1562.6 L1278.3,1561.7 L1280.3,1560.8 L1282.3,1559.9 L1284.3,1559.1 L1286.3,1558.4 L1288.3,1557.6 L1290.3,1556.9 L1292.3,1556.3 L1294.3,1555.7 L1296.3,1555.2 L1298.3,1554.8 L1300.3,1554.4 L1302.3,1554.2 L1304.3,1553.9 L1306.3,1553.6 L1308.3,1553.3 L1310.3,1552.9 L1312.3,1552.4 L1314.3,1551.8 L1316.3,1551.0 L1318.3,1550.0 L1320.3,1548.8 L1322.3,1547.5 L1324.3,1546.0 L1326.3,1544.5 L1328.3,1542.7 L1330.3,1540.9 L1332.3,1538.9 L1334.3,1536.8 L1336.3,1534.4 L1338.3,1531.8 L1340.3,1529.0 L1342.3,1526.2 L1344.3,1523.4 L1346.3,1520.6 L1348.3,1517.9 L1350.3,1515.1 L1352.3,1512.5 L1354.3,1509.8 L1356.3,1507.2 L1358.3,1504.6 L1360.3,1502.1 L1362.3,1499.7 L1364.3,1497.3 L1366.3,1495.0 L1368.3,1492.7 L1370.3,1490.5 L1372.3,1488.3 L1374.3,1486.1 L1376.3,1484.0 L1378.3,1482.0 L1380.3,1480.0 L1382.3,1478.2 L1384.3,1476.5 L1386.3,1475.0 L1388.3,1473.6 L1390.3,1472.3 L1392.3,1471.1 L1394.3,1469.8 L1396.3,1468.3 L1398.3,1466.8 L1400.3,1465.2 L1402.3,1463.4 L1404.3,1461.7 L1406.3,1459.9 L1408.3,1458.1 L1410.3,1456.3 L1412.3,1454.6 L1414.3,1452.8 L1416.3,1451.1 L1418.3,1449.3 L1420.3,1447.6 L1422.3,1445.9 L1424.3,1444.2 L1426.3,1442.4 L1428.3,1440.6 L1430.3,1438.8 L1432.3,1436.9 L1434.3,1435.0 L1436.3,1433.0 L1438.3,1431.0 L1440.3,1429.0 L1442.3,1426.9 L1444.3,1424.9 L1446.3,1422.9 L1448.3,1420.9 L1450.3,1419.0 L1452.3,1417.1 L1454.3,1415.2 L1456.3,1413.3 L1458.3,1411.4 L1460.3,1409.5 L1462.3,1407.7 L1464.3,1405.9 L1466.3,1404.0 L1468.3,1402.2 L1470.3,1400.4 L1472.3,1398.6 L1474.3,1396.9 L1476.3,1395.1 L1478.3,1393.4 L1480.3,1391.7 L1482.3,1390.0 L1484.3,1388.4 L1486.3,1386.7 L1488.3,1385.0 L1490.3,1383.3 L1492.3,1381.7 L1494.3,1380.2 L1496.3,1378.8 L1498.3,1377.7 L1500.3,1376.9 L1502.3,1376.4 L1504.3,1376.4 L1506.3,1376.6 L1508.3,1377.2 L1510.3,1377.9 L1512.3,1378.7 L1514.3,1379.7 L1516.3,1380.7 L1518.3,1381.9 L1520.3,1383.1 L1522.3,1384.4 L1524.3,1385.6 L1526.3,1386.7 L1528.3,1387.7 L1530.3,1388.5 L1532.3,1389.2 L1534.3,1389.6 L1536.3,1389.8 L1538.3,1389.9 L1540.3,1389.8 L1542.3,1389.6 L1544.3,1389.3 L1546.3,1388.9 L1548.3,1388.4 L1550.3,1387.9 L1552.3,1387.3 L1554.3,1386.8 L1556.3,1386.2 L1558.3,1385.7 L1560.3,1385.3 L1562.3,1385.0 L1564.3,1384.7 L1566.3,1384.4 L1568.3,1384.2 L1570.3,1384.0 L1572.3,1383.8 L1574.3,1383.5 L1576.3,1383.3 L1578.3,1383.1 L1580.3,1382.9 L1582.3,1382.7 L1584.3,1382.5 L1586.3,1382.2 L1588.3,1381.9 L1590.3,1381.4 L1592.3,1380.7 L1594.3,1379.7 L1596.3,1378.6 L1598.3,1377.2 L1600.3,1375.6 L1602.3,1373.9 L1604.3,1372.0 L1606.3,1370.1 L1608.3,1368.1 L1610.3,1366.0 L1612.3,1363.9 L1614.3,1361.8 L1616.3,1359.7 L1618.3,1357.6 L1620.3,1355.5 L1622.3,1353.4 L1624.3,1351.4 L1626.3,1349.6 L1628.3,1348.0 L1630.3,1346.7 L1632.3,1345.6 L1634.3,1344.8 L1636.3,1344.1 L1638.3,1343.7 L1640.3,1343.5 L1642.3,1343.7 L1644.3,1344.1 L1646.3,1344.9 L1648.3,1346.0 L1650.3,1347.3 L1652.3,1349.0 L1654.3,1350.8 L1656.3,1353.0 L1658.3,1355.5 L1660.3,1358.2 L1662.3,1361.2 L1664.3,1364.4 L1666.3,1367.7 L1668.3,1371.1 L1670.3,1374.6 L1672.3,1378.2 L1674.3,1382.0 L1676.3,1385.8 L1678.3,1389.5 L1680.3,1393.0 L1682.3,1396.2 L1684.3,1399.3 L1686.3,1402.2 L1688.3,1404.9 L1690.3,1407.5 L1692.3,1409.8 L1694.3,1412.0 L1696.3,1414.1 L1698.3,1416.1 L1700.3,1417.9 L1702.3,1419.7 L1704.3,1421.4 L1706.3,1423.1 L1708.3,1424.7 L1710.3,1426.2 L1712.3,1427.7 L1714.3,1429.2 L1716.3,1430.6 L1718.3,1431.9 L1720.3,1433.2 L1722.3,1434.4 L1724.3,1435.5 L1726.3,1436.6 L1728.3,1437.6 L1730.3,1438.5 L1732.3,1439.4 L1734.3,1440.1 L1736.3,1440.8 L1738.3,1441.4 L1740.3,1442.1 L1742.3,1442.8 L1744.3,1443.7 L1746.3,1444.6 L1748.3,1445.7 L1750.3,1446.9 L1752.3,1448.1 L1754.3,1449.4 L1756.3,1450.7 L1758.3,1452.0 L1760.3,1453.3 L1762.3,1454.6 L1764.3,1455.9 L1766.3,1457.2 L1768.3,1458.6 L1770.3,1459.9 L1772.3,1461.2 L1774.3,1462.5 L1776.3,1463.7 L1778.3,1464.8 L1780.3,1465.8 L1782.3,1466.7 L1784.3,1467.5 L1786.3,1468.3 L1788.3,1469.0 L1790.3,1469.6 L1792.3,1470.1 L1794.3,1470.5 L1796.3,1470.8 L1798.3,1471.1 L1800.3,1471.2 L1802.3,1471.1 L1804.3,1471.0 L1806.3,1470.9 L1808.3,1470.6 L1810.3,1470.4 L1812.3,1470.2 L1814.3,1469.9 L1816.3,1469.7 L1818.3,1469.4 L1820.3,1469.1 L1822.3,1468.8 L1824.3,1468.5 L1826.3,1468.2 L1828.3,1468.0 L1830.3,1467.9 L1832.3,1467.9 L1834.3,1468.0 L1836.3,1468.2 L1838.3,1468.4 L1840.3,1468.7 L1842.3,1469.0 L1844.3,1469.4 L1846.3,1469.7 L1848.3,1469.9 L1850.3,1470.2 L1852.3,1470.4 L1854.3,1470.7 L1856.3,1471.0 L1858.3,1471.3 L1860.3,1471.5 L1862.3,1471.7 L1864.3,1471.9 L1866.3,1472.0 L1868.3,1472.1 L1870.3,1472.0 L1872.3,1471.7 L1874.3,1471.4 L1876.3,1470.8 L1878.3,1470.0 L1880.3,1469.1 L1882.3,1468.0 L1884.3,1466.8 L1886.3,1465.4 L1888.3,1463.9 L1890.3,1462.3 L1892.3,1460.7 L1894.3,1459.2 L1896.3,1457.8 L1898.3,1456.5 L1900.3,1455.2 L1902.3,1454.0 L1904.3,1452.8 L1906.3,1451.8 L1908.3,1450.9 L1910.3,1450.1 L1912.3,1449.4 L1914.3,1448.8 L1916.3,1448.4 L1918.3,1448.0 L1920.3,1447.6 L1922.3,1447.4 L1924.3,1447.1 L1926.3,1446.9 L1928.3,1446.7 L1930.3,1446.6 L1932.3,1446.5 L1934.3,1446.4 L1936.3,1446.4 L1938.3,1446.4 L1940.3,1446.5 L1942.3,1446.7 L1944.3,1446.9 L1946.3,1447.2 L1948.3,1447.5 L1950.3,1447.8 L1952.3,1448.1 L1954.3,1448.3 L1956.3,1448.6 L1958.3,1449.0 L1960.3,1449.3 L1962.3,1449.6 L1964.3,1450.0 L1966.3,1450.3 L1968.3,1450.5 L1970.3,1450.6 L1972.3,1450.6 L1974.3,1450.4 L1976.3,1450.1 L1978.3,1449.6 L1980.3,1449.1 L1982.3,1448.5 L1984.3,1447.9 L1986.3,1447.3 L1988.3,1446.8 L1988.8,1446.5" fill="none" stroke="#ee6a2c" stroke-width="3.0" stroke-linejoin="round" stroke-linecap="round"/>
<path d="M1236.3,1576.3 L1238.3,1575.2 L1240.3,1573.7 L1242.3,1572.0 L1244.3,1570.3 L1246.3,1568.5 L1248.3,1566.8 L1250.3,1565.2 L1252.3,1563.5 L1254.3,1561.9 L1256.3,1560.3 L1258.3,1558.7 L1260.3,1557.1 L1262.3,1555.5 L1264.3,1553.9 L1266.3,1552.3 L1268.3,1550.7 L1270.3,1549.1 L1272.3,1547.5 L1274.3,1546.0 L1276.3,1544.4 L1278.3,1542.8 L1280.3,1541.3 L1282.3,1539.7 L1284.3,1538.2 L1286.3,1536.6 L1288.3,1535.0 L1290.3,1533.4 L1292.3,1531.6 L1294.3,1529.9 L1296.3,1528.0 L1298.3,1526.0 L1300.3,1524.0 L1302.3,1521.9 L1304.3,1519.7 L1306.3,1517.6 L1308.3,1515.5 L1310.3,1513.5 L1312.3,1511.6 L1314.3,1509.8 L1316.3,1508.2 L1318.3,1506.9 L1320.3,1505.7 L1322.3,1504.7 L1324.3,1503.8 L1326.3,1503.0 L1328.3,1502.2 L1330.3,1501.2 L1332.3,1500.2 L1334.3,1499.0 L1336.3,1497.7 L1338.3,1496.4 L1340.3,1494.9 L1342.3,1493.5 L1344.3,1491.9 L1346.3,1490.3 L1348.3,1488.6 L1350.3,1486.7 L1352.3,1484.8 L1354.3,1482.7 L1356.3,1480.6 L1358.3,1478.4 L1360.3,1476.1 L1362.3,1473.7 L1364.3,1471.3 L1366.3,1468.8 L1368.3,1466.3 L1370.3,1463.7 L1372.3,1461.1 L1374.3,1458.4 L1376.3,1455.7 L1378.3,1452.9 L1380.3,1450.0 L1382.3,1447.1 L1384.3,1444.1 L1386.3,1441.1 L1388.3,1438.0 L1390.3,1434.8 L1392.3,1431.6 L1394.3,1428.3 L1396.3,1425.0 L1398.3,1421.6 L1400.3,1418.2 L1402.3,1414.8 L1404.3,1411.4 L1406.3,1407.9 L1408.3,1404.4 L1410.3,1400.8 L1412.3,1397.3 L1414.3,1393.7 L1416.3,1390.3 L1418.3,1386.8 L1420.3,1383.4 L1422.3,1380.0 L1424.3,1376.7 L1426.3,1373.3 L1428.3,1370.0 L1430.3,1366.8 L1432.3,1363.7 L1434.3,1360.7 L1436.3,1357.8 L1438.3,1355.0 L1440.3,1352.4 L1442.3,1349.9 L1444.3,1347.4 L1446.3,1345.0 L1448.3,1342.6 L1450.3,1340.2 L1452.3,1337.7 L1454.3,1335.2 L1456.3,1332.7 L1458.3,1330.1 L1460.3,1327.5 L1462.3,1324.9 L1464.3,1322.4 L1466.3,1320.0 L1468.3,1317.6 L1470.3,1315.4 L1472.3,1313.2 L1474.3,1311.1 L1476.3,1309.0 L1478.3,1307.1 L1480.3,1305.2 L1482.3,1303.4 L1484.3,1301.8 L1486.3,1300.3 L1488.3,1299.1 L1490.3,1298.1 L1492.3,1297.4 L1494.3,1296.9 L1496.3,1296.6 L1498.3,1296.5 L1500.3,1296.5 L1502.3,1296.6 L1504.3,1296.9 L1506.3,1297.4 L1508.3,1298.0 L1510.3,1298.7 L1512.3,1299.5 L1514.3,1300.4 L1516.3,1301.5 L1518.3,1302.6 L1520.3,1303.8 L1522.3,1305.0 L1524.3,1306.2 L1526.3,1307.4 L1528.3,1308.4 L1530.3,1309.3 L1532.3,1310.2 L1534.3,1310.9 L1536.3,1311.6 L1538.3,1312.3 L1540.3,1312.8 L1542.3,1313.4 L1544.3,1313.9 L1546.3,1314.4 L1548.3,1314.9 L1550.3,1315.3 L1552.3,1315.6 L1554.3,1316.0 L1556.3,1316.3 L1558.3,1316.6 L1560.3,1317.0 L1562.3,1317.4 L1564.3,1317.9 L1566.3,1318.5 L1568.3,1319.2 L1570.3,1319.8 L1572.3,1320.6 L1574.3,1321.4 L1576.3,1322.2 L1578.3,1323.0 L1580.3,1323.9 L1582.3,1324.8 L1584.3,1325.8 L1586.3,1326.9 L1588.3,1328.0 L1590.3,1329.1 L1592.3,1329.9 L1594.3,1330.6 L1596.3,1331.1 L1598.3,1331.4 L1600.3,1331.6 L1602.3,1331.7 L1604.3,1331.8 L1606.3,1331.7 L1608.3,1331.6 L1610.3,1331.5 L1612.3,1331.3 L1614.3,1331.0 L1616.3,1330.7 L1618.3,1330.4 L1620.3,1330.0 L1622.3,1329.7 L1624.3,1329.3 L1626.3,1329.0 L1628.3,1328.7 L1630.3,1328.6 L1632.3,1328.7 L1634.3,1328.9 L1636.3,1329.3 L1638.3,1329.8 L1640.3,1330.6 L1642.3,1331.5 L1644.3,1332.5 L1646.3,1333.8 L1648.3,1335.2 L1650.3,1336.8 L1652.3,1338.5 L1654.3,1340.3 L1656.3,1342.1 L1658.3,1344.1 L1660.3,1346.1 L1662.3,1348.2 L1664.3,1350.4 L1666.3,1352.7 L1668.3,1355.1 L1670.3,1357.5 L1672.3,1359.8 L1674.3,1362.0 L1676.3,1364.2 L1678.3,1366.4 L1680.3,1368.5 L1682.3,1370.5 L1684.3,1372.5 L1686.3,1374.4 L1688.3,1376.3 L1690.3,1378.0 L1692.3,1379.7 L1694.3,1381.3 L1696.3,1382.8 L1698.3,1384.3 L1700.3,1385.7 L1702.3,1387.2 L1704.3,1388.6 L1706.3,1390.1 L1708.3,1391.6 L1710.3,1393.0 L1712.3,1394.5 L1714.3,1396.0 L1716.3,1397.5 L1718.3,1399.0 L1720.3,1400.5 L1722.3,1402.0 L1724.3,1403.6 L1726.3,1405.3 L1728.3,1407.1 L1730.3,1408.9 L1732.3,1410.7 L1734.3,1412.5 L1736.3,1414.1 L1738.3,1415.6 L1740.3,1417.0 L1742.3,1418.2 L1744.3,1419.3 L1746.3,1420.2 L1748.3,1421.0 L1750.3,1421.7 L1752.3,1422.3 L1754.3,1422.7 L1756.3,1423.1 L1758.3,1423.3 L1760.3,1423.4 L1762.3,1423.4 L1764.3,1423.4 L1766.3,1423.4 L1768.3,1423.4 L1770.3,1423.5 L1772.3,1423.6 L1774.3,1423.8 L1776.3,1424.1 L1778.3,1424.5 L1780.3,1425.0 L1782.3,1425.6 L1784.3,1426.2 L1786.3,1426.9 L1788.3,1427.6 L1790.3,1428.3 L1792.3,1429.1 L1794.3,1429.8 L1796.3,1430.6 L1798.3,1431.3 L1800.3,1432.1 L1802.3,1432.9 L1804.3,1433.7 L1806.3,1434.5 L1808.3,1435.1 L1810.3,1435.7 L1812.3,1436.3 L1814.3,1436.9 L1816.3,1437.4 L1818.3,1437.9 L1820.3,1438.2 L1822.3,1438.5 L1824.3,1438.7 L1826.3,1438.8 L1828.3,1438.7 L1830.3,1438.5 L1832.3,1438.1 L1834.3,1437.6 L1836.3,1437.1 L1838.3,1436.5 L1840.3,1435.8 L1842.3,1435.2 L1844.3,1434.6 L1846.3,1434.0 L1848.3,1433.4 L1850.3,1432.7 L1852.3,1432.1 L1854.3,1431.4 L1856.3,1430.8 L1858.3,1430.2 L1860.3,1429.6 L1862.3,1429.0 L1864.3,1428.5 L1866.3,1428.0 L1868.3,1427.5 L1870.3,1427.0 L1872.3,1426.5 L1874.3,1426.0 L1876.3,1425.5 L1878.3,1425.0 L1880.3,1424.6 L1882.3,1424.1 L1884.3,1423.7 L1886.3,1423.2 L1888.3,1422.8 L1890.3,1422.3 L1892.3,1421.7 L1894.3,1421.1 L1896.3,1420.4 L1898.3,1419.6 L1900.3,1418.7 L1902.3,1417.7 L1904.3,1416.7 L1906.3,1415.7 L1908.3,1414.6 L1910.3,1413.5 L1912.3,1412.4 L1914.3,1411.2 L1916.3,1409.9 L1918.3,1408.6 L1920.3,1407.3 L1922.3,1406.0 L1924.3,1404.7 L1926.3,1403.4 L1928.3,1402.3 L1930.3,1401.3 L1932.3,1400.4 L1934.3,1399.6 L1936.3,1398.9 L1938.3,1398.3 L1940.3,1397.7 L1942.3,1397.2 L1944.3,1396.7 L1946.3,1396.2 L1948.3,1395.8 L1950.3,1395.5 L1952.3,1395.1 L1954.3,1394.8 L1956.3,1394.5 L1958.3,1394.3 L1960.3,1394.0 L1962.3,1393.8 L1964.3,1393.5 L1966.3,1393.2 L1968.3,1392.8 L1970.3,1392.5 L1972.3,1392.1 L1974.3,1391.7 L1976.3,1391.3 L1978.3,1390.9 L1980.3,1390.4 L1982.3,1390.0 L1984.3,1389.5 L1986.3,1389.1 L1988.3,1388.8 L1988.8,1388.6" fill="none" stroke="#37bde9" stroke-width="3.0" stroke-linejoin="round" stroke-linecap="round"/>
<path d="M1236.3,1591.3 L1238.3,1590.2 L1240.3,1588.6 L1242.3,1586.9 L1244.3,1585.1 L1246.3,1583.4 L1248.3,1581.7 L1250.3,1580.2 L1252.3,1578.6 L1254.3,1577.2 L1256.3,1575.7 L1258.3,1574.4 L1260.3,1573.0 L1262.3,1571.7 L1264.3,1570.3 L1266.3,1569.0 L1268.3,1567.5 L1270.3,1566.1 L1272.3,1564.6 L1274.3,1563.0 L1276.3,1561.3 L1278.3,1559.5 L1280.3,1557.7 L1282.3,1555.9 L1284.3,1554.0 L1286.3,1552.2 L1288.3,1550.5 L1290.3,1548.9 L1292.3,1547.5 L1294.3,1546.1 L1296.3,1544.9 L1298.3,1543.9 L1300.3,1543.0 L1302.3,1542.1 L1304.3,1541.4 L1306.3,1540.6 L1308.3,1539.8 L1310.3,1539.1 L1312.3,1538.3 L1314.3,1537.4 L1316.3,1536.3 L1318.3,1535.2 L1320.3,1533.8 L1322.3,1532.3 L1324.3,1530.6 L1326.3,1528.6 L1328.3,1526.5 L1330.3,1524.2 L1332.3,1521.7 L1334.3,1518.9 L1336.3,1516.0 L1338.3,1512.8 L1340.3,1509.2 L1342.3,1505.3 L1344.3,1501.1 L1346.3,1496.9 L1348.3,1492.7 L1350.3,1488.8 L1352.3,1485.0 L1354.3,1481.4 L1356.3,1478.0 L1358.3,1474.7 L1360.3,1471.6 L1362.3,1468.7 L1364.3,1466.1 L1366.3,1463.7 L1368.3,1461.5 L1370.3,1459.3 L1372.3,1457.2 L1374.3,1455.1 L1376.3,1452.9 L1378.3,1450.5 L1380.3,1448.0 L1382.3,1445.2 L1384.3,1442.4 L1386.3,1439.4 L1388.3,1436.3 L1390.3,1433.2 L1392.3,1430.1 L1394.3,1427.1 L1396.3,1424.1 L1398.3,1421.2 L1400.3,1418.3 L1402.3,1415.6 L1404.3,1412.8 L1406.3,1410.1 L1408.3,1407.4 L1410.3,1404.6 L1412.3,1401.9 L1414.3,1399.2 L1416.3,1396.5 L1418.3,1393.7 L1420.3,1391.0 L1422.3,1388.3 L1424.3,1385.6 L1426.3,1382.8 L1428.3,1380.0 L1430.3,1377.2 L1432.3,1374.3 L1434.3,1371.4 L1436.3,1368.5 L1438.3,1365.5 L1440.3,1362.4 L1442.3,1359.4 L1444.3,1356.4 L1446.3,1353.4 L1448.3,1350.4 L1450.3,1347.4 L1452.3,1344.4 L1454.3,1341.5 L1456.3,1338.5 L1458.3,1335.6 L1460.3,1332.6 L1462.3,1329.5 L1464.3,1326.4 L1466.3,1323.1 L1468.3,1319.6 L1470.3,1316.0 L1472.3,1312.3 L1474.3,1308.5 L1476.3,1304.8 L1478.3,1301.2 L1480.3,1297.7 L1482.3,1294.3 L1484.3,1290.9 L1486.3,1287.7 L1488.3,1284.7 L1490.3,1282.0 L1492.3,1279.6 L1494.3,1277.6 L1496.3,1275.9 L1498.3,1274.6 L1500.3,1273.7 L1502.3,1273.0 L1504.3,1272.6 L1506.3,1272.5 L1508.3,1272.6 L1510.3,1273.1 L1512.3,1273.9 L1514.3,1274.8 L1516.3,1276.0 L1518.3,1277.3 L1520.3,1278.8 L1522.3,1280.5 L1524.3,1282.4 L1526.3,1284.4 L1528.3,1286.5 L1530.3,1288.9 L1532.3,1291.4 L1534.3,1294.0 L1536.3,1296.7 L1538.3,1299.4 L1540.3,1302.1 L1542.3,1304.9 L1544.3,1307.8 L1546.3,1310.6 L1548.3,1313.5 L1550.3,1316.3 L1552.3,1319.1 L1554.3,1321.9 L1556.3,1324.7 L1558.3,1327.4 L1560.3,1330.0 L1562.3,1332.6 L1564.3,1335.0 L1566.3,1337.3 L1568.3,1339.5 L1570.3,1341.6 L1572.3,1343.5 L1574.3,1345.4 L1576.3,1347.1 L1578.3,1348.7 L1580.3,1350.2 L1582.3,1351.5 L1584.3,1352.7 L1586.3,1353.7 L1588.3,1354.6 L1590.3,1355.4 L1592.3,1356.0 L1594.3,1356.5 L1596.3,1356.9 L1598.3,1357.3 L1600.3,1357.6 L1602.3,1357.8 L1604.3,1357.9 L1606.3,1358.1 L1608.3,1358.2 L1610.3,1358.3 L1612.3,1358.3 L1614.3,1358.4 L1616.3,1358.5 L1618.3,1358.7 L1620.3,1358.9 L1622.3,1359.2 L1624.3,1359.5 L1626.3,1360.0 L1628.3,1360.5 L1630.3,1361.2 L1632.3,1361.9 L1634.3,1362.7 L1636.3,1363.6 L1638.3,1364.6 L1640.3,1365.7 L1642.3,1366.9 L1644.3,1368.3 L1646.3,1369.9 L1648.3,1371.7 L1650.3,1373.6 L1652.3,1375.8 L1654.3,1377.9 L1656.3,1380.2 L1658.3,1382.4 L1660.3,1384.6 L1662.3,1386.9 L1664.3,1389.2 L1666.3,1391.5 L1668.3,1393.8 L1670.3,1396.2 L1672.3,1398.4 L1674.3,1400.6 L1676.3,1402.6 L1678.3,1404.5 L1680.3,1406.3 L1682.3,1407.9 L1684.3,1409.4 L1686.3,1410.9 L1688.3,1412.3 L1690.3,1413.7 L1692.3,1415.1 L1694.3,1416.4 L1696.3,1417.7 L1698.3,1419.0 L1700.3,1420.2 L1702.3,1421.4 L1704.3,1422.6 L1706.3,1423.8 L1708.3,1425.1 L1710.3,1426.4 L1712.3,1427.9 L1714.3,1429.6 L1716.3,1431.4 L1718.3,1433.2 L1720.3,1434.9 L1722.3,1436.4 L1724.3,1437.6 L1726.3,1438.6 L1728.3,1439.3 L1730.3,1439.9 L1732.3,1440.5 L1734.3,1440.9 L1736.3,1441.3 L1738.3,1441.6 L1740.3,1441.9 L1742.3,1442.2 L1744.3,1442.4 L1746.3,1442.5 L1748.3,1442.6 L1750.3,1442.7 L1752.3,1442.8 L1754.3,1442.9 L1756.3,1443.0 L1758.3,1443.2 L1760.3,1443.5 L1762.3,1443.8 L1764.3,1444.2 L1766.3,1444.6 L1768.3,1445.0 L1770.3,1445.4 L1772.3,1445.8 L1774.3,1446.2 L1776.3,1446.4 L1778.3,1446.7 L1780.3,1446.9 L1782.3,1447.1 L1784.3,1447.3 L1786.3,1447.4 L1788.3,1447.5 L1790.3,1447.5 L1792.3,1447.4 L1794.3,1447.3 L1796.3,1447.0 L1798.3,1446.7 L1800.3,1446.4 L1802.3,1446.0 L1804.3,1445.5 L1806.3,1445.1 L1808.3,1444.6 L1810.3,1444.2 L1812.3,1443.7 L1814.3,1443.3 L1816.3,1442.8 L1818.3,1442.3 L1820.3,1441.8 L1822.3,1441.3 L1824.3,1440.7 L1826.3,1440.2 L1828.3,1439.6 L1830.3,1439.0 L1832.3,1438.4 L1834.3,1437.7 L1836.3,1437.1 L1838.3,1436.4 L1840.3,1435.8 L1842.3,1435.2 L1844.3,1434.6 L1846.3,1434.0 L1848.3,1433.4 L1850.3,1432.9 L1852.3,1432.3 L1854.3,1431.8 L1856.3,1431.3 L1858.3,1430.9 L1860.3,1430.5 L1862.3,1430.3 L1864.3,1430.2 L1866.3,1430.2 L1868.3,1430.2 L1870.3,1430.3 L1872.3,1430.4 L1874.3,1430.5 L1876.3,1430.4 L1878.3,1430.2 L1880.3,1430.0 L1882.3,1429.5 L1884.3,1429.0 L1886.3,1428.3 L1888.3,1427.5 L1890.3,1426.5 L1892.3,1425.4 L1894.3,1424.1 L1896.3,1422.6 L1898.3,1421.1 L1900.3,1419.5 L1902.3,1417.9 L1904.3,1416.4 L1906.3,1414.9 L1908.3,1413.4 L1910.3,1412.0 L1912.3,1410.6 L1914.3,1409.4 L1916.3,1408.3 L1918.3,1407.3 L1920.3,1406.5 L1922.3,1405.7 L1924.3,1405.0 L1926.3,1404.3 L1928.3,1403.7 L1930.3,1403.2 L1932.3,1402.8 L1934.3,1402.6 L1936.3,1402.4 L1938.3,1402.4 L1940.3,1402.5 L1942.3,1402.6 L1944.3,1402.9 L1946.3,1403.1 L1948.3,1403.3 L1950.3,1403.5 L1952.3,1403.6 L1954.3,1403.7 L1956.3,1403.8 L1958.3,1404.0 L1960.3,1404.0 L1962.3,1404.1 L1964.3,1404.0 L1966.3,1403.8 L1968.3,1403.5 L1970.3,1403.0 L1972.3,1402.5 L1974.3,1401.8 L1976.3,1401.1 L1978.3,1400.3 L1980.3,1399.6 L1982.3,1398.7 L1984.3,1397.9 L1986.3,1397.2 L1988.3,1396.6 L1988.8,1396.2" fill="none" stroke="#8a3ea6" stroke-width="3.0" stroke-linejoin="round" stroke-linecap="round"/>
<line x1="1784.5" y1="1012.4" x2="1861.9" y2="1012.4" stroke="#161616" stroke-width="2.3"/>
<text transform="translate(1869.98,1020.20) scale(1.1372,1)" font-family="'Liberation Sans', Arial, Helvetica, sans-serif" fill="#161616" stroke="#161616" stroke-width="0"><tspan x="0.00" y="0.00" font-size="23" font-weight="bold">t = 6h</tspan></text>
<line x1="1784.5" y1="1043.2" x2="1861.9" y2="1043.2" stroke="#dc2b2e" stroke-width="2.3"/>
<text transform="translate(1869.98,1051.00) scale(1.1372,1)" font-family="'Liberation Sans', Arial, Helvetica, sans-serif" fill="#dc2b2e" stroke="#dc2b2e" stroke-width="0"><tspan x="0.00" y="0.00" font-size="23" font-weight="bold">t = 12h</tspan></text>
<line x1="1784.5" y1="1074.6" x2="1861.9" y2="1074.6" stroke="#2d38a6" stroke-width="2.3"/>
<text transform="translate(1869.98,1082.40) scale(1.1372,1)" font-family="'Liberation Sans', Arial, Helvetica, sans-serif" fill="#2d38a6" stroke="#2d38a6" stroke-width="0"><tspan x="0.00" y="0.00" font-size="23" font-weight="bold">t = 20h</tspan></text>
<line x1="1784.5" y1="1105.4" x2="1861.9" y2="1105.4" stroke="#2a8a3c" stroke-width="2.3"/>
<text transform="translate(1869.98,1113.20) scale(1.1372,1)" font-family="'Liberation Sans', Arial, Helvetica, sans-serif" fill="#2a8a3c" stroke="#2a8a3c" stroke-width="0"><tspan x="0.00" y="0.00" font-size="23" font-weight="bold">t = 40h</tspan></text>
<line x1="1784.5" y1="1136.3" x2="1861.9" y2="1136.3" stroke="#ee6a2c" stroke-width="2.3"/>
<text transform="translate(1869.98,1144.10) scale(1.1372,1)" font-family="'Liberation Sans', Arial, Helvetica, sans-serif" fill="#ee6a2c" stroke="#ee6a2c" stroke-width="0"><tspan x="0.00" y="0.00" font-size="23" font-weight="bold">t = 60h</tspan></text>
<line x1="1784.5" y1="1167.1" x2="1861.9" y2="1167.1" stroke="#37bde9" stroke-width="2.3"/>
<text transform="translate(1869.98,1174.90) scale(1.1372,1)" font-family="'Liberation Sans', Arial, Helvetica, sans-serif" fill="#37bde9" stroke="#37bde9" stroke-width="0"><tspan x="0.00" y="0.00" font-size="23" font-weight="bold">t = 100h</tspan></text>
<line x1="1784.5" y1="1197.9" x2="1861.9" y2="1197.9" stroke="#8a3ea6" stroke-width="2.3"/>
<text transform="translate(1869.98,1205.70) scale(1.1372,1)" font-family="'Liberation Sans', Arial, Helvetica, sans-serif" fill="#8a3ea6" stroke="#8a3ea6" stroke-width="0"><tspan x="0.00" y="0.00" font-size="23" font-weight="bold">t = 140h</tspan></text>
<text transform="translate(1516.60,1241.84) rotate(-90) scale(0.9954,1)" font-family="'Liberation Sans', Arial, Helvetica, sans-serif" fill="#151515" stroke="#151515" stroke-width="0.35"><tspan x="0.00" y="0.00" font-size="32">δNHD (FA)</tspan></text>
<text transform="translate(1658.10,1301.80) rotate(-90) scale(0.9677,1)" font-family="'Liberation Sans', Arial, Helvetica, sans-serif" fill="#151515" stroke="#151515" stroke-width="0.35"><tspan x="0.00" y="0.00" font-size="32">δNHD (ISO-I)</tspan></text>
<text transform="translate(1802.60,1395.39) rotate(-90) scale(1.0040,1)" font-family="'Liberation Sans', Arial, Helvetica, sans-serif" fill="#151515" stroke="#151515" stroke-width="0.35"><tspan x="0.00" y="0.00" font-size="30.5">δNH</tspan><tspan x="61.03" y="2.00" font-size="22">3</tspan><tspan x="73.27" y="-13.00" font-size="17">+</tspan></text>
</g>
</svg>
</body></html>
